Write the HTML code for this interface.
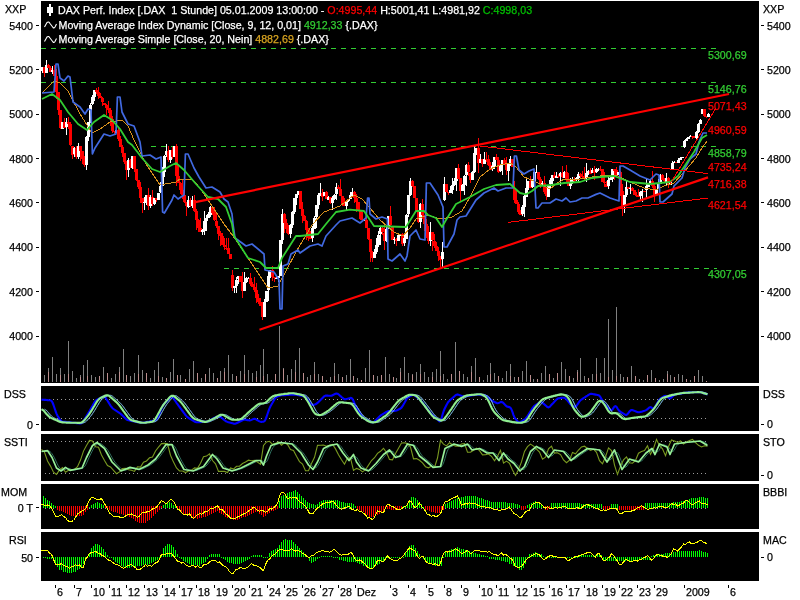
<!DOCTYPE html><html><head><meta charset="utf-8"><title>DAX Perf. Index</title>
<style>html,body{margin:0;padding:0;background:#fff;width:800px;height:600px;overflow:hidden}svg{display:block}text{font-family:"Liberation Sans",sans-serif;font-size:10.68px;fill:#000}text{stroke:#000;stroke-width:.25px}.w{fill:#fff;stroke:#fff}.r{fill:#ff0000;stroke:#ff0000}.g{fill:#32cd32;stroke:#32cd32}.o{fill:#daa520;stroke:#daa520}.c{fill:#00c000;stroke:#00c000}</style></head><body>
<svg width="800" height="600" viewBox="0 0 800 600">
<rect width="800" height="600" fill="#fff"/>
<rect x="41" y="1" width="718" height="382" fill="#000"/>
<rect x="41" y="386" width="718" height="45" fill="#000"/>
<rect x="41" y="434" width="718" height="47" fill="#000"/>
<rect x="41" y="484" width="718" height="45" fill="#000"/>
<rect x="41" y="532" width="718" height="49" fill="#000"/>
<line x1="41" y1="48.5" x2="717" y2="48.5" stroke="#32cd32" stroke-width="1" stroke-dasharray="5 5" shape-rendering="crispEdges"/>
<line x1="41" y1="82.5" x2="717" y2="82.5" stroke="#32cd32" stroke-width="1" stroke-dasharray="5 5" shape-rendering="crispEdges"/>
<line x1="151" y1="146.5" x2="717" y2="146.5" stroke="#32cd32" stroke-width="1" stroke-dasharray="5 5" shape-rendering="crispEdges"/>
<line x1="224" y1="268.5" x2="717" y2="268.5" stroke="#32cd32" stroke-width="1" stroke-dasharray="5 5" shape-rendering="crispEdges"/>
<g shape-rendering="crispEdges">
<rect x="44" y="375" width="1" height="7" fill="#808080"/>
<rect x="48" y="368" width="1" height="14" fill="#808080"/>
<rect x="48" y="372" width="1" height="10" fill="#bc8f8f"/>
<rect x="52" y="357" width="1" height="25" fill="#808080"/>
<rect x="56" y="374" width="1" height="8" fill="#808080"/>
<rect x="60" y="368" width="1" height="14" fill="#808080"/>
<rect x="60" y="375" width="1" height="7" fill="#bc8f8f"/>
<rect x="64" y="374" width="1" height="8" fill="#808080"/>
<rect x="68" y="341" width="1" height="41" fill="#808080"/>
<rect x="68" y="374" width="1" height="8" fill="#bc8f8f"/>
<rect x="72" y="371" width="1" height="11" fill="#808080"/>
<rect x="76" y="378" width="1" height="4" fill="#808080"/>
<rect x="80" y="375" width="1" height="7" fill="#808080"/>
<rect x="80" y="377" width="1" height="5" fill="#bc8f8f"/>
<rect x="83" y="365" width="1" height="17" fill="#808080"/>
<rect x="87" y="360" width="1" height="22" fill="#808080"/>
<rect x="87" y="376" width="1" height="6" fill="#bc8f8f"/>
<rect x="91" y="375" width="1" height="7" fill="#808080"/>
<rect x="95" y="377" width="1" height="5" fill="#808080"/>
<rect x="99" y="376" width="1" height="6" fill="#808080"/>
<rect x="99" y="376" width="1" height="6" fill="#bc8f8f"/>
<rect x="103" y="367" width="1" height="15" fill="#808080"/>
<rect x="107" y="373" width="1" height="9" fill="#808080"/>
<rect x="107" y="373" width="1" height="9" fill="#bc8f8f"/>
<rect x="111" y="378" width="1" height="4" fill="#808080"/>
<rect x="115" y="374" width="1" height="8" fill="#808080"/>
<rect x="119" y="367" width="1" height="15" fill="#808080"/>
<rect x="119" y="372" width="1" height="10" fill="#bc8f8f"/>
<rect x="123" y="349" width="1" height="33" fill="#808080"/>
<rect x="126" y="375" width="1" height="7" fill="#808080"/>
<rect x="126" y="375" width="1" height="7" fill="#bc8f8f"/>
<rect x="130" y="376" width="1" height="6" fill="#808080"/>
<rect x="134" y="373" width="1" height="9" fill="#808080"/>
<rect x="138" y="355" width="1" height="27" fill="#808080"/>
<rect x="138" y="374" width="1" height="8" fill="#bc8f8f"/>
<rect x="142" y="370" width="1" height="12" fill="#808080"/>
<rect x="146" y="373" width="1" height="9" fill="#808080"/>
<rect x="146" y="373" width="1" height="9" fill="#bc8f8f"/>
<rect x="150" y="378" width="1" height="4" fill="#808080"/>
<rect x="154" y="370" width="1" height="12" fill="#808080"/>
<rect x="158" y="362" width="1" height="20" fill="#808080"/>
<rect x="158" y="376" width="1" height="6" fill="#bc8f8f"/>
<rect x="162" y="377" width="1" height="5" fill="#808080"/>
<rect x="166" y="378" width="1" height="4" fill="#808080"/>
<rect x="166" y="378" width="1" height="4" fill="#bc8f8f"/>
<rect x="170" y="372" width="1" height="10" fill="#808080"/>
<rect x="173" y="359" width="1" height="23" fill="#808080"/>
<rect x="177" y="375" width="1" height="7" fill="#808080"/>
<rect x="177" y="375" width="1" height="7" fill="#bc8f8f"/>
<rect x="180" y="375" width="1" height="7" fill="#808080"/>
<rect x="185" y="379" width="1" height="3" fill="#808080"/>
<rect x="185" y="379" width="1" height="3" fill="#bc8f8f"/>
<rect x="189" y="369" width="1" height="13" fill="#808080"/>
<rect x="193" y="361" width="1" height="21" fill="#808080"/>
<rect x="197" y="373" width="1" height="9" fill="#808080"/>
<rect x="197" y="373" width="1" height="9" fill="#bc8f8f"/>
<rect x="201" y="378" width="1" height="4" fill="#808080"/>
<rect x="205" y="374" width="1" height="8" fill="#808080"/>
<rect x="205" y="374" width="1" height="8" fill="#bc8f8f"/>
<rect x="209" y="368" width="1" height="14" fill="#808080"/>
<rect x="213" y="373" width="1" height="9" fill="#808080"/>
<rect x="217" y="378" width="1" height="4" fill="#808080"/>
<rect x="217" y="378" width="1" height="4" fill="#bc8f8f"/>
<rect x="220" y="371" width="1" height="11" fill="#808080"/>
<rect x="224" y="368" width="1" height="14" fill="#808080"/>
<rect x="224" y="372" width="1" height="10" fill="#bc8f8f"/>
<rect x="228" y="355" width="1" height="27" fill="#808080"/>
<rect x="232" y="374" width="1" height="8" fill="#808080"/>
<rect x="236" y="376" width="1" height="6" fill="#808080"/>
<rect x="236" y="376" width="1" height="6" fill="#bc8f8f"/>
<rect x="240" y="371" width="1" height="11" fill="#808080"/>
<rect x="244" y="355" width="1" height="27" fill="#808080"/>
<rect x="244" y="374" width="1" height="8" fill="#bc8f8f"/>
<rect x="248" y="370" width="1" height="12" fill="#808080"/>
<rect x="252" y="373" width="1" height="9" fill="#808080"/>
<rect x="256" y="371" width="1" height="11" fill="#808080"/>
<rect x="256" y="377" width="1" height="5" fill="#bc8f8f"/>
<rect x="260" y="365" width="1" height="17" fill="#808080"/>
<rect x="263" y="349" width="1" height="33" fill="#808080"/>
<rect x="263" y="376" width="1" height="6" fill="#bc8f8f"/>
<rect x="267" y="374" width="1" height="8" fill="#808080"/>
<rect x="271" y="380" width="1" height="2" fill="#808080"/>
<rect x="275" y="374" width="1" height="8" fill="#808080"/>
<rect x="275" y="374" width="1" height="8" fill="#bc8f8f"/>
<rect x="279" y="326" width="1" height="56" fill="#808080"/>
<rect x="283" y="368" width="1" height="14" fill="#808080"/>
<rect x="283" y="369" width="1" height="13" fill="#bc8f8f"/>
<rect x="287" y="375" width="1" height="7" fill="#808080"/>
<rect x="291" y="369" width="1" height="13" fill="#808080"/>
<rect x="295" y="360" width="1" height="22" fill="#808080"/>
<rect x="295" y="372" width="1" height="10" fill="#bc8f8f"/>
<rect x="299" y="348" width="1" height="34" fill="#808080"/>
<rect x="303" y="373" width="1" height="9" fill="#808080"/>
<rect x="303" y="373" width="1" height="9" fill="#bc8f8f"/>
<rect x="307" y="377" width="1" height="5" fill="#808080"/>
<rect x="310" y="375" width="1" height="7" fill="#808080"/>
<rect x="314" y="362" width="1" height="20" fill="#808080"/>
<rect x="314" y="374" width="1" height="8" fill="#bc8f8f"/>
<rect x="318" y="374" width="1" height="8" fill="#808080"/>
<rect x="322" y="376" width="1" height="6" fill="#808080"/>
<rect x="322" y="376" width="1" height="6" fill="#bc8f8f"/>
<rect x="326" y="380" width="1" height="2" fill="#808080"/>
<rect x="330" y="377" width="1" height="5" fill="#808080"/>
<rect x="334" y="363" width="1" height="19" fill="#808080"/>
<rect x="334" y="376" width="1" height="6" fill="#bc8f8f"/>
<rect x="338" y="374" width="1" height="8" fill="#808080"/>
<rect x="342" y="377" width="1" height="5" fill="#808080"/>
<rect x="342" y="377" width="1" height="5" fill="#bc8f8f"/>
<rect x="346" y="375" width="1" height="7" fill="#808080"/>
<rect x="350" y="359" width="1" height="23" fill="#808080"/>
<rect x="353" y="376" width="1" height="6" fill="#808080"/>
<rect x="353" y="376" width="1" height="6" fill="#bc8f8f"/>
<rect x="357" y="378" width="1" height="4" fill="#808080"/>
<rect x="361" y="380" width="1" height="2" fill="#808080"/>
<rect x="361" y="380" width="1" height="2" fill="#bc8f8f"/>
<rect x="365" y="368" width="1" height="14" fill="#808080"/>
<rect x="369" y="350" width="1" height="32" fill="#808080"/>
<rect x="373" y="375" width="1" height="7" fill="#808080"/>
<rect x="373" y="375" width="1" height="7" fill="#bc8f8f"/>
<rect x="377" y="376" width="1" height="6" fill="#808080"/>
<rect x="381" y="375" width="1" height="7" fill="#808080"/>
<rect x="381" y="375" width="1" height="7" fill="#bc8f8f"/>
<rect x="385" y="357" width="1" height="25" fill="#808080"/>
<rect x="389" y="374" width="1" height="8" fill="#808080"/>
<rect x="393" y="377" width="1" height="5" fill="#808080"/>
<rect x="393" y="377" width="1" height="5" fill="#bc8f8f"/>
<rect x="396" y="378" width="1" height="4" fill="#808080"/>
<rect x="400" y="368" width="1" height="14" fill="#808080"/>
<rect x="400" y="372" width="1" height="10" fill="#bc8f8f"/>
<rect x="404" y="357" width="1" height="25" fill="#808080"/>
<rect x="408" y="373" width="1" height="9" fill="#808080"/>
<rect x="412" y="374" width="1" height="8" fill="#808080"/>
<rect x="412" y="375" width="1" height="7" fill="#bc8f8f"/>
<rect x="416" y="372" width="1" height="10" fill="#808080"/>
<rect x="420" y="364" width="1" height="18" fill="#808080"/>
<rect x="420" y="374" width="1" height="8" fill="#bc8f8f"/>
<rect x="424" y="372" width="1" height="10" fill="#808080"/>
<rect x="428" y="377" width="1" height="5" fill="#808080"/>
<rect x="432" y="372" width="1" height="10" fill="#808080"/>
<rect x="432" y="377" width="1" height="5" fill="#bc8f8f"/>
<rect x="436" y="369" width="1" height="13" fill="#808080"/>
<rect x="440" y="351" width="1" height="31" fill="#808080"/>
<rect x="440" y="376" width="1" height="6" fill="#bc8f8f"/>
<rect x="443" y="374" width="1" height="8" fill="#808080"/>
<rect x="447" y="379" width="1" height="3" fill="#808080"/>
<rect x="451" y="374" width="1" height="8" fill="#808080"/>
<rect x="451" y="374" width="1" height="8" fill="#bc8f8f"/>
<rect x="455" y="342" width="1" height="40" fill="#808080"/>
<rect x="459" y="371" width="1" height="11" fill="#808080"/>
<rect x="459" y="371" width="1" height="11" fill="#bc8f8f"/>
<rect x="463" y="374" width="1" height="8" fill="#808080"/>
<rect x="467" y="377" width="1" height="5" fill="#808080"/>
<rect x="471" y="366" width="1" height="16" fill="#808080"/>
<rect x="471" y="372" width="1" height="10" fill="#bc8f8f"/>
<rect x="475" y="358" width="1" height="24" fill="#808080"/>
<rect x="479" y="377" width="1" height="5" fill="#808080"/>
<rect x="479" y="377" width="1" height="5" fill="#bc8f8f"/>
<rect x="483" y="380" width="1" height="2" fill="#808080"/>
<rect x="487" y="375" width="1" height="7" fill="#808080"/>
<rect x="490" y="363" width="1" height="19" fill="#808080"/>
<rect x="490" y="374" width="1" height="8" fill="#bc8f8f"/>
<rect x="494" y="373" width="1" height="9" fill="#808080"/>
<rect x="498" y="376" width="1" height="6" fill="#808080"/>
<rect x="498" y="376" width="1" height="6" fill="#bc8f8f"/>
<rect x="502" y="378" width="1" height="4" fill="#808080"/>
<rect x="506" y="371" width="1" height="11" fill="#808080"/>
<rect x="510" y="364" width="1" height="18" fill="#808080"/>
<rect x="510" y="376" width="1" height="6" fill="#bc8f8f"/>
<rect x="514" y="377" width="1" height="5" fill="#808080"/>
<rect x="518" y="377" width="1" height="5" fill="#808080"/>
<rect x="518" y="377" width="1" height="5" fill="#bc8f8f"/>
<rect x="522" y="371" width="1" height="11" fill="#808080"/>
<rect x="526" y="361" width="1" height="21" fill="#808080"/>
<rect x="530" y="375" width="1" height="7" fill="#808080"/>
<rect x="530" y="375" width="1" height="7" fill="#bc8f8f"/>
<rect x="533" y="379" width="1" height="3" fill="#808080"/>
<rect x="537" y="379" width="1" height="3" fill="#808080"/>
<rect x="537" y="379" width="1" height="3" fill="#bc8f8f"/>
<rect x="541" y="373" width="1" height="9" fill="#808080"/>
<rect x="545" y="366" width="1" height="16" fill="#808080"/>
<rect x="549" y="374" width="1" height="8" fill="#808080"/>
<rect x="549" y="374" width="1" height="8" fill="#bc8f8f"/>
<rect x="553" y="378" width="1" height="4" fill="#808080"/>
<rect x="557" y="373" width="1" height="9" fill="#808080"/>
<rect x="557" y="373" width="1" height="9" fill="#bc8f8f"/>
<rect x="561" y="362" width="1" height="20" fill="#808080"/>
<rect x="565" y="369" width="1" height="13" fill="#808080"/>
<rect x="569" y="376" width="1" height="6" fill="#808080"/>
<rect x="569" y="376" width="1" height="6" fill="#bc8f8f"/>
<rect x="573" y="378" width="1" height="4" fill="#808080"/>
<rect x="577" y="370" width="1" height="12" fill="#808080"/>
<rect x="577" y="372" width="1" height="10" fill="#bc8f8f"/>
<rect x="580" y="358" width="1" height="24" fill="#808080"/>
<rect x="584" y="376" width="1" height="6" fill="#808080"/>
<rect x="588" y="378" width="1" height="4" fill="#808080"/>
<rect x="588" y="378" width="1" height="4" fill="#bc8f8f"/>
<rect x="592" y="374" width="1" height="8" fill="#808080"/>
<rect x="596" y="358" width="1" height="24" fill="#808080"/>
<rect x="596" y="374" width="1" height="8" fill="#bc8f8f"/>
<rect x="600" y="373" width="1" height="9" fill="#808080"/>
<rect x="604" y="358" width="1" height="24" fill="#808080"/>
<rect x="608" y="319" width="1" height="63" fill="#808080"/>
<rect x="608" y="377" width="1" height="5" fill="#bc8f8f"/>
<rect x="612" y="370" width="1" height="12" fill="#808080"/>
<rect x="616" y="307" width="1" height="75" fill="#808080"/>
<rect x="616" y="376" width="1" height="6" fill="#bc8f8f"/>
<rect x="620" y="374" width="1" height="8" fill="#808080"/>
<rect x="623" y="377" width="1" height="5" fill="#808080"/>
<rect x="627" y="377" width="1" height="5" fill="#808080"/>
<rect x="627" y="377" width="1" height="5" fill="#bc8f8f"/>
<rect x="631" y="366" width="1" height="16" fill="#808080"/>
<rect x="635" y="376" width="1" height="6" fill="#808080"/>
<rect x="635" y="376" width="1" height="6" fill="#bc8f8f"/>
<rect x="639" y="379" width="1" height="3" fill="#808080"/>
<rect x="643" y="380" width="1" height="2" fill="#808080"/>
<rect x="647" y="375" width="1" height="7" fill="#808080"/>
<rect x="647" y="375" width="1" height="7" fill="#bc8f8f"/>
<rect x="651" y="370" width="1" height="12" fill="#808080"/>
<rect x="655" y="378" width="1" height="4" fill="#808080"/>
<rect x="655" y="378" width="1" height="4" fill="#bc8f8f"/>
<rect x="659" y="380" width="1" height="2" fill="#808080"/>
<rect x="663" y="379" width="1" height="3" fill="#808080"/>
<rect x="667" y="371" width="1" height="11" fill="#808080"/>
<rect x="667" y="374" width="1" height="8" fill="#bc8f8f"/>
<rect x="670" y="375" width="1" height="7" fill="#808080"/>
<rect x="674" y="377" width="1" height="5" fill="#808080"/>
<rect x="674" y="377" width="1" height="5" fill="#bc8f8f"/>
<rect x="678" y="374" width="1" height="8" fill="#808080"/>
<rect x="682" y="375" width="1" height="7" fill="#808080"/>
<rect x="686" y="379" width="1" height="3" fill="#808080"/>
<rect x="686" y="379" width="1" height="3" fill="#bc8f8f"/>
<rect x="690" y="380" width="1" height="2" fill="#808080"/>
<rect x="694" y="376" width="1" height="6" fill="#808080"/>
<rect x="694" y="376" width="1" height="6" fill="#bc8f8f"/>
<rect x="698" y="370" width="1" height="12" fill="#808080"/>
<rect x="702" y="376" width="1" height="6" fill="#808080"/>
<rect x="706" y="381" width="1" height="1" fill="#808080"/>
<rect x="706" y="381" width="1" height="1" fill="#bc8f8f"/>
</g>
<g shape-rendering="crispEdges">
<rect x="42" y="67" width="1" height="6" fill="#ffffff"/>
<rect x="41" y="67" width="3" height="4" fill="#ffffff"/>
<rect x="44" y="67" width="1" height="10" fill="#ff0000"/>
<rect x="43" y="67" width="3" height="6" fill="#ff0000"/>
<rect x="46" y="60" width="1" height="13" fill="#ffffff"/>
<rect x="45" y="65" width="3" height="8" fill="#ffffff"/>
<rect x="48" y="64" width="1" height="4" fill="#ff0000"/>
<rect x="47" y="65" width="3" height="3" fill="#ff0000"/>
<rect x="50" y="66" width="1" height="6" fill="#ff0000"/>
<rect x="49" y="68" width="3" height="4" fill="#ff0000"/>
<rect x="52" y="66" width="1" height="8" fill="#ffffff"/>
<rect x="51" y="70" width="3" height="2" fill="#ffffff"/>
<rect x="54" y="65" width="1" height="11" fill="#ff0000"/>
<rect x="53" y="70" width="3" height="6" fill="#ff0000"/>
<rect x="56" y="69" width="1" height="30" fill="#ff0000"/>
<rect x="55" y="76" width="3" height="16" fill="#ff0000"/>
<rect x="58" y="92" width="1" height="23" fill="#ff0000"/>
<rect x="57" y="92" width="3" height="18" fill="#ff0000"/>
<rect x="60" y="110" width="1" height="19" fill="#ff0000"/>
<rect x="59" y="110" width="3" height="18" fill="#ff0000"/>
<rect x="62" y="122" width="1" height="7" fill="#ffffff"/>
<rect x="61" y="122" width="3" height="7" fill="#ffffff"/>
<rect x="64" y="118" width="1" height="10" fill="#ff0000"/>
<rect x="63" y="122" width="3" height="6" fill="#ff0000"/>
<rect x="66" y="118" width="1" height="17" fill="#ffffff"/>
<rect x="65" y="122" width="3" height="5" fill="#ffffff"/>
<rect x="68" y="117" width="1" height="12" fill="#ff0000"/>
<rect x="67" y="122" width="3" height="2" fill="#ff0000"/>
<rect x="70" y="122" width="1" height="24" fill="#ff0000"/>
<rect x="69" y="124" width="3" height="21" fill="#ff0000"/>
<rect x="72" y="146" width="1" height="13" fill="#ff0000"/>
<rect x="71" y="146" width="3" height="9" fill="#ff0000"/>
<rect x="74" y="147" width="1" height="10" fill="#ffffff"/>
<rect x="73" y="148" width="3" height="6" fill="#ffffff"/>
<rect x="76" y="146" width="1" height="13" fill="#ff0000"/>
<rect x="75" y="148" width="3" height="9" fill="#ff0000"/>
<rect x="78" y="143" width="1" height="16" fill="#ffffff"/>
<rect x="77" y="146" width="3" height="11" fill="#ffffff"/>
<rect x="80" y="146" width="1" height="15" fill="#ff0000"/>
<rect x="79" y="146" width="3" height="5" fill="#ff0000"/>
<rect x="82" y="151" width="1" height="13" fill="#ff0000"/>
<rect x="81" y="151" width="3" height="8" fill="#ff0000"/>
<rect x="84" y="156" width="1" height="11" fill="#ff0000"/>
<rect x="83" y="159" width="3" height="6" fill="#ff0000"/>
<rect x="86" y="136" width="1" height="34" fill="#ffffff"/>
<rect x="85" y="137" width="3" height="28" fill="#ffffff"/>
<rect x="88" y="122" width="1" height="19" fill="#ffffff"/>
<rect x="87" y="122" width="3" height="15" fill="#ffffff"/>
<rect x="90" y="103" width="1" height="19" fill="#ffffff"/>
<rect x="89" y="105" width="3" height="18" fill="#ffffff"/>
<rect x="92" y="95" width="1" height="10" fill="#ffffff"/>
<rect x="91" y="97" width="3" height="7" fill="#ffffff"/>
<rect x="94" y="90" width="1" height="11" fill="#ffffff"/>
<rect x="93" y="90" width="3" height="7" fill="#ffffff"/>
<rect x="96" y="88" width="1" height="6" fill="#ff0000"/>
<rect x="95" y="90" width="3" height="2" fill="#ff0000"/>
<rect x="98" y="87" width="1" height="12" fill="#ff0000"/>
<rect x="97" y="92" width="3" height="4" fill="#ff0000"/>
<rect x="100" y="93" width="1" height="5" fill="#ff0000"/>
<rect x="99" y="96" width="3" height="2" fill="#ff0000"/>
<rect x="102" y="97" width="1" height="9" fill="#ff0000"/>
<rect x="101" y="98" width="3" height="4" fill="#ff0000"/>
<rect x="104" y="103" width="1" height="2" fill="#ff0000"/>
<rect x="103" y="103" width="3" height="2" fill="#ff0000"/>
<rect x="106" y="104" width="1" height="11" fill="#ff0000"/>
<rect x="105" y="105" width="3" height="3" fill="#ff0000"/>
<rect x="108" y="101" width="1" height="12" fill="#ff0000"/>
<rect x="107" y="108" width="3" height="2" fill="#ff0000"/>
<rect x="110" y="108" width="1" height="18" fill="#ff0000"/>
<rect x="109" y="110" width="3" height="9" fill="#ff0000"/>
<rect x="112" y="116" width="1" height="17" fill="#ff0000"/>
<rect x="111" y="119" width="3" height="12" fill="#ff0000"/>
<rect x="114" y="131" width="1" height="4" fill="#ff0000"/>
<rect x="113" y="131" width="3" height="1" fill="#ff0000"/>
<rect x="116" y="129" width="1" height="3" fill="#ffffff"/>
<rect x="115" y="130" width="3" height="3" fill="#ffffff"/>
<rect x="118" y="128" width="1" height="13" fill="#ff0000"/>
<rect x="117" y="130" width="3" height="9" fill="#ff0000"/>
<rect x="120" y="136" width="1" height="11" fill="#ff0000"/>
<rect x="119" y="139" width="3" height="8" fill="#ff0000"/>
<rect x="122" y="145" width="1" height="12" fill="#ff0000"/>
<rect x="121" y="147" width="3" height="6" fill="#ff0000"/>
<rect x="124" y="153" width="1" height="11" fill="#ff0000"/>
<rect x="123" y="153" width="3" height="9" fill="#ff0000"/>
<rect x="126" y="161" width="1" height="19" fill="#ff0000"/>
<rect x="125" y="162" width="3" height="8" fill="#ff0000"/>
<rect x="128" y="158" width="1" height="19" fill="#ffffff"/>
<rect x="127" y="160" width="3" height="10" fill="#ffffff"/>
<rect x="130" y="159" width="1" height="9" fill="#ff0000"/>
<rect x="129" y="160" width="3" height="8" fill="#ff0000"/>
<rect x="132" y="156" width="1" height="13" fill="#ffffff"/>
<rect x="131" y="156" width="3" height="12" fill="#ffffff"/>
<rect x="134" y="156" width="1" height="16" fill="#ff0000"/>
<rect x="133" y="156" width="3" height="13" fill="#ff0000"/>
<rect x="136" y="169" width="1" height="12" fill="#ff0000"/>
<rect x="135" y="169" width="3" height="11" fill="#ff0000"/>
<rect x="138" y="180" width="1" height="9" fill="#ff0000"/>
<rect x="137" y="180" width="3" height="7" fill="#ff0000"/>
<rect x="140" y="182" width="1" height="21" fill="#ff0000"/>
<rect x="139" y="187" width="3" height="11" fill="#ff0000"/>
<rect x="142" y="198" width="1" height="15" fill="#ff0000"/>
<rect x="141" y="198" width="3" height="5" fill="#ff0000"/>
<rect x="144" y="197" width="1" height="13" fill="#ffffff"/>
<rect x="143" y="202" width="3" height="1" fill="#ffffff"/>
<rect x="146" y="195" width="1" height="10" fill="#ffffff"/>
<rect x="145" y="195" width="3" height="7" fill="#ffffff"/>
<rect x="148" y="188" width="1" height="22" fill="#ff0000"/>
<rect x="147" y="195" width="3" height="11" fill="#ff0000"/>
<rect x="150" y="195" width="1" height="13" fill="#ffffff"/>
<rect x="149" y="197" width="3" height="9" fill="#ffffff"/>
<rect x="152" y="190" width="1" height="16" fill="#ff0000"/>
<rect x="151" y="197" width="3" height="7" fill="#ff0000"/>
<rect x="154" y="198" width="1" height="7" fill="#ffffff"/>
<rect x="153" y="198" width="3" height="6" fill="#ffffff"/>
<rect x="156" y="198" width="1" height="4" fill="#ff0000"/>
<rect x="155" y="198" width="3" height="2" fill="#ff0000"/>
<rect x="158" y="193" width="1" height="7" fill="#ffffff"/>
<rect x="157" y="193" width="3" height="7" fill="#ffffff"/>
<rect x="160" y="182" width="1" height="11" fill="#ffffff"/>
<rect x="159" y="186" width="3" height="6" fill="#ffffff"/>
<rect x="162" y="167" width="1" height="19" fill="#ffffff"/>
<rect x="161" y="172" width="3" height="14" fill="#ffffff"/>
<rect x="164" y="155" width="1" height="22" fill="#ffffff"/>
<rect x="163" y="156" width="3" height="16" fill="#ffffff"/>
<rect x="166" y="144" width="1" height="13" fill="#ffffff"/>
<rect x="165" y="151" width="3" height="4" fill="#ffffff"/>
<rect x="168" y="146" width="1" height="16" fill="#ff0000"/>
<rect x="167" y="151" width="3" height="9" fill="#ff0000"/>
<rect x="170" y="150" width="1" height="13" fill="#ffffff"/>
<rect x="169" y="150" width="3" height="10" fill="#ffffff"/>
<rect x="172" y="147" width="1" height="12" fill="#ff0000"/>
<rect x="171" y="150" width="3" height="7" fill="#ff0000"/>
<rect x="174" y="146" width="1" height="10" fill="#ffffff"/>
<rect x="173" y="146" width="3" height="11" fill="#ffffff"/>
<rect x="176" y="144" width="1" height="42" fill="#ff0000"/>
<rect x="175" y="146" width="3" height="30" fill="#ff0000"/>
<rect x="178" y="166" width="1" height="17" fill="#ff0000"/>
<rect x="177" y="176" width="3" height="7" fill="#ff0000"/>
<rect x="180" y="182" width="1" height="12" fill="#ff0000"/>
<rect x="179" y="183" width="3" height="7" fill="#ff0000"/>
<rect x="182" y="180" width="1" height="19" fill="#ff0000"/>
<rect x="181" y="190" width="3" height="5" fill="#ff0000"/>
<rect x="184" y="191" width="1" height="12" fill="#ff0000"/>
<rect x="183" y="195" width="3" height="7" fill="#ff0000"/>
<rect x="186" y="202" width="1" height="14" fill="#ff0000"/>
<rect x="185" y="202" width="3" height="4" fill="#ff0000"/>
<rect x="188" y="196" width="1" height="12" fill="#ffffff"/>
<rect x="187" y="200" width="3" height="7" fill="#ffffff"/>
<rect x="190" y="198" width="1" height="9" fill="#ff0000"/>
<rect x="189" y="200" width="3" height="6" fill="#ff0000"/>
<rect x="192" y="196" width="1" height="12" fill="#ffffff"/>
<rect x="191" y="200" width="3" height="6" fill="#ffffff"/>
<rect x="194" y="195" width="1" height="17" fill="#ff0000"/>
<rect x="193" y="200" width="3" height="11" fill="#ff0000"/>
<rect x="196" y="209" width="1" height="21" fill="#ff0000"/>
<rect x="195" y="211" width="3" height="9" fill="#ff0000"/>
<rect x="198" y="219" width="1" height="13" fill="#ff0000"/>
<rect x="197" y="220" width="3" height="8" fill="#ff0000"/>
<rect x="200" y="218" width="1" height="14" fill="#ff0000"/>
<rect x="199" y="228" width="3" height="4" fill="#ff0000"/>
<rect x="202" y="229" width="1" height="6" fill="#ffffff"/>
<rect x="201" y="230" width="3" height="2" fill="#ffffff"/>
<rect x="204" y="211" width="1" height="24" fill="#ffffff"/>
<rect x="203" y="221" width="3" height="10" fill="#ffffff"/>
<rect x="206" y="215" width="1" height="16" fill="#ffffff"/>
<rect x="205" y="218" width="3" height="3" fill="#ffffff"/>
<rect x="208" y="212" width="1" height="6" fill="#ffffff"/>
<rect x="207" y="214" width="3" height="4" fill="#ffffff"/>
<rect x="210" y="206" width="1" height="11" fill="#ffffff"/>
<rect x="209" y="207" width="3" height="8" fill="#ffffff"/>
<rect x="212" y="206" width="1" height="9" fill="#ff0000"/>
<rect x="211" y="207" width="3" height="6" fill="#ff0000"/>
<rect x="214" y="207" width="1" height="14" fill="#ff0000"/>
<rect x="213" y="212" width="3" height="8" fill="#ff0000"/>
<rect x="216" y="214" width="1" height="14" fill="#ff0000"/>
<rect x="215" y="221" width="3" height="5" fill="#ff0000"/>
<rect x="218" y="226" width="1" height="14" fill="#ff0000"/>
<rect x="217" y="226" width="3" height="8" fill="#ff0000"/>
<rect x="220" y="231" width="1" height="15" fill="#ff0000"/>
<rect x="219" y="233" width="3" height="3" fill="#ff0000"/>
<rect x="222" y="233" width="1" height="12" fill="#ff0000"/>
<rect x="221" y="236" width="3" height="9" fill="#ff0000"/>
<rect x="224" y="238" width="1" height="12" fill="#ff0000"/>
<rect x="223" y="245" width="3" height="2" fill="#ff0000"/>
<rect x="226" y="238" width="1" height="12" fill="#ff0000"/>
<rect x="225" y="248" width="3" height="1" fill="#ff0000"/>
<rect x="228" y="238" width="1" height="16" fill="#ff0000"/>
<rect x="227" y="248" width="3" height="6" fill="#ff0000"/>
<rect x="230" y="254" width="1" height="5" fill="#ff0000"/>
<rect x="229" y="254" width="3" height="5" fill="#ff0000"/>
<rect x="232" y="270" width="1" height="21" fill="#ff0000"/>
<rect x="231" y="275" width="3" height="13" fill="#ff0000"/>
<rect x="234" y="286" width="1" height="7" fill="#ffffff"/>
<rect x="233" y="286" width="3" height="2" fill="#ffffff"/>
<rect x="236" y="277" width="1" height="16" fill="#ffffff"/>
<rect x="235" y="280" width="3" height="6" fill="#ffffff"/>
<rect x="238" y="276" width="1" height="8" fill="#ffffff"/>
<rect x="237" y="276" width="3" height="3" fill="#ffffff"/>
<rect x="240" y="276" width="1" height="6" fill="#ff0000"/>
<rect x="239" y="276" width="3" height="6" fill="#ff0000"/>
<rect x="242" y="272" width="1" height="26" fill="#ff0000"/>
<rect x="241" y="282" width="3" height="9" fill="#ff0000"/>
<rect x="244" y="272" width="1" height="19" fill="#ffffff"/>
<rect x="243" y="282" width="3" height="9" fill="#ffffff"/>
<rect x="246" y="277" width="1" height="6" fill="#ffffff"/>
<rect x="245" y="278" width="3" height="4" fill="#ffffff"/>
<rect x="248" y="277" width="1" height="2" fill="#ffffff"/>
<rect x="247" y="278" width="3" height="1" fill="#ffffff"/>
<rect x="250" y="273" width="1" height="13" fill="#ff0000"/>
<rect x="249" y="278" width="3" height="6" fill="#ff0000"/>
<rect x="252" y="282" width="1" height="5" fill="#ff0000"/>
<rect x="251" y="284" width="3" height="3" fill="#ff0000"/>
<rect x="254" y="277" width="1" height="15" fill="#ff0000"/>
<rect x="253" y="287" width="3" height="3" fill="#ff0000"/>
<rect x="256" y="283" width="1" height="20" fill="#ff0000"/>
<rect x="255" y="290" width="3" height="8" fill="#ff0000"/>
<rect x="258" y="294" width="1" height="10" fill="#ff0000"/>
<rect x="257" y="298" width="3" height="4" fill="#ff0000"/>
<rect x="260" y="298" width="1" height="8" fill="#ff0000"/>
<rect x="259" y="302" width="3" height="4" fill="#ff0000"/>
<rect x="262" y="302" width="1" height="18" fill="#ff0000"/>
<rect x="261" y="306" width="3" height="11" fill="#ff0000"/>
<rect x="264" y="299" width="1" height="17" fill="#ffffff"/>
<rect x="263" y="302" width="3" height="15" fill="#ffffff"/>
<rect x="266" y="291" width="1" height="11" fill="#ffffff"/>
<rect x="265" y="291" width="3" height="11" fill="#ffffff"/>
<rect x="268" y="271" width="1" height="30" fill="#ffffff"/>
<rect x="267" y="276" width="3" height="14" fill="#ffffff"/>
<rect x="270" y="270" width="1" height="8" fill="#ffffff"/>
<rect x="269" y="270" width="3" height="6" fill="#ffffff"/>
<rect x="272" y="266" width="1" height="15" fill="#ff0000"/>
<rect x="271" y="270" width="3" height="7" fill="#ff0000"/>
<rect x="274" y="277" width="1" height="5" fill="#ff0000"/>
<rect x="273" y="277" width="3" height="1" fill="#ff0000"/>
<rect x="276" y="277" width="1" height="2" fill="#ffffff"/>
<rect x="275" y="278" width="3" height="1" fill="#ffffff"/>
<rect x="278" y="276" width="1" height="6" fill="#ffffff"/>
<rect x="277" y="276" width="3" height="2" fill="#ffffff"/>
<rect x="280" y="240" width="1" height="36" fill="#ffffff"/>
<rect x="279" y="240" width="3" height="36" fill="#ffffff"/>
<rect x="282" y="209" width="1" height="35" fill="#ffffff"/>
<rect x="281" y="214" width="3" height="26" fill="#ffffff"/>
<rect x="284" y="213" width="1" height="20" fill="#ff0000"/>
<rect x="283" y="214" width="3" height="9" fill="#ff0000"/>
<rect x="286" y="219" width="1" height="14" fill="#ff0000"/>
<rect x="285" y="223" width="3" height="6" fill="#ff0000"/>
<rect x="288" y="225" width="1" height="10" fill="#ff0000"/>
<rect x="287" y="229" width="3" height="5" fill="#ff0000"/>
<rect x="290" y="224" width="1" height="14" fill="#ffffff"/>
<rect x="289" y="225" width="3" height="9" fill="#ffffff"/>
<rect x="292" y="211" width="1" height="17" fill="#ffffff"/>
<rect x="291" y="212" width="3" height="13" fill="#ffffff"/>
<rect x="294" y="198" width="1" height="16" fill="#ffffff"/>
<rect x="293" y="198" width="3" height="14" fill="#ffffff"/>
<rect x="296" y="194" width="1" height="11" fill="#ffffff"/>
<rect x="295" y="194" width="3" height="4" fill="#ffffff"/>
<rect x="298" y="191" width="1" height="4" fill="#ffffff"/>
<rect x="297" y="191" width="3" height="3" fill="#ffffff"/>
<rect x="300" y="191" width="1" height="18" fill="#ff0000"/>
<rect x="299" y="191" width="3" height="18" fill="#ff0000"/>
<rect x="302" y="202" width="1" height="21" fill="#ff0000"/>
<rect x="301" y="209" width="3" height="7" fill="#ff0000"/>
<rect x="304" y="215" width="1" height="6" fill="#ff0000"/>
<rect x="303" y="216" width="3" height="5" fill="#ff0000"/>
<rect x="306" y="220" width="1" height="20" fill="#ff0000"/>
<rect x="305" y="221" width="3" height="9" fill="#ff0000"/>
<rect x="308" y="228" width="1" height="13" fill="#ff0000"/>
<rect x="307" y="230" width="3" height="8" fill="#ff0000"/>
<rect x="310" y="231" width="1" height="8" fill="#ff0000"/>
<rect x="309" y="238" width="3" height="1" fill="#ff0000"/>
<rect x="312" y="226" width="1" height="16" fill="#ffffff"/>
<rect x="311" y="228" width="3" height="10" fill="#ffffff"/>
<rect x="314" y="216" width="1" height="13" fill="#ffffff"/>
<rect x="313" y="218" width="3" height="11" fill="#ffffff"/>
<rect x="316" y="205" width="1" height="23" fill="#ffffff"/>
<rect x="315" y="205" width="3" height="12" fill="#ffffff"/>
<rect x="318" y="193" width="1" height="16" fill="#ffffff"/>
<rect x="317" y="195" width="3" height="10" fill="#ffffff"/>
<rect x="320" y="183" width="1" height="12" fill="#ffffff"/>
<rect x="319" y="193" width="3" height="3" fill="#ffffff"/>
<rect x="322" y="189" width="1" height="12" fill="#ff0000"/>
<rect x="321" y="193" width="3" height="4" fill="#ff0000"/>
<rect x="324" y="192" width="1" height="4" fill="#ffffff"/>
<rect x="323" y="192" width="3" height="4" fill="#ffffff"/>
<rect x="326" y="191" width="1" height="8" fill="#ff0000"/>
<rect x="325" y="192" width="3" height="7" fill="#ff0000"/>
<rect x="328" y="196" width="1" height="3" fill="#ffffff"/>
<rect x="327" y="197" width="3" height="3" fill="#ffffff"/>
<rect x="330" y="197" width="1" height="7" fill="#ff0000"/>
<rect x="329" y="197" width="3" height="6" fill="#ff0000"/>
<rect x="332" y="196" width="1" height="14" fill="#ffffff"/>
<rect x="331" y="198" width="3" height="5" fill="#ffffff"/>
<rect x="334" y="194" width="1" height="6" fill="#ffffff"/>
<rect x="333" y="195" width="3" height="4" fill="#ffffff"/>
<rect x="336" y="183" width="1" height="17" fill="#ffffff"/>
<rect x="335" y="187" width="3" height="7" fill="#ffffff"/>
<rect x="338" y="185" width="1" height="4" fill="#ff0000"/>
<rect x="337" y="187" width="3" height="2" fill="#ff0000"/>
<rect x="340" y="179" width="1" height="17" fill="#ff0000"/>
<rect x="339" y="189" width="3" height="7" fill="#ff0000"/>
<rect x="342" y="196" width="1" height="10" fill="#ff0000"/>
<rect x="341" y="196" width="3" height="9" fill="#ff0000"/>
<rect x="344" y="198" width="1" height="7" fill="#ff0000"/>
<rect x="343" y="205" width="3" height="1" fill="#ff0000"/>
<rect x="346" y="201" width="1" height="9" fill="#ffffff"/>
<rect x="345" y="201" width="3" height="5" fill="#ffffff"/>
<rect x="348" y="199" width="1" height="3" fill="#ffffff"/>
<rect x="347" y="199" width="3" height="2" fill="#ffffff"/>
<rect x="350" y="192" width="1" height="7" fill="#ffffff"/>
<rect x="349" y="195" width="3" height="4" fill="#ffffff"/>
<rect x="352" y="188" width="1" height="9" fill="#ffffff"/>
<rect x="351" y="192" width="3" height="3" fill="#ffffff"/>
<rect x="354" y="191" width="1" height="12" fill="#ff0000"/>
<rect x="353" y="192" width="3" height="6" fill="#ff0000"/>
<rect x="356" y="194" width="1" height="18" fill="#ff0000"/>
<rect x="355" y="198" width="3" height="4" fill="#ff0000"/>
<rect x="358" y="202" width="1" height="9" fill="#ff0000"/>
<rect x="357" y="202" width="3" height="9" fill="#ff0000"/>
<rect x="360" y="211" width="1" height="9" fill="#ff0000"/>
<rect x="359" y="211" width="3" height="8" fill="#ff0000"/>
<rect x="362" y="212" width="1" height="9" fill="#ff0000"/>
<rect x="361" y="219" width="3" height="1" fill="#ff0000"/>
<rect x="364" y="219" width="1" height="2" fill="#ffffff"/>
<rect x="363" y="220" width="3" height="1" fill="#ffffff"/>
<rect x="366" y="213" width="1" height="15" fill="#ff0000"/>
<rect x="365" y="220" width="3" height="8" fill="#ff0000"/>
<rect x="368" y="228" width="1" height="12" fill="#ff0000"/>
<rect x="367" y="228" width="3" height="11" fill="#ff0000"/>
<rect x="370" y="239" width="1" height="23" fill="#ff0000"/>
<rect x="369" y="239" width="3" height="13" fill="#ff0000"/>
<rect x="372" y="251" width="1" height="11" fill="#ff0000"/>
<rect x="371" y="252" width="3" height="6" fill="#ff0000"/>
<rect x="374" y="249" width="1" height="9" fill="#ffffff"/>
<rect x="373" y="252" width="3" height="6" fill="#ffffff"/>
<rect x="376" y="238" width="1" height="16" fill="#ffffff"/>
<rect x="375" y="245" width="3" height="7" fill="#ffffff"/>
<rect x="378" y="231" width="1" height="16" fill="#ffffff"/>
<rect x="377" y="235" width="3" height="10" fill="#ffffff"/>
<rect x="380" y="227" width="1" height="18" fill="#ffffff"/>
<rect x="379" y="228" width="3" height="6" fill="#ffffff"/>
<rect x="382" y="227" width="1" height="8" fill="#ff0000"/>
<rect x="381" y="228" width="3" height="4" fill="#ff0000"/>
<rect x="384" y="223" width="1" height="27" fill="#ff0000"/>
<rect x="383" y="233" width="3" height="8" fill="#ff0000"/>
<rect x="386" y="227" width="1" height="15" fill="#ffffff"/>
<rect x="385" y="229" width="3" height="12" fill="#ffffff"/>
<rect x="388" y="216" width="1" height="13" fill="#ffffff"/>
<rect x="387" y="216" width="3" height="12" fill="#ffffff"/>
<rect x="390" y="206" width="1" height="21" fill="#ff0000"/>
<rect x="389" y="216" width="3" height="9" fill="#ff0000"/>
<rect x="392" y="226" width="1" height="14" fill="#ff0000"/>
<rect x="391" y="226" width="3" height="14" fill="#ff0000"/>
<rect x="394" y="237" width="1" height="7" fill="#ffffff"/>
<rect x="393" y="239" width="3" height="1" fill="#ffffff"/>
<rect x="396" y="238" width="1" height="8" fill="#ff0000"/>
<rect x="395" y="239" width="3" height="2" fill="#ff0000"/>
<rect x="398" y="234" width="1" height="7" fill="#ffffff"/>
<rect x="397" y="235" width="3" height="6" fill="#ffffff"/>
<rect x="400" y="234" width="1" height="2" fill="#ffffff"/>
<rect x="399" y="234" width="3" height="1" fill="#ffffff"/>
<rect x="402" y="233" width="1" height="13" fill="#ff0000"/>
<rect x="401" y="234" width="3" height="10" fill="#ff0000"/>
<rect x="404" y="234" width="1" height="12" fill="#ffffff"/>
<rect x="403" y="238" width="3" height="5" fill="#ffffff"/>
<rect x="406" y="214" width="1" height="25" fill="#ffffff"/>
<rect x="405" y="215" width="3" height="24" fill="#ffffff"/>
<rect x="408" y="195" width="1" height="22" fill="#ffffff"/>
<rect x="407" y="195" width="3" height="19" fill="#ffffff"/>
<rect x="410" y="178" width="1" height="18" fill="#ffffff"/>
<rect x="409" y="181" width="3" height="14" fill="#ffffff"/>
<rect x="412" y="180" width="1" height="7" fill="#ff0000"/>
<rect x="411" y="181" width="3" height="5" fill="#ff0000"/>
<rect x="414" y="186" width="1" height="12" fill="#ff0000"/>
<rect x="413" y="186" width="3" height="12" fill="#ff0000"/>
<rect x="416" y="198" width="1" height="13" fill="#ff0000"/>
<rect x="415" y="198" width="3" height="13" fill="#ff0000"/>
<rect x="418" y="211" width="1" height="12" fill="#ff0000"/>
<rect x="417" y="211" width="3" height="11" fill="#ff0000"/>
<rect x="420" y="203" width="1" height="25" fill="#ffffff"/>
<rect x="419" y="204" width="3" height="18" fill="#ffffff"/>
<rect x="422" y="199" width="1" height="20" fill="#ff0000"/>
<rect x="421" y="204" width="3" height="11" fill="#ff0000"/>
<rect x="424" y="215" width="1" height="16" fill="#ff0000"/>
<rect x="423" y="215" width="3" height="9" fill="#ff0000"/>
<rect x="426" y="219" width="1" height="19" fill="#ff0000"/>
<rect x="425" y="224" width="3" height="12" fill="#ff0000"/>
<rect x="428" y="226" width="1" height="18" fill="#ff0000"/>
<rect x="427" y="236" width="3" height="5" fill="#ff0000"/>
<rect x="430" y="222" width="1" height="24" fill="#ffffff"/>
<rect x="429" y="232" width="3" height="9" fill="#ffffff"/>
<rect x="432" y="232" width="1" height="19" fill="#ff0000"/>
<rect x="431" y="232" width="3" height="8" fill="#ff0000"/>
<rect x="434" y="234" width="1" height="14" fill="#ff0000"/>
<rect x="433" y="241" width="3" height="5" fill="#ff0000"/>
<rect x="436" y="242" width="1" height="9" fill="#ff0000"/>
<rect x="435" y="246" width="3" height="5" fill="#ff0000"/>
<rect x="438" y="247" width="1" height="14" fill="#ff0000"/>
<rect x="437" y="251" width="3" height="5" fill="#ff0000"/>
<rect x="440" y="256" width="1" height="11" fill="#ff0000"/>
<rect x="439" y="256" width="3" height="4" fill="#ff0000"/>
<rect x="442" y="242" width="1" height="25" fill="#ffffff"/>
<rect x="441" y="252" width="3" height="7" fill="#ffffff"/>
<rect x="444" y="177" width="1" height="24" fill="#ffffff"/>
<rect x="443" y="184" width="3" height="16" fill="#ffffff"/>
<rect x="446" y="184" width="1" height="8" fill="#ff0000"/>
<rect x="445" y="184" width="3" height="8" fill="#ff0000"/>
<rect x="448" y="192" width="1" height="3" fill="#ff0000"/>
<rect x="447" y="192" width="3" height="1" fill="#ff0000"/>
<rect x="450" y="186" width="1" height="7" fill="#ffffff"/>
<rect x="449" y="190" width="3" height="3" fill="#ffffff"/>
<rect x="452" y="178" width="1" height="16" fill="#ffffff"/>
<rect x="451" y="185" width="3" height="5" fill="#ffffff"/>
<rect x="454" y="178" width="1" height="8" fill="#ffffff"/>
<rect x="453" y="181" width="3" height="4" fill="#ffffff"/>
<rect x="456" y="168" width="1" height="23" fill="#ffffff"/>
<rect x="455" y="168" width="3" height="13" fill="#ffffff"/>
<rect x="458" y="164" width="1" height="14" fill="#ff0000"/>
<rect x="457" y="168" width="3" height="11" fill="#ff0000"/>
<rect x="460" y="178" width="1" height="23" fill="#ff0000"/>
<rect x="459" y="178" width="3" height="13" fill="#ff0000"/>
<rect x="462" y="184" width="1" height="7" fill="#ffffff"/>
<rect x="461" y="185" width="3" height="6" fill="#ffffff"/>
<rect x="464" y="175" width="1" height="20" fill="#ffffff"/>
<rect x="463" y="176" width="3" height="9" fill="#ffffff"/>
<rect x="466" y="164" width="1" height="22" fill="#ffffff"/>
<rect x="465" y="165" width="3" height="10" fill="#ffffff"/>
<rect x="468" y="162" width="1" height="14" fill="#ff0000"/>
<rect x="467" y="165" width="3" height="7" fill="#ff0000"/>
<rect x="470" y="173" width="1" height="10" fill="#ff0000"/>
<rect x="469" y="173" width="3" height="7" fill="#ff0000"/>
<rect x="472" y="171" width="1" height="9" fill="#ffffff"/>
<rect x="471" y="172" width="3" height="8" fill="#ffffff"/>
<rect x="474" y="146" width="1" height="27" fill="#ffffff"/>
<rect x="473" y="153" width="3" height="19" fill="#ffffff"/>
<rect x="476" y="148" width="1" height="7" fill="#ffffff"/>
<rect x="475" y="148" width="3" height="5" fill="#ffffff"/>
<rect x="478" y="138" width="1" height="35" fill="#ff0000"/>
<rect x="477" y="148" width="3" height="15" fill="#ff0000"/>
<rect x="480" y="154" width="1" height="9" fill="#ffffff"/>
<rect x="479" y="159" width="3" height="4" fill="#ffffff"/>
<rect x="482" y="159" width="1" height="8" fill="#ff0000"/>
<rect x="481" y="159" width="3" height="5" fill="#ff0000"/>
<rect x="484" y="152" width="1" height="12" fill="#ffffff"/>
<rect x="483" y="159" width="3" height="5" fill="#ffffff"/>
<rect x="486" y="152" width="1" height="10" fill="#ff0000"/>
<rect x="485" y="159" width="3" height="1" fill="#ff0000"/>
<rect x="488" y="155" width="1" height="11" fill="#ff0000"/>
<rect x="487" y="159" width="3" height="6" fill="#ff0000"/>
<rect x="490" y="162" width="1" height="8" fill="#ff0000"/>
<rect x="489" y="165" width="3" height="5" fill="#ff0000"/>
<rect x="492" y="162" width="1" height="9" fill="#ffffff"/>
<rect x="491" y="166" width="3" height="3" fill="#ffffff"/>
<rect x="494" y="157" width="1" height="12" fill="#ffffff"/>
<rect x="493" y="157" width="3" height="9" fill="#ffffff"/>
<rect x="496" y="154" width="1" height="6" fill="#ff0000"/>
<rect x="495" y="157" width="3" height="3" fill="#ff0000"/>
<rect x="498" y="157" width="1" height="16" fill="#ff0000"/>
<rect x="497" y="160" width="3" height="12" fill="#ff0000"/>
<rect x="500" y="164" width="1" height="8" fill="#ffffff"/>
<rect x="499" y="165" width="3" height="6" fill="#ffffff"/>
<rect x="502" y="160" width="1" height="15" fill="#ffffff"/>
<rect x="501" y="160" width="3" height="5" fill="#ffffff"/>
<rect x="504" y="158" width="1" height="6" fill="#ff0000"/>
<rect x="503" y="160" width="3" height="4" fill="#ff0000"/>
<rect x="506" y="157" width="1" height="18" fill="#ff0000"/>
<rect x="505" y="164" width="3" height="6" fill="#ff0000"/>
<rect x="508" y="163" width="1" height="18" fill="#ffffff"/>
<rect x="507" y="163" width="3" height="8" fill="#ffffff"/>
<rect x="510" y="156" width="1" height="10" fill="#ffffff"/>
<rect x="509" y="159" width="3" height="4" fill="#ffffff"/>
<rect x="512" y="159" width="1" height="8" fill="#ff0000"/>
<rect x="511" y="159" width="3" height="8" fill="#ff0000"/>
<rect x="514" y="181" width="1" height="22" fill="#ff0000"/>
<rect x="513" y="188" width="3" height="12" fill="#ff0000"/>
<rect x="516" y="190" width="1" height="14" fill="#ff0000"/>
<rect x="515" y="200" width="3" height="4" fill="#ff0000"/>
<rect x="518" y="202" width="1" height="12" fill="#ff0000"/>
<rect x="517" y="204" width="3" height="8" fill="#ff0000"/>
<rect x="520" y="210" width="1" height="4" fill="#ff0000"/>
<rect x="519" y="212" width="3" height="3" fill="#ff0000"/>
<rect x="522" y="205" width="1" height="11" fill="#ffffff"/>
<rect x="521" y="207" width="3" height="7" fill="#ffffff"/>
<rect x="524" y="195" width="1" height="22" fill="#ffffff"/>
<rect x="523" y="196" width="3" height="11" fill="#ffffff"/>
<rect x="526" y="178" width="1" height="19" fill="#ffffff"/>
<rect x="525" y="188" width="3" height="9" fill="#ffffff"/>
<rect x="528" y="181" width="1" height="9" fill="#ffffff"/>
<rect x="527" y="181" width="3" height="7" fill="#ffffff"/>
<rect x="530" y="176" width="1" height="11" fill="#ff0000"/>
<rect x="529" y="181" width="3" height="7" fill="#ff0000"/>
<rect x="532" y="179" width="1" height="9" fill="#ffffff"/>
<rect x="531" y="181" width="3" height="6" fill="#ffffff"/>
<rect x="534" y="171" width="1" height="10" fill="#ffffff"/>
<rect x="533" y="172" width="3" height="10" fill="#ffffff"/>
<rect x="536" y="165" width="1" height="8" fill="#ffffff"/>
<rect x="535" y="172" width="3" height="1" fill="#ffffff"/>
<rect x="538" y="172" width="1" height="8" fill="#ff0000"/>
<rect x="537" y="172" width="3" height="7" fill="#ff0000"/>
<rect x="540" y="177" width="1" height="11" fill="#ff0000"/>
<rect x="539" y="179" width="3" height="6" fill="#ff0000"/>
<rect x="542" y="181" width="1" height="5" fill="#ffffff"/>
<rect x="541" y="183" width="3" height="1" fill="#ffffff"/>
<rect x="544" y="176" width="1" height="18" fill="#ff0000"/>
<rect x="543" y="183" width="3" height="9" fill="#ff0000"/>
<rect x="546" y="188" width="1" height="12" fill="#ff0000"/>
<rect x="545" y="192" width="3" height="4" fill="#ff0000"/>
<rect x="548" y="185" width="1" height="11" fill="#ffffff"/>
<rect x="547" y="185" width="3" height="12" fill="#ffffff"/>
<rect x="550" y="178" width="1" height="10" fill="#ffffff"/>
<rect x="549" y="180" width="3" height="4" fill="#ffffff"/>
<rect x="552" y="175" width="1" height="12" fill="#ffffff"/>
<rect x="551" y="175" width="3" height="6" fill="#ffffff"/>
<rect x="554" y="172" width="1" height="6" fill="#ff0000"/>
<rect x="553" y="175" width="3" height="3" fill="#ff0000"/>
<rect x="556" y="172" width="1" height="6" fill="#ffffff"/>
<rect x="555" y="176" width="3" height="2" fill="#ffffff"/>
<rect x="558" y="174" width="1" height="4" fill="#ff0000"/>
<rect x="557" y="176" width="3" height="1" fill="#ff0000"/>
<rect x="560" y="172" width="1" height="14" fill="#ffffff"/>
<rect x="559" y="173" width="3" height="3" fill="#ffffff"/>
<rect x="562" y="166" width="1" height="12" fill="#ff0000"/>
<rect x="561" y="173" width="3" height="4" fill="#ff0000"/>
<rect x="564" y="171" width="1" height="7" fill="#ffffff"/>
<rect x="563" y="172" width="3" height="6" fill="#ffffff"/>
<rect x="566" y="165" width="1" height="17" fill="#ff0000"/>
<rect x="565" y="172" width="3" height="8" fill="#ff0000"/>
<rect x="568" y="173" width="1" height="13" fill="#ff0000"/>
<rect x="567" y="180" width="3" height="6" fill="#ff0000"/>
<rect x="570" y="178" width="1" height="11" fill="#ffffff"/>
<rect x="569" y="182" width="3" height="4" fill="#ffffff"/>
<rect x="572" y="177" width="1" height="7" fill="#ffffff"/>
<rect x="571" y="180" width="3" height="2" fill="#ffffff"/>
<rect x="574" y="177" width="1" height="5" fill="#ff0000"/>
<rect x="573" y="180" width="3" height="1" fill="#ff0000"/>
<rect x="576" y="177" width="1" height="4" fill="#ffffff"/>
<rect x="575" y="178" width="3" height="2" fill="#ffffff"/>
<rect x="578" y="172" width="1" height="10" fill="#ffffff"/>
<rect x="577" y="174" width="3" height="4" fill="#ffffff"/>
<rect x="580" y="173" width="1" height="5" fill="#ff0000"/>
<rect x="579" y="174" width="3" height="2" fill="#ff0000"/>
<rect x="582" y="171" width="1" height="7" fill="#ff0000"/>
<rect x="581" y="176" width="3" height="1" fill="#ff0000"/>
<rect x="584" y="167" width="1" height="13" fill="#ff0000"/>
<rect x="583" y="177" width="3" height="1" fill="#ff0000"/>
<rect x="586" y="163" width="1" height="19" fill="#ffffff"/>
<rect x="585" y="173" width="3" height="5" fill="#ffffff"/>
<rect x="588" y="170" width="1" height="5" fill="#ffffff"/>
<rect x="587" y="171" width="3" height="3" fill="#ffffff"/>
<rect x="590" y="168" width="1" height="6" fill="#ff0000"/>
<rect x="589" y="171" width="3" height="3" fill="#ff0000"/>
<rect x="592" y="168" width="1" height="5" fill="#ffffff"/>
<rect x="591" y="170" width="3" height="3" fill="#ffffff"/>
<rect x="594" y="166" width="1" height="14" fill="#ff0000"/>
<rect x="593" y="170" width="3" height="3" fill="#ff0000"/>
<rect x="596" y="168" width="1" height="5" fill="#ffffff"/>
<rect x="595" y="169" width="3" height="3" fill="#ffffff"/>
<rect x="598" y="168" width="1" height="3" fill="#ffffff"/>
<rect x="597" y="169" width="3" height="1" fill="#ffffff"/>
<rect x="600" y="166" width="1" height="5" fill="#ff0000"/>
<rect x="599" y="169" width="3" height="1" fill="#ff0000"/>
<rect x="602" y="169" width="1" height="13" fill="#ff0000"/>
<rect x="601" y="169" width="3" height="13" fill="#ff0000"/>
<rect x="604" y="172" width="1" height="15" fill="#ff0000"/>
<rect x="603" y="182" width="3" height="1" fill="#ff0000"/>
<rect x="606" y="181" width="1" height="5" fill="#ff0000"/>
<rect x="605" y="184" width="3" height="3" fill="#ff0000"/>
<rect x="608" y="176" width="1" height="13" fill="#ffffff"/>
<rect x="607" y="180" width="3" height="6" fill="#ffffff"/>
<rect x="610" y="177" width="1" height="3" fill="#ffffff"/>
<rect x="609" y="178" width="3" height="2" fill="#ffffff"/>
<rect x="612" y="169" width="1" height="13" fill="#ffffff"/>
<rect x="611" y="169" width="3" height="10" fill="#ffffff"/>
<rect x="614" y="169" width="1" height="11" fill="#ff0000"/>
<rect x="613" y="169" width="3" height="2" fill="#ff0000"/>
<rect x="616" y="167" width="1" height="8" fill="#ff0000"/>
<rect x="615" y="170" width="3" height="5" fill="#ff0000"/>
<rect x="618" y="172" width="1" height="3" fill="#ffffff"/>
<rect x="617" y="172" width="3" height="3" fill="#ffffff"/>
<rect x="620" y="171" width="1" height="25" fill="#ff0000"/>
<rect x="619" y="172" width="3" height="19" fill="#ff0000"/>
<rect x="622" y="184" width="1" height="32" fill="#ff0000"/>
<rect x="621" y="191" width="3" height="15" fill="#ff0000"/>
<rect x="624" y="195" width="1" height="18" fill="#ffffff"/>
<rect x="623" y="195" width="3" height="11" fill="#ffffff"/>
<rect x="626" y="180" width="1" height="17" fill="#ffffff"/>
<rect x="625" y="187" width="3" height="8" fill="#ffffff"/>
<rect x="628" y="187" width="1" height="2" fill="#ff0000"/>
<rect x="627" y="187" width="3" height="2" fill="#ff0000"/>
<rect x="630" y="184" width="1" height="10" fill="#ffffff"/>
<rect x="629" y="188" width="3" height="1" fill="#ffffff"/>
<rect x="632" y="187" width="1" height="4" fill="#ff0000"/>
<rect x="631" y="188" width="3" height="3" fill="#ff0000"/>
<rect x="634" y="190" width="1" height="5" fill="#ff0000"/>
<rect x="633" y="190" width="3" height="5" fill="#ff0000"/>
<rect x="636" y="192" width="1" height="5" fill="#ff0000"/>
<rect x="635" y="195" width="3" height="1" fill="#ff0000"/>
<rect x="638" y="189" width="1" height="8" fill="#ff0000"/>
<rect x="637" y="196" width="3" height="1" fill="#ff0000"/>
<rect x="640" y="191" width="1" height="9" fill="#ffffff"/>
<rect x="639" y="192" width="3" height="4" fill="#ffffff"/>
<rect x="642" y="189" width="1" height="13" fill="#ffffff"/>
<rect x="641" y="191" width="3" height="1" fill="#ffffff"/>
<rect x="644" y="191" width="1" height="1" fill="#ff0000"/>
<rect x="643" y="191" width="3" height="1" fill="#ff0000"/>
<rect x="646" y="179" width="1" height="19" fill="#ffffff"/>
<rect x="645" y="186" width="3" height="4" fill="#ffffff"/>
<rect x="648" y="183" width="1" height="4" fill="#ffffff"/>
<rect x="647" y="184" width="3" height="3" fill="#ffffff"/>
<rect x="650" y="179" width="1" height="6" fill="#ffffff"/>
<rect x="649" y="181" width="3" height="3" fill="#ffffff"/>
<rect x="652" y="171" width="1" height="17" fill="#ff0000"/>
<rect x="651" y="181" width="3" height="5" fill="#ff0000"/>
<rect x="654" y="184" width="1" height="18" fill="#ff0000"/>
<rect x="653" y="186" width="3" height="9" fill="#ff0000"/>
<rect x="656" y="189" width="1" height="7" fill="#ffffff"/>
<rect x="655" y="189" width="3" height="6" fill="#ffffff"/>
<rect x="658" y="179" width="1" height="10" fill="#ffffff"/>
<rect x="657" y="183" width="3" height="6" fill="#ffffff"/>
<rect x="660" y="174" width="1" height="10" fill="#ffffff"/>
<rect x="659" y="175" width="3" height="9" fill="#ffffff"/>
<rect x="662" y="174" width="1" height="6" fill="#ff0000"/>
<rect x="661" y="175" width="3" height="5" fill="#ff0000"/>
<rect x="664" y="178" width="1" height="5" fill="#ff0000"/>
<rect x="663" y="179" width="3" height="2" fill="#ff0000"/>
<rect x="666" y="173" width="1" height="12" fill="#ffffff"/>
<rect x="665" y="178" width="3" height="4" fill="#ffffff"/>
<rect x="668" y="177" width="1" height="11" fill="#ff0000"/>
<rect x="667" y="178" width="3" height="7" fill="#ff0000"/>
<rect x="670" y="181" width="1" height="4" fill="#ffffff"/>
<rect x="669" y="182" width="3" height="3" fill="#ffffff"/>
<rect x="672" y="161" width="1" height="8" fill="#ffffff"/>
<rect x="671" y="163" width="3" height="6" fill="#ffffff"/>
<rect x="674" y="161" width="1" height="2" fill="#ffffff"/>
<rect x="673" y="162" width="3" height="1" fill="#ffffff"/>
<rect x="676" y="162" width="1" height="1" fill="#ff0000"/>
<rect x="675" y="162" width="3" height="1" fill="#ff0000"/>
<rect x="678" y="158" width="1" height="5" fill="#ffffff"/>
<rect x="677" y="160" width="3" height="3" fill="#ffffff"/>
<rect x="680" y="157" width="1" height="3" fill="#ffffff"/>
<rect x="679" y="158" width="3" height="2" fill="#ffffff"/>
<rect x="682" y="157" width="1" height="1" fill="#ffffff"/>
<rect x="681" y="157" width="3" height="1" fill="#ffffff"/>
<rect x="684" y="140" width="1" height="8" fill="#ffffff"/>
<rect x="683" y="141" width="3" height="6" fill="#ffffff"/>
<rect x="686" y="138" width="1" height="3" fill="#ffffff"/>
<rect x="685" y="139" width="3" height="2" fill="#ffffff"/>
<rect x="688" y="137" width="1" height="2" fill="#ffffff"/>
<rect x="687" y="137" width="3" height="2" fill="#ffffff"/>
<rect x="690" y="135" width="1" height="2" fill="#ffffff"/>
<rect x="689" y="136" width="3" height="1" fill="#ffffff"/>
<rect x="692" y="136" width="1" height="3" fill="#ff0000"/>
<rect x="691" y="136" width="3" height="1" fill="#ff0000"/>
<rect x="694" y="136" width="1" height="2" fill="#ff0000"/>
<rect x="693" y="137" width="3" height="1" fill="#ff0000"/>
<rect x="696" y="131" width="1" height="8" fill="#ffffff"/>
<rect x="695" y="132" width="3" height="6" fill="#ffffff"/>
<rect x="698" y="123" width="1" height="10" fill="#ffffff"/>
<rect x="697" y="124" width="3" height="8" fill="#ffffff"/>
<rect x="700" y="119" width="1" height="5" fill="#ffffff"/>
<rect x="699" y="120" width="3" height="4" fill="#ffffff"/>
<rect x="702" y="109" width="1" height="5" fill="#ffffff"/>
<rect x="701" y="109" width="3" height="5" fill="#ffffff"/>
<rect x="704" y="109" width="1" height="8" fill="#ff0000"/>
<rect x="703" y="109" width="3" height="7" fill="#ff0000"/>
<rect x="706" y="116" width="1" height="2" fill="#ff0000"/>
<rect x="705" y="116" width="3" height="1" fill="#ff0000"/>
<rect x="708" y="113" width="1" height="4" fill="#ffffff"/>
<rect x="707" y="114" width="3" height="3" fill="#ffffff"/>
</g>
<polyline points="42.0,93.0 54.0,81.0 60.0,83.0 68.0,91.0 80.0,114.0 92.0,133.0 100.0,129.0 110.0,122.0 122.0,120.0 128.0,126.0 134.0,140.0 146.0,164.0 160.0,185.0 176.0,182.0 180.0,179.0 192.0,179.0 200.0,188.0 212.0,206.0 224.0,224.0 236.0,240.0 268.0,288.0 278.0,286.0 296.0,252.0 312.0,225.0 324.0,212.0 340.0,206.0 354.0,195.0 362.0,199.0 370.0,208.0 380.0,220.0 394.0,232.0 403.0,236.0 410.0,228.0 416.0,219.0 428.0,215.0 440.0,219.0 452.0,217.0 462.0,211.0 470.0,197.0 480.0,177.0 490.0,169.0 500.0,165.0 510.0,163.0 516.0,167.0 524.0,177.0 534.0,181.0 544.0,186.0 550.0,189.0 556.0,184.0 564.0,179.0 580.0,179.0 592.0,177.0 600.0,176.0 616.0,175.0 630.0,182.0 644.0,188.0 656.0,190.0 664.0,186.0 674.0,183.0 684.0,172.0 696.0,158.0 702.0,148.0 707.0,141.0" fill="none" stroke="#d8901c" stroke-width="1" shape-rendering="crispEdges"/>
<polyline points="42.0,93.0 54.0,92.0 56.0,64.0 58.0,64.0 60.0,78.0 64.0,81.0 68.0,76.0 70.0,77.0 73.0,102.0 80.0,107.0 85.0,114.0 88.0,109.0 91.0,110.0 92.4,154.0 95.0,148.0 104.0,134.0 110.0,136.0 116.0,134.0 117.4,97.0 120.0,97.0 122.0,112.0 128.0,124.0 134.0,126.0 140.0,142.0 142.0,156.0 150.0,155.0 156.0,159.0 161.0,157.0 162.6,212.0 164.4,213.0 172.0,200.0 174.0,195.0 178.0,199.0 184.0,195.0 185.4,154.0 188.0,154.0 194.0,168.0 199.0,177.0 206.0,188.0 212.0,187.0 220.0,192.0 224.0,199.0 228.0,202.0 232.0,214.0 233.0,224.0 235.0,238.0 242.0,243.0 246.0,246.0 252.0,244.0 264.0,254.0 265.0,270.0 274.0,272.0 279.0,280.0 280.0,309.0 282.0,309.0 283.0,266.0 288.0,264.0 291.0,254.0 298.0,250.0 300.0,253.0 310.0,246.0 318.0,244.0 322.0,246.0 326.0,236.0 336.0,225.0 340.0,221.0 352.0,218.0 360.0,223.0 366.0,218.0 367.6,198.0 369.0,198.0 370.0,214.0 376.0,219.0 382.0,217.0 387.4,219.0 388.0,259.0 392.0,261.0 400.0,254.0 405.0,261.0 407.0,256.0 410.0,236.0 416.0,230.0 420.0,239.0 425.0,240.0 426.4,183.0 430.0,183.0 438.0,195.0 443.0,207.0 444.0,247.0 447.0,247.0 454.0,234.0 457.0,220.0 460.0,217.0 466.0,216.0 476.0,200.0 484.0,193.0 494.0,188.0 498.0,191.0 506.0,188.0 513.0,188.0 514.4,156.0 516.4,156.0 519.0,170.0 524.0,174.0 529.0,171.0 534.0,169.0 536.0,208.0 538.0,208.0 542.0,203.0 550.0,203.0 556.0,199.0 562.0,201.0 566.0,198.0 570.0,202.0 576.0,201.0 582.0,198.0 588.0,198.0 596.0,194.4 600.0,193.0 610.0,198.0 619.0,201.0 620.0,166.0 623.0,166.0 630.0,170.0 640.0,176.0 650.0,180.0 656.0,174.0 659.0,175.0 660.0,202.0 663.0,202.0 672.0,194.0 674.0,186.0 682.0,178.0 685.0,168.0 690.0,159.0 696.0,154.0 699.0,142.0 703.0,133.0 707.0,133.0" fill="none" stroke="#4169e1" stroke-width="1.7" stroke-linejoin="round"/>
<polyline points="42.0,99.0 52.0,94.0 60.0,100.0 68.0,112.0 78.0,124.0 87.0,130.0 94.0,122.0 104.0,115.0 112.0,120.0 120.0,129.0 128.0,142.0 132.0,145.0 142.0,158.0 152.0,169.0 160.0,172.0 170.0,166.0 176.0,163.0 184.0,170.0 196.0,184.0 208.0,197.0 218.0,199.0 226.0,207.0 232.0,224.0 234.0,236.0 248.0,258.0 260.0,262.0 266.0,268.0 278.0,268.0 282.0,258.0 296.0,236.0 300.0,236.0 318.0,234.0 326.0,224.0 336.0,212.0 350.0,209.6 364.0,211.0 374.0,226.0 406.0,227.0 416.0,211.0 424.0,211.0 428.0,215.0 436.0,218.0 442.0,227.0 446.0,220.0 456.0,204.0 470.0,197.0 484.0,189.0 496.0,185.0 510.0,184.0 520.0,193.0 526.0,194.4 532.0,191.0 538.0,186.0 552.0,185.0 564.0,183.0 580.0,182.0 592.0,178.0 600.0,177.0 614.0,176.0 630.0,182.0 650.0,184.0 670.0,182.0 678.0,176.0 686.0,164.0 694.0,152.0 702.0,138.0 707.0,135.0" fill="none" stroke="#32cd32" stroke-width="1.8" stroke-linejoin="round"/>
<line x1="194" y1="202.4" x2="729" y2="94" stroke="#ff0000" stroke-width="2.2"/>
<line x1="259.5" y1="329.7" x2="708" y2="177.4" stroke="#ff0000" stroke-width="2.2"/>
<line x1="480" y1="146" x2="708" y2="173.6" stroke="#ff0000" stroke-width="1" shape-rendering="crispEdges"/>
<line x1="508" y1="222.4" x2="708" y2="198" stroke="#ff0000" stroke-width="1" shape-rendering="crispEdges"/>
<line x1="670" y1="184" x2="716" y2="108" stroke="#ff0000" stroke-width="1" shape-rendering="crispEdges"/>
<text x="708" y="58.5" class="g">5300,69</text>
<text x="708" y="92.5" class="g">5146,76</text>
<text x="708" y="109.5" class="r">5071,43</text>
<text x="708" y="134" class="r">4960,59</text>
<text x="708" y="156.5" class="g">4858,79</text>
<text x="708" y="171" class="r">4735,24</text>
<text x="708" y="187.5" class="r">4716,38</text>
<text x="708" y="209" class="r">4621,54</text>
<text x="708" y="278" class="g">4307,05</text>
<line x1="45" y1="399.5" x2="708" y2="399.5" stroke="#9a9a9a" stroke-width="1" stroke-dasharray="1 3" shape-rendering="crispEdges"/>
<line x1="45" y1="418.5" x2="708" y2="418.5" stroke="#9a9a9a" stroke-width="1" stroke-dasharray="1 3" shape-rendering="crispEdges"/>
<line x1="45" y1="441.5" x2="708" y2="441.5" stroke="#9a9a9a" stroke-width="1" stroke-dasharray="1 3" shape-rendering="crispEdges"/>
<line x1="45" y1="473.5" x2="708" y2="473.5" stroke="#9a9a9a" stroke-width="1" stroke-dasharray="1 3" shape-rendering="crispEdges"/>
<line x1="45" y1="508.5" x2="708" y2="508.5" stroke="#9a9a9a" stroke-width="1" stroke-dasharray="1 3" shape-rendering="crispEdges"/>
<polyline points="41.5,399.6 42.5,399.7 43.5,399.8 44.5,399.9 45.5,399.9 46.5,400.0 47.5,400.1 48.5,400.2 49.5,400.3 50.5,400.4 51.5,400.9 52.5,402.5 53.5,405.0 54.5,408.0 55.5,411.0 56.5,413.6 57.5,415.7 58.5,417.3 59.5,419.0 60.5,420.4 61.5,421.3 62.5,421.7 63.5,421.8 64.5,421.8 65.5,421.9 66.5,422.1 67.5,422.2 68.5,422.2 69.5,422.3 70.5,422.4 71.5,422.6 72.5,422.7 73.5,422.8 74.5,422.8 75.5,422.9 76.5,423.1 77.5,423.2 78.5,423.2 79.5,423.4 80.5,423.5 81.5,423.3 82.5,422.5 83.5,421.1 84.5,419.4 85.5,417.7 86.5,416.0 87.5,414.4 88.5,412.7 89.5,411.0 90.5,409.2 91.5,407.5 92.5,405.8 93.5,404.0 94.5,402.2 95.5,400.9 96.5,400.0 97.5,399.5 98.5,399.0 99.5,398.5 100.5,398.0 101.5,397.5 102.5,397.0 103.5,396.5 104.5,396.7 105.5,397.6 106.5,399.2 107.5,400.8 108.5,402.4 109.5,404.0 110.5,405.6 111.5,407.0 112.5,408.2 113.5,409.0 114.5,409.7 115.5,410.3 116.5,411.0 117.5,411.7 118.5,412.3 119.5,413.0 120.5,413.7 121.5,414.6 122.5,415.5 123.5,416.5 124.5,417.5 125.5,418.5 126.5,419.4 127.5,420.0 128.5,420.3 129.5,420.5 130.5,420.7 131.5,420.9 132.5,421.1 133.5,421.3 134.5,421.5 135.5,421.7 136.5,421.9 137.5,422.1 138.5,422.3 139.5,422.5 140.5,422.7 141.5,422.8 142.5,422.8 143.5,422.7 144.5,422.5 145.5,422.3 146.5,422.1 147.5,421.9 148.5,421.7 149.5,421.5 150.5,421.3 151.5,421.1 152.5,420.9 153.5,420.7 154.5,420.5 155.5,420.3 156.5,419.7 157.5,418.4 158.5,416.2 159.5,413.8 160.5,411.2 161.5,408.8 162.5,406.5 163.5,404.8 164.5,403.5 165.5,402.5 166.5,401.5 167.5,400.5 168.5,399.5 169.5,398.5 170.5,397.5 171.5,396.9 172.5,397.2 173.5,398.2 174.5,399.8 175.5,401.2 176.5,402.8 177.5,404.2 178.5,405.6 179.5,407.0 180.5,408.3 181.5,409.7 182.5,411.0 183.5,412.3 184.5,413.7 185.5,415.0 186.5,416.2 187.5,417.2 188.5,417.9 189.5,418.5 190.5,419.1 191.5,419.7 192.5,420.3 193.5,420.9 194.5,421.5 195.5,422.0 196.5,422.2 197.5,422.3 198.5,422.2 199.5,422.1 200.5,422.1 201.5,422.0 202.5,421.9 203.5,421.8 204.5,421.8 205.5,421.7 206.5,421.6 207.5,421.4 208.5,421.1 209.5,420.6 210.5,420.0 211.5,419.4 212.5,418.8 213.5,418.2 214.5,417.6 215.5,417.2 216.5,416.9 217.5,416.7 218.5,416.6 219.5,416.6 220.5,417.0 221.5,417.7 222.5,418.5 223.5,419.4 224.5,420.2 225.5,421.0 226.5,421.5 227.5,421.9 228.5,422.2 229.5,422.5 230.5,422.8 231.5,423.0 232.5,423.3 233.5,423.6 234.5,423.7 235.5,423.6 236.5,423.2 237.5,422.7 238.5,422.2 239.5,421.7 240.5,421.2 241.5,420.7 242.5,420.2 243.5,419.8 244.5,419.6 245.5,419.7 246.5,419.9 247.5,420.1 248.5,420.3 249.5,420.4 250.5,420.3 251.5,419.9 252.5,419.4 253.5,419.0 254.5,418.8 255.5,419.1 256.5,419.7 257.5,420.2 258.5,420.8 259.5,421.4 260.5,421.8 261.5,421.9 262.5,421.8 263.5,421.7 264.5,421.1 265.5,419.5 266.5,417.0 267.5,414.0 268.5,411.0 269.5,408.4 270.5,406.2 271.5,404.5 272.5,402.8 273.5,401.0 274.5,399.2 275.5,397.9 276.5,397.0 277.5,396.6 278.5,396.1 279.5,395.7 280.5,395.4 281.5,395.3 282.5,395.2 283.5,395.2 284.5,395.1 285.5,395.1 286.5,395.0 287.5,394.9 288.5,394.9 289.5,394.8 290.5,394.8 291.5,394.7 292.5,394.6 293.5,394.6 294.5,394.6 295.5,394.6 296.5,394.8 297.5,395.0 298.5,395.2 299.5,395.4 300.5,395.6 301.5,395.8 302.5,396.0 303.5,396.2 304.5,396.4 305.5,397.0 306.5,398.0 307.5,399.4 308.5,400.8 309.5,402.2 310.5,403.6 311.5,404.5 312.5,404.9 313.5,404.7 314.5,404.6 315.5,404.3 316.5,403.8 317.5,402.9 318.5,401.9 319.5,400.9 320.5,399.9 321.5,398.9 322.5,397.9 323.5,396.9 324.5,396.1 325.5,395.6 326.5,395.5 327.5,395.6 328.5,395.8 329.5,395.8 330.5,395.8 331.5,395.7 332.5,395.2 333.5,394.8 334.5,394.2 335.5,393.8 336.5,393.5 337.5,393.7 338.5,394.3 339.5,395.2 340.5,396.1 341.5,397.0 342.5,397.8 343.5,398.7 344.5,399.2 345.5,399.3 346.5,399.0 347.5,398.8 348.5,398.5 349.5,398.2 350.5,397.9 351.5,398.1 352.5,399.1 353.5,401.0 354.5,403.3 355.5,405.7 356.5,407.7 357.5,409.4 358.5,410.8 359.5,412.2 360.5,413.6 361.5,415.0 362.5,416.4 363.5,417.7 364.5,418.6 365.5,419.2 366.5,419.8 367.5,420.2 368.5,420.8 369.5,421.2 370.5,421.8 371.5,422.2 372.5,422.5 373.5,422.2 374.5,421.5 375.5,420.5 376.5,419.5 377.5,418.5 378.5,417.5 379.5,416.5 380.5,415.6 381.5,414.9 382.5,414.3 383.5,413.7 384.5,413.1 385.5,412.5 386.5,411.9 387.5,411.4 388.5,411.1 389.5,411.0 390.5,411.0 391.5,411.0 392.5,411.0 393.5,411.0 394.5,411.0 395.5,410.8 396.5,410.5 397.5,410.0 398.5,409.5 399.5,409.0 400.5,408.5 401.5,407.6 402.5,406.2 403.5,404.5 404.5,402.8 405.5,401.0 406.5,399.2 407.5,397.9 408.5,397.0 409.5,396.5 410.5,396.0 411.5,395.5 412.5,395.0 413.5,394.9 414.5,395.3 415.5,396.1 416.5,396.9 417.5,397.7 418.5,398.5 419.5,399.3 420.5,400.2 421.5,401.3 422.5,402.5 423.5,403.8 424.5,405.2 425.5,406.5 426.5,407.8 427.5,409.2 428.5,410.5 429.5,411.8 430.5,412.9 431.5,413.9 432.5,414.9 433.5,415.8 434.5,416.7 435.5,417.7 436.5,418.6 437.5,419.6 438.5,420.5 439.5,421.5 440.5,420.8 441.5,418.6 442.5,414.8 443.5,411.6 444.5,409.0 445.5,407.0 446.5,405.0 447.5,403.2 448.5,401.7 449.5,400.7 450.5,399.8 451.5,398.9 452.5,398.0 453.5,397.1 454.5,396.2 455.5,395.3 456.5,394.7 457.5,394.4 458.5,394.7 459.5,395.1 460.5,395.5 461.5,395.9 462.5,396.3 463.5,396.4 464.5,396.4 465.5,396.2 466.5,396.1 467.5,396.0 468.5,395.8 469.5,395.7 470.5,395.6 471.5,395.4 472.5,395.3 473.5,395.1 474.5,395.0 475.5,394.8 476.5,394.7 477.5,394.6 478.5,394.6 479.5,394.8 480.5,394.9 481.5,395.1 482.5,395.2 483.5,395.4 484.5,395.6 485.5,395.8 486.5,396.1 487.5,396.6 488.5,397.5 489.5,398.5 490.5,399.5 491.5,400.3 492.5,401.0 493.5,401.5 494.5,402.0 495.5,402.5 496.5,403.0 497.5,403.2 498.5,403.0 499.5,402.6 500.5,402.1 501.5,401.9 502.5,402.2 503.5,403.1 504.5,404.2 505.5,405.4 506.5,406.2 507.5,406.7 508.5,406.9 509.5,407.1 510.5,407.8 511.5,409.5 512.5,412.2 513.5,415.1 514.5,417.3 515.5,418.8 516.5,420.0 517.5,421.2 518.5,422.0 519.5,422.3 520.5,422.0 521.5,421.4 522.5,420.8 523.5,420.1 524.5,419.5 525.5,418.7 526.5,417.5 527.5,416.1 528.5,414.5 529.5,412.9 530.5,411.3 531.5,409.7 532.5,408.1 533.5,406.8 534.5,405.8 535.5,405.1 536.5,404.5 537.5,403.8 538.5,403.1 539.5,402.4 540.5,402.0 541.5,402.1 542.5,402.7 543.5,403.6 544.5,404.5 545.5,405.4 546.5,406.2 547.5,407.1 548.5,407.4 549.5,406.9 550.5,405.9 551.5,404.8 552.5,403.7 553.5,402.7 554.5,401.6 555.5,400.5 556.5,399.5 557.5,398.7 558.5,398.3 559.5,398.2 560.5,398.0 561.5,397.9 562.5,397.8 563.5,397.7 564.5,397.8 565.5,398.4 566.5,399.4 567.5,400.6 568.5,401.9 569.5,403.1 570.5,404.3 571.5,405.1 572.5,405.8 573.5,406.3 574.5,406.9 575.5,406.7 576.5,405.9 577.5,404.3 578.5,402.8 579.5,401.4 580.5,400.3 581.5,399.5 582.5,398.9 583.5,398.2 584.5,397.5 585.5,396.9 586.5,396.2 587.5,395.6 588.5,394.9 589.5,394.3 590.5,393.9 591.5,393.8 592.5,394.0 593.5,394.2 594.5,394.4 595.5,394.6 596.5,394.8 597.5,395.0 598.5,395.2 599.5,395.9 600.5,397.2 601.5,399.0 602.5,400.8 603.5,402.5 604.5,403.9 605.5,405.0 606.5,406.0 607.5,407.0 608.5,408.0 609.5,409.0 610.5,410.0 611.5,410.2 612.5,409.5 613.5,407.9 614.5,406.5 615.5,406.1 616.5,406.8 617.5,408.5 618.5,410.0 619.5,411.1 620.5,411.9 621.5,412.5 622.5,413.1 623.5,413.7 624.5,414.3 625.5,414.9 626.5,414.9 627.5,414.2 628.5,412.8 629.5,411.5 630.5,410.5 631.5,410.0 632.5,410.1 633.5,410.5 634.5,410.9 635.5,411.3 636.5,411.7 637.5,412.1 638.5,412.3 639.5,412.2 640.5,411.9 641.5,411.7 642.5,411.4 643.5,411.1 644.5,410.8 645.5,410.4 646.5,409.9 647.5,409.1 648.5,408.2 649.5,407.4 650.5,407.1 651.5,407.5 652.5,408.5 653.5,408.6 654.5,407.8 655.5,406.0 656.5,404.2 657.5,402.5 658.5,400.8 659.5,399.4 660.5,398.4 661.5,397.8 662.5,397.2 663.5,396.6 664.5,396.0 665.5,395.9 666.5,396.2 667.5,397.0 668.5,397.8 669.5,398.3 670.5,398.2 671.5,397.5 672.5,396.5 673.5,395.5 674.5,394.8 675.5,394.3 676.5,394.2 677.5,394.0 678.5,393.9 679.5,393.7 680.5,393.6 681.5,393.4 682.5,393.3 683.5,393.1 684.5,392.9 685.5,392.8 686.5,392.6 687.5,392.5 688.5,392.4 689.5,392.3 690.5,392.3 691.5,392.3 692.5,392.2 693.5,392.2 694.5,392.2 695.5,392.2 696.5,392.1 697.5,392.1 698.5,392.1 699.5,392.1 700.5,392.2 701.5,392.5 702.5,392.8 703.5,393.2 704.5,393.5 705.5,393.8 706.5,394.2 707.5,394.3" fill="none" stroke="#0000ff" stroke-width="2.1" stroke-linejoin="round"/>
<polyline points="44.5,409.2 45.5,409.8 46.5,410.4 47.5,411.6 48.5,412.8 49.5,414.0 50.5,415.1 51.5,416.1 52.5,416.9 53.5,417.6 54.5,418.1 55.5,418.6 56.5,419.0 57.5,419.5 58.5,419.9 59.5,420.4 60.5,420.8 61.5,421.3 62.5,421.7 63.5,422.0 64.5,422.2 65.5,422.4 66.5,422.5 67.5,422.5 68.5,422.5 69.5,422.6 70.5,422.6 71.5,422.6 72.5,422.6 73.5,422.7 74.5,422.7 75.5,422.7 76.5,422.8 77.5,422.8 78.5,422.8 79.5,422.8 80.5,422.9 81.5,422.9 82.5,422.9 83.5,422.8 84.5,422.5 85.5,421.9 86.5,421.1 87.5,420.0 88.5,418.8 89.5,417.6 90.5,416.4 91.5,415.1 92.5,413.7 93.5,412.2 94.5,410.7 95.5,409.0 96.5,407.3 97.5,405.7 98.5,404.0 99.5,402.3 100.5,400.9 101.5,399.7 102.5,398.7 103.5,398.0 104.5,397.5 105.5,397.0 106.5,396.5 107.5,396.0 108.5,395.5 109.5,395.3 110.5,395.3 111.5,395.6 112.5,396.2 113.5,397.1 114.5,397.9 115.5,398.8 116.5,399.6 117.5,400.5 118.5,401.4 119.5,402.3 120.5,403.3 121.5,404.4 122.5,405.6 123.5,406.9 124.5,408.3 125.5,409.7 126.5,411.1 127.5,412.4 128.5,413.8 129.5,415.2 130.5,416.6 131.5,417.8 132.5,418.9 133.5,419.7 134.5,420.3 135.5,420.6 136.5,420.9 137.5,421.1 138.5,421.4 139.5,421.6 140.5,421.9 141.5,422.1 142.5,422.4 143.5,422.6 144.5,422.7 145.5,422.8 146.5,422.8 147.5,422.7 148.5,422.6 149.5,422.4 150.5,422.3 151.5,422.2 152.5,422.1 153.5,421.9 154.5,421.8 155.5,421.5 156.5,420.9 157.5,419.9 158.5,418.6 159.5,416.9 160.5,415.1 161.5,413.2 162.5,411.4 163.5,409.6 164.5,407.8 165.5,406.2 166.5,404.7 167.5,403.3 168.5,402.1 169.5,400.9 170.5,399.8 171.5,398.6 172.5,397.4 173.5,396.4 174.5,395.9 175.5,395.7 176.5,395.9 177.5,396.6 178.5,397.4 179.5,398.2 180.5,399.1 181.5,399.9 182.5,400.8 183.5,401.8 184.5,402.9 185.5,404.1 186.5,405.4 187.5,406.8 188.5,408.2 189.5,409.6 190.5,410.9 191.5,412.3 192.5,413.7 193.5,415.1 194.5,416.3 195.5,417.4 196.5,418.2 197.5,418.9 198.5,419.3 199.5,419.6 200.5,420.0 201.5,420.3 202.5,420.6 203.5,420.9 204.5,421.3 205.5,421.6 206.5,421.8 207.5,421.9 208.5,421.9 209.5,421.7 210.5,421.3 211.5,420.9 212.5,420.4 213.5,420.0 214.5,419.6 215.5,419.1 216.5,418.6 217.5,418.1 218.5,417.6 219.5,417.0 220.5,416.4 221.5,415.8 222.5,415.2 223.5,414.8 224.5,414.7 225.5,414.8 226.5,415.1 227.5,415.7 228.5,416.3 229.5,416.9 230.5,417.4 231.5,418.0 232.5,418.6 233.5,419.1 234.5,419.5 235.5,419.7 236.5,419.8 237.5,419.8 238.5,419.8 239.5,419.7 240.5,419.6 241.5,419.6 242.5,419.4 243.5,419.1 244.5,418.6 245.5,417.9 246.5,417.1 247.5,416.1 248.5,415.2 249.5,414.3 250.5,413.3 251.5,412.4 252.5,411.5 253.5,410.6 254.5,409.8 255.5,408.9 256.5,408.1 257.5,407.2 258.5,406.4 259.5,405.6 260.5,404.8 261.5,404.2 262.5,403.8 263.5,403.6 264.5,403.5 265.5,403.5 266.5,403.4 267.5,403.1 268.5,402.6 269.5,401.9 270.5,401.0 271.5,400.0 272.5,399.0 273.5,398.0 274.5,397.2 275.5,396.5 276.5,396.0 277.5,395.6 278.5,395.4 279.5,395.2 280.5,395.0 281.5,394.8 282.5,394.6 283.5,394.5 284.5,394.3 285.5,394.2 286.5,394.1 287.5,393.9 288.5,393.8 289.5,393.7 290.5,393.6 291.5,393.4 292.5,393.3 293.5,393.2 294.5,393.2 295.5,393.2 296.5,393.3 297.5,393.5 298.5,393.7 299.5,393.9 300.5,394.1 301.5,394.3 302.5,394.5 303.5,394.7 304.5,394.9 305.5,395.2 306.5,395.9 307.5,396.8 308.5,397.9 309.5,399.4 310.5,401.0 311.5,402.6 312.5,404.4 313.5,406.2 314.5,408.0 315.5,410.0 316.5,411.6 317.5,412.9 318.5,413.9 319.5,414.5 320.5,414.8 321.5,415.0 322.5,415.1 323.5,415.0 324.5,414.7 325.5,414.3 326.5,413.7 327.5,413.1 328.5,412.5 329.5,411.9 330.5,411.2 331.5,410.5 332.5,409.7 333.5,408.9 334.5,408.0 335.5,407.1 336.5,406.3 337.5,405.4 338.5,404.6 339.5,403.7 340.5,403.1 341.5,402.6 342.5,402.3 343.5,402.2 344.5,402.3 345.5,402.4 346.5,402.6 347.5,402.7 348.5,402.8 349.5,402.9 350.5,403.0 351.5,403.1 352.5,403.2 353.5,403.5 354.5,404.0 355.5,404.9 356.5,406.0 357.5,407.5 358.5,409.1 359.5,410.7 360.5,412.3 361.5,413.7 362.5,414.9 363.5,416.0 364.5,416.8 365.5,417.5 366.5,418.1 367.5,418.8 368.5,419.4 369.5,420.1 370.5,420.8 371.5,421.3 372.5,421.8 373.5,422.1 374.5,422.3 375.5,422.4 376.5,422.4 377.5,422.3 378.5,422.1 379.5,421.8 380.5,421.3 381.5,420.6 382.5,419.9 383.5,419.2 384.5,418.6 385.5,417.9 386.5,417.1 387.5,416.4 388.5,415.8 389.5,415.0 390.5,414.1 391.5,413.1 392.5,412.0 393.5,410.8 394.5,409.5 395.5,408.2 396.5,406.9 397.5,405.6 398.5,404.4 399.5,403.1 400.5,401.9 401.5,400.9 402.5,400.1 403.5,399.4 404.5,398.8 405.5,398.2 406.5,397.6 407.5,397.1 408.5,396.5 409.5,395.9 410.5,395.4 411.5,395.1 412.5,394.8 413.5,394.7 414.5,394.8 415.5,394.9 416.5,395.0 417.5,395.2 418.5,395.5 419.5,396.1 420.5,396.9 421.5,398.0 422.5,399.2 423.5,400.5 424.5,401.8 425.5,403.1 426.5,404.4 427.5,405.7 428.5,407.0 429.5,408.3 430.5,409.7 431.5,411.0 432.5,412.3 433.5,413.7 434.5,414.9 435.5,416.0 436.5,416.9 437.5,417.7 438.5,418.2 439.5,418.8 440.5,419.2 441.5,419.8 442.5,420.2 443.5,420.6 444.5,420.6 445.5,420.2 446.5,419.4 447.5,418.4 448.5,417.1 449.5,415.9 450.5,414.5 451.5,413.1 452.5,411.7 453.5,410.2 454.5,408.8 455.5,407.2 456.5,405.8 457.5,404.2 458.5,402.8 459.5,401.6 460.5,400.6 461.5,399.7 462.5,399.1 463.5,398.5 464.5,397.9 465.5,397.4 466.5,396.8 467.5,396.3 468.5,395.9 469.5,395.5 470.5,395.3 471.5,395.2 472.5,395.1 473.5,395.0 474.5,394.9 475.5,394.8 476.5,394.7 477.5,394.6 478.5,394.5 479.5,394.4 480.5,394.3 481.5,394.2 482.5,394.2 483.5,394.3 484.5,394.6 485.5,394.9 486.5,395.5 487.5,396.0 488.5,396.8 489.5,397.9 490.5,399.3 491.5,401.0 492.5,403.1 493.5,405.4 494.5,407.5 495.5,409.4 496.5,411.0 497.5,412.4 498.5,413.5 499.5,414.5 500.5,415.5 501.5,416.5 502.5,417.5 503.5,418.4 504.5,419.2 505.5,419.8 506.5,420.2 507.5,420.5 508.5,420.7 509.5,420.9 510.5,421.1 511.5,421.3 512.5,421.5 513.5,421.7 514.5,421.9 515.5,422.1 516.5,422.3 517.5,422.4 518.5,422.5 519.5,422.6 520.5,422.8 521.5,422.8 522.5,422.8 523.5,422.7 524.5,422.6 525.5,422.4 526.5,422.1 527.5,421.7 528.5,421.1 529.5,420.2 530.5,419.0 531.5,417.5 532.5,415.9 533.5,414.3 534.5,412.7 535.5,411.2 536.5,409.8 537.5,408.4 538.5,407.2 539.5,406.0 540.5,404.8 541.5,403.7 542.5,402.5 543.5,401.3 544.5,400.3 545.5,399.5 546.5,398.9 547.5,398.4 548.5,398.1 549.5,397.9 550.5,397.6 551.5,397.3 552.5,397.0 553.5,396.7 554.5,396.4 555.5,396.2 556.5,395.9 557.5,395.7 558.5,395.4 559.5,395.2 560.5,395.0 561.5,394.8 562.5,394.6 563.5,394.4 564.5,394.4 565.5,394.5 566.5,394.7 567.5,395.1 568.5,395.5 569.5,396.1 570.5,397.1 571.5,398.4 572.5,400.0 573.5,402.0 574.5,404.1 575.5,406.2 576.5,408.0 577.5,409.6 578.5,411.0 579.5,412.2 580.5,413.3 581.5,414.4 582.5,415.4 583.5,416.2 584.5,416.7 585.5,416.8 586.5,416.6 587.5,416.2 588.5,415.7 589.5,415.2 590.5,414.6 591.5,413.9 592.5,413.0 593.5,411.9 594.5,410.6 595.5,409.2 596.5,407.8 597.5,406.5 598.5,405.1 599.5,403.7 600.5,402.3 601.5,401.4 602.5,400.9 603.5,400.9 604.5,401.3 605.5,402.3 606.5,403.4 607.5,404.7 608.5,406.2 609.5,407.9 610.5,409.6 611.5,411.2 612.5,412.3 613.5,413.1 614.5,413.4 615.5,413.4 616.5,413.1 617.5,413.0 618.5,413.1 619.5,413.4 620.5,414.0 621.5,414.8 622.5,415.7 623.5,416.6 624.5,417.6 625.5,418.3 626.5,418.7 627.5,419.0 628.5,419.1 629.5,418.9 630.5,418.7 631.5,418.5 632.5,418.4 633.5,418.2 634.5,418.0 635.5,417.9 636.5,417.7 637.5,417.6 638.5,417.5 639.5,417.4 640.5,417.2 641.5,417.1 642.5,417.1 643.5,416.9 644.5,416.9 645.5,416.8 646.5,416.6 647.5,416.5 648.5,416.1 649.5,415.6 650.5,414.9 651.5,414.1 652.5,413.2 653.5,412.3 654.5,411.3 655.5,410.3 656.5,409.2 657.5,407.9 658.5,406.5 659.5,405.1 660.5,403.6 661.5,402.1 662.5,400.7 663.5,399.6 664.5,398.7 665.5,398.0 666.5,397.6 667.5,397.2 668.5,396.9 669.5,396.6 670.5,396.2 671.5,395.9 672.5,395.6 673.5,395.4 674.5,395.1 675.5,394.9 676.5,394.7 677.5,394.5 678.5,394.3 679.5,394.1 680.5,393.9 681.5,393.7 682.5,393.5 683.5,393.3 684.5,393.2 685.5,393.0 686.5,392.9 687.5,392.9 688.5,392.8 689.5,392.8 690.5,392.7 691.5,392.6 692.5,392.6 693.5,392.5 694.5,392.5 695.5,392.4 696.5,392.4 697.5,392.3 698.5,392.2 699.5,392.2 700.5,392.1 701.5,392.1 702.5,392.2 703.5,392.3 704.5,392.5 705.5,392.8 706.5,393.2 707.5,393.5" fill="none" stroke="#87cefa" stroke-width="1" />
<polyline points="41.5,409.2 42.5,409.8 43.5,410.4 44.5,411.6 45.5,412.8 46.5,414.0 47.5,415.1 48.5,416.1 49.5,416.9 50.5,417.6 51.5,418.1 52.5,418.6 53.5,419.0 54.5,419.5 55.5,419.9 56.5,420.4 57.5,420.8 58.5,421.3 59.5,421.7 60.5,422.0 61.5,422.2 62.5,422.4 63.5,422.5 64.5,422.5 65.5,422.5 66.5,422.6 67.5,422.6 68.5,422.6 69.5,422.6 70.5,422.7 71.5,422.7 72.5,422.7 73.5,422.8 74.5,422.8 75.5,422.8 76.5,422.8 77.5,422.9 78.5,422.9 79.5,422.9 80.5,422.8 81.5,422.5 82.5,421.9 83.5,421.1 84.5,420.0 85.5,418.8 86.5,417.6 87.5,416.4 88.5,415.1 89.5,413.7 90.5,412.2 91.5,410.7 92.5,409.0 93.5,407.3 94.5,405.7 95.5,404.0 96.5,402.3 97.5,400.9 98.5,399.7 99.5,398.7 100.5,398.0 101.5,397.5 102.5,397.0 103.5,396.5 104.5,396.0 105.5,395.5 106.5,395.3 107.5,395.3 108.5,395.6 109.5,396.2 110.5,397.1 111.5,397.9 112.5,398.8 113.5,399.6 114.5,400.5 115.5,401.4 116.5,402.3 117.5,403.3 118.5,404.4 119.5,405.6 120.5,406.9 121.5,408.3 122.5,409.7 123.5,411.1 124.5,412.4 125.5,413.8 126.5,415.2 127.5,416.6 128.5,417.8 129.5,418.9 130.5,419.7 131.5,420.3 132.5,420.6 133.5,420.9 134.5,421.1 135.5,421.4 136.5,421.6 137.5,421.9 138.5,422.1 139.5,422.4 140.5,422.6 141.5,422.7 142.5,422.8 143.5,422.8 144.5,422.7 145.5,422.6 146.5,422.4 147.5,422.3 148.5,422.2 149.5,422.1 150.5,421.9 151.5,421.8 152.5,421.5 153.5,420.9 154.5,419.9 155.5,418.6 156.5,416.9 157.5,415.1 158.5,413.2 159.5,411.4 160.5,409.6 161.5,407.8 162.5,406.2 163.5,404.7 164.5,403.3 165.5,402.1 166.5,400.9 167.5,399.8 168.5,398.6 169.5,397.4 170.5,396.4 171.5,395.9 172.5,395.7 173.5,395.9 174.5,396.6 175.5,397.4 176.5,398.2 177.5,399.1 178.5,399.9 179.5,400.8 180.5,401.8 181.5,402.9 182.5,404.1 183.5,405.4 184.5,406.8 185.5,408.2 186.5,409.6 187.5,410.9 188.5,412.3 189.5,413.7 190.5,415.1 191.5,416.3 192.5,417.4 193.5,418.2 194.5,418.9 195.5,419.3 196.5,419.6 197.5,420.0 198.5,420.3 199.5,420.6 200.5,420.9 201.5,421.3 202.5,421.6 203.5,421.8 204.5,421.9 205.5,421.9 206.5,421.7 207.5,421.3 208.5,420.9 209.5,420.4 210.5,420.0 211.5,419.6 212.5,419.1 213.5,418.6 214.5,418.1 215.5,417.6 216.5,417.0 217.5,416.4 218.5,415.8 219.5,415.2 220.5,414.8 221.5,414.7 222.5,414.8 223.5,415.1 224.5,415.7 225.5,416.3 226.5,416.9 227.5,417.4 228.5,418.0 229.5,418.6 230.5,419.1 231.5,419.5 232.5,419.7 233.5,419.8 234.5,419.8 235.5,419.8 236.5,419.7 237.5,419.6 238.5,419.6 239.5,419.4 240.5,419.1 241.5,418.6 242.5,417.9 243.5,417.1 244.5,416.1 245.5,415.2 246.5,414.3 247.5,413.3 248.5,412.4 249.5,411.5 250.5,410.6 251.5,409.8 252.5,408.9 253.5,408.1 254.5,407.2 255.5,406.4 256.5,405.6 257.5,404.8 258.5,404.2 259.5,403.8 260.5,403.6 261.5,403.5 262.5,403.5 263.5,403.4 264.5,403.1 265.5,402.6 266.5,401.9 267.5,401.0 268.5,400.0 269.5,399.0 270.5,398.0 271.5,397.2 272.5,396.5 273.5,396.0 274.5,395.6 275.5,395.4 276.5,395.2 277.5,395.0 278.5,394.8 279.5,394.6 280.5,394.5 281.5,394.3 282.5,394.2 283.5,394.1 284.5,393.9 285.5,393.8 286.5,393.7 287.5,393.6 288.5,393.4 289.5,393.3 290.5,393.2 291.5,393.2 292.5,393.2 293.5,393.3 294.5,393.5 295.5,393.7 296.5,393.9 297.5,394.1 298.5,394.3 299.5,394.5 300.5,394.7 301.5,394.9 302.5,395.2 303.5,395.9 304.5,396.8 305.5,397.9 306.5,399.4 307.5,401.0 308.5,402.6 309.5,404.4 310.5,406.2 311.5,408.0 312.5,410.0 313.5,411.6 314.5,412.9 315.5,413.9 316.5,414.5 317.5,414.8 318.5,415.0 319.5,415.1 320.5,415.0 321.5,414.7 322.5,414.3 323.5,413.7 324.5,413.1 325.5,412.5 326.5,411.9 327.5,411.2 328.5,410.5 329.5,409.7 330.5,408.9 331.5,408.0 332.5,407.1 333.5,406.3 334.5,405.4 335.5,404.6 336.5,403.7 337.5,403.1 338.5,402.6 339.5,402.3 340.5,402.2 341.5,402.3 342.5,402.4 343.5,402.6 344.5,402.7 345.5,402.8 346.5,402.9 347.5,403.0 348.5,403.1 349.5,403.2 350.5,403.5 351.5,404.0 352.5,404.9 353.5,406.0 354.5,407.5 355.5,409.1 356.5,410.7 357.5,412.3 358.5,413.7 359.5,414.9 360.5,416.0 361.5,416.8 362.5,417.5 363.5,418.1 364.5,418.8 365.5,419.4 366.5,420.1 367.5,420.8 368.5,421.3 369.5,421.8 370.5,422.1 371.5,422.3 372.5,422.4 373.5,422.4 374.5,422.3 375.5,422.1 376.5,421.8 377.5,421.3 378.5,420.6 379.5,419.9 380.5,419.2 381.5,418.6 382.5,417.9 383.5,417.1 384.5,416.4 385.5,415.8 386.5,415.0 387.5,414.1 388.5,413.1 389.5,412.0 390.5,410.8 391.5,409.5 392.5,408.2 393.5,406.9 394.5,405.6 395.5,404.4 396.5,403.1 397.5,401.9 398.5,400.9 399.5,400.1 400.5,399.4 401.5,398.8 402.5,398.2 403.5,397.6 404.5,397.1 405.5,396.5 406.5,395.9 407.5,395.4 408.5,395.1 409.5,394.8 410.5,394.7 411.5,394.8 412.5,394.9 413.5,395.0 414.5,395.2 415.5,395.5 416.5,396.1 417.5,396.9 418.5,398.0 419.5,399.2 420.5,400.5 421.5,401.8 422.5,403.1 423.5,404.4 424.5,405.7 425.5,407.0 426.5,408.3 427.5,409.7 428.5,411.0 429.5,412.3 430.5,413.7 431.5,414.9 432.5,416.0 433.5,416.9 434.5,417.7 435.5,418.2 436.5,418.8 437.5,419.2 438.5,419.8 439.5,420.2 440.5,420.6 441.5,420.6 442.5,420.2 443.5,419.4 444.5,418.4 445.5,417.1 446.5,415.9 447.5,414.5 448.5,413.1 449.5,411.7 450.5,410.2 451.5,408.8 452.5,407.2 453.5,405.8 454.5,404.2 455.5,402.8 456.5,401.6 457.5,400.6 458.5,399.7 459.5,399.1 460.5,398.5 461.5,397.9 462.5,397.4 463.5,396.8 464.5,396.3 465.5,395.9 466.5,395.5 467.5,395.3 468.5,395.2 469.5,395.1 470.5,395.0 471.5,394.9 472.5,394.8 473.5,394.7 474.5,394.6 475.5,394.5 476.5,394.4 477.5,394.3 478.5,394.2 479.5,394.2 480.5,394.3 481.5,394.6 482.5,394.9 483.5,395.5 484.5,396.0 485.5,396.8 486.5,397.9 487.5,399.3 488.5,401.0 489.5,403.1 490.5,405.4 491.5,407.5 492.5,409.4 493.5,411.0 494.5,412.4 495.5,413.5 496.5,414.5 497.5,415.5 498.5,416.5 499.5,417.5 500.5,418.4 501.5,419.2 502.5,419.8 503.5,420.2 504.5,420.5 505.5,420.7 506.5,420.9 507.5,421.1 508.5,421.3 509.5,421.5 510.5,421.7 511.5,421.9 512.5,422.1 513.5,422.3 514.5,422.4 515.5,422.5 516.5,422.6 517.5,422.8 518.5,422.8 519.5,422.8 520.5,422.7 521.5,422.6 522.5,422.4 523.5,422.1 524.5,421.7 525.5,421.1 526.5,420.2 527.5,419.0 528.5,417.5 529.5,415.9 530.5,414.3 531.5,412.7 532.5,411.2 533.5,409.8 534.5,408.4 535.5,407.2 536.5,406.0 537.5,404.8 538.5,403.7 539.5,402.5 540.5,401.3 541.5,400.3 542.5,399.5 543.5,398.9 544.5,398.4 545.5,398.1 546.5,397.9 547.5,397.6 548.5,397.3 549.5,397.0 550.5,396.7 551.5,396.4 552.5,396.2 553.5,395.9 554.5,395.7 555.5,395.4 556.5,395.2 557.5,395.0 558.5,394.8 559.5,394.6 560.5,394.4 561.5,394.4 562.5,394.5 563.5,394.7 564.5,395.1 565.5,395.5 566.5,396.1 567.5,397.1 568.5,398.4 569.5,400.0 570.5,402.0 571.5,404.1 572.5,406.2 573.5,408.0 574.5,409.6 575.5,411.0 576.5,412.2 577.5,413.3 578.5,414.4 579.5,415.4 580.5,416.2 581.5,416.7 582.5,416.8 583.5,416.6 584.5,416.2 585.5,415.7 586.5,415.2 587.5,414.6 588.5,413.9 589.5,413.0 590.5,411.9 591.5,410.6 592.5,409.2 593.5,407.8 594.5,406.5 595.5,405.1 596.5,403.7 597.5,402.3 598.5,401.4 599.5,400.9 600.5,400.9 601.5,401.3 602.5,402.3 603.5,403.4 604.5,404.7 605.5,406.2 606.5,407.9 607.5,409.6 608.5,411.2 609.5,412.3 610.5,413.1 611.5,413.4 612.5,413.4 613.5,413.1 614.5,413.0 615.5,413.1 616.5,413.4 617.5,414.0 618.5,414.8 619.5,415.7 620.5,416.6 621.5,417.6 622.5,418.3 623.5,418.7 624.5,419.0 625.5,419.1 626.5,418.9 627.5,418.7 628.5,418.5 629.5,418.4 630.5,418.2 631.5,418.0 632.5,417.9 633.5,417.7 634.5,417.6 635.5,417.5 636.5,417.4 637.5,417.2 638.5,417.1 639.5,417.1 640.5,416.9 641.5,416.9 642.5,416.8 643.5,416.6 644.5,416.5 645.5,416.1 646.5,415.6 647.5,414.9 648.5,414.1 649.5,413.2 650.5,412.3 651.5,411.3 652.5,410.3 653.5,409.2 654.5,407.9 655.5,406.5 656.5,405.1 657.5,403.6 658.5,402.1 659.5,400.7 660.5,399.6 661.5,398.7 662.5,398.0 663.5,397.6 664.5,397.2 665.5,396.9 666.5,396.6 667.5,396.2 668.5,395.9 669.5,395.6 670.5,395.4 671.5,395.1 672.5,394.9 673.5,394.7 674.5,394.5 675.5,394.3 676.5,394.1 677.5,393.9 678.5,393.7 679.5,393.5 680.5,393.3 681.5,393.2 682.5,393.0 683.5,392.9 684.5,392.9 685.5,392.8 686.5,392.8 687.5,392.7 688.5,392.6 689.5,392.6 690.5,392.5 691.5,392.5 692.5,392.4 693.5,392.4 694.5,392.3 695.5,392.2 696.5,392.2 697.5,392.1 698.5,392.1 699.5,392.2 700.5,392.3 701.5,392.5 702.5,392.8 703.5,393.2 704.5,393.5 705.5,393.8 706.5,394.0 707.5,394.2" fill="none" stroke="#90ee90" stroke-width="2.1" stroke-linejoin="round"/>
<polyline points="44.0,451.3 45.0,451.3 46.0,451.2 47.0,451.1 48.0,450.9 49.0,451.1 50.0,451.6 51.0,452.5 52.0,453.7 53.0,455.3 54.0,457.1 55.0,459.0 56.0,461.1 57.0,463.3 58.0,465.3 59.0,467.0 60.0,468.3 61.0,469.3 62.0,469.9 63.0,470.1 64.0,470.0 65.0,469.7 66.0,469.0 67.0,468.5 68.0,468.3 69.0,468.4 70.0,468.7 71.0,469.3 72.0,469.7 73.0,470.0 74.0,470.0 75.0,469.9 76.0,469.7 77.0,469.5 78.0,469.3 79.0,469.1 80.0,468.9 81.0,468.7 82.0,468.5 83.0,468.1 84.0,467.2 85.0,466.0 86.0,464.3 87.0,462.2 88.0,459.9 89.0,457.7 90.0,455.6 91.0,453.5 92.0,451.5 93.0,449.5 94.0,447.8 95.0,446.3 96.0,445.1 97.0,444.2 98.0,443.6 99.0,443.4 100.0,443.5 101.0,443.8 102.0,444.5 103.0,445.3 104.0,446.1 105.0,446.9 106.0,447.9 107.0,449.1 108.0,450.5 109.0,452.1 110.0,453.9 111.0,455.7 112.0,457.5 113.0,459.2 114.0,460.8 115.0,462.2 116.0,463.4 117.0,464.5 118.0,465.5 119.0,466.5 120.0,467.5 121.0,468.5 122.0,469.4 123.0,469.9 124.0,470.2 125.0,470.3 126.0,470.0 127.0,469.6 128.0,469.2 129.0,468.8 130.0,468.4 131.0,468.1 132.0,467.9 133.0,467.8 134.0,467.8 135.0,468.0 136.0,468.2 137.0,468.4 138.0,468.7 139.0,468.9 140.0,469.1 141.0,469.1 142.0,469.0 143.0,468.7 144.0,468.2 145.0,467.8 146.0,467.2 147.0,466.8 148.0,466.2 149.0,465.7 150.0,465.1 151.0,464.5 152.0,463.8 153.0,463.0 154.0,462.2 155.0,461.4 156.0,460.6 157.0,459.7 158.0,458.7 159.0,457.6 160.0,456.3 161.0,455.0 162.0,453.6 163.0,452.3 164.0,450.9 165.0,449.5 166.0,448.1 167.0,446.8 168.0,445.9 169.0,445.2 170.0,444.7 171.0,444.6 172.0,444.6 173.0,444.9 174.0,445.6 175.0,446.9 176.0,448.7 177.0,450.9 178.0,453.3 179.0,455.6 180.0,457.7 181.0,459.6 182.0,461.4 183.0,463.2 184.0,465.0 185.0,466.6 186.0,467.9 187.0,468.9 188.0,469.6 189.0,469.9 190.0,470.1 191.0,470.2 192.0,470.4 193.0,470.6 194.0,470.7 195.0,470.7 196.0,470.5 197.0,470.3 198.0,469.9 199.0,469.5 200.0,469.1 201.0,468.6 202.0,468.2 203.0,467.8 204.0,467.4 205.0,466.7 206.0,466.0 207.0,465.0 208.0,463.8 209.0,462.5 210.0,461.2 211.0,459.8 212.0,458.5 213.0,457.2 214.0,456.3 215.0,455.9 216.0,456.0 217.0,456.5 218.0,457.6 219.0,458.7 220.0,459.9 221.0,461.3 222.0,462.8 223.0,464.2 224.0,465.6 225.0,466.8 226.0,467.7 227.0,468.4 228.0,468.8 229.0,469.2 230.0,469.5 231.0,469.8 232.0,470.2 233.0,470.4 234.0,470.6 235.0,470.6 236.0,470.4 237.0,470.2 238.0,469.8 239.0,469.5 240.0,469.2 241.0,468.8 242.0,468.5 243.0,468.1 244.0,467.7 245.0,467.2 246.0,466.8 247.0,466.2 248.0,465.8 249.0,465.2 250.0,464.8 251.0,464.2 252.0,463.8 253.0,463.2 254.0,462.8 255.0,462.2 256.0,461.8 257.0,461.3 258.0,460.9 259.0,460.7 260.0,460.6 261.0,460.5 262.0,460.8 263.0,461.4 264.0,462.3 265.0,462.6 266.0,462.3 267.0,461.1 268.0,459.1 269.0,456.4 270.0,453.8 271.0,451.3 272.0,449.2 273.0,447.5 274.0,446.1 275.0,445.2 276.0,444.7 277.0,444.3 278.0,444.0 279.0,443.7 280.0,443.3 281.0,443.0 282.0,442.9 283.0,442.7 284.0,442.7 285.0,442.8 286.0,442.9 287.0,443.1 288.0,443.2 289.0,443.3 290.0,443.4 291.0,443.6 292.0,443.7 293.0,443.9 294.0,444.3 295.0,444.9 296.0,445.6 297.0,446.5 298.0,447.5 299.0,448.5 300.0,449.5 301.0,450.5 302.0,451.6 303.0,452.7 304.0,454.0 305.0,455.5 306.0,457.0 307.0,458.6 308.0,460.2 309.0,461.8 310.0,463.3 311.0,464.6 312.0,465.9 313.0,467.0 314.0,467.7 315.0,467.9 316.0,467.6 317.0,466.7 318.0,465.3 319.0,463.6 320.0,461.6 321.0,459.6 322.0,457.5 323.0,455.2 324.0,453.0 325.0,451.1 326.0,449.6 327.0,448.4 328.0,447.5 329.0,447.0 330.0,446.5 331.0,446.1 332.0,445.7 333.0,445.4 334.0,445.1 335.0,444.9 336.0,444.7 337.0,444.5 338.0,444.5 339.0,444.8 340.0,445.4 341.0,446.4 342.0,447.8 343.0,449.2 344.0,450.7 345.0,452.1 346.0,453.5 347.0,454.9 348.0,456.1 349.0,457.4 350.0,458.4 351.0,458.8 352.0,458.8 353.0,458.2 354.0,457.2 355.0,456.6 356.0,456.8 357.0,457.8 358.0,459.3 359.0,461.3 360.0,463.1 361.0,464.7 362.0,465.9 363.0,467.0 364.0,467.8 365.0,468.5 366.0,469.0 367.0,469.4 368.0,469.8 369.0,470.2 370.0,470.3 371.0,470.2 372.0,469.7 373.0,469.0 374.0,468.0 375.0,467.0 376.0,466.0 377.0,465.0 378.0,463.9 379.0,462.8 380.0,461.7 381.0,460.5 382.0,459.3 383.0,458.1 384.0,456.9 385.0,455.8 386.0,454.8 387.0,453.8 388.0,453.0 389.0,452.2 390.0,451.5 391.0,451.1 392.0,451.2 393.0,451.6 394.0,452.5 395.0,453.8 396.0,455.0 397.0,455.9 398.0,456.6 399.0,456.9 400.0,456.8 401.0,456.4 402.0,455.7 403.0,454.7 404.0,453.5 405.0,452.0 406.0,450.4 407.0,448.8 408.0,447.2 409.0,446.0 410.0,445.1 411.0,444.6 412.0,444.5 413.0,444.8 414.0,445.0 415.0,445.6 416.0,446.4 417.0,447.6 418.0,449.0 419.0,450.8 420.0,452.5 421.0,454.1 422.0,455.4 423.0,456.6 424.0,457.6 425.0,458.4 426.0,459.2 427.0,460.0 428.0,460.8 429.0,461.6 430.0,462.5 431.0,463.4 432.0,464.2 433.0,465.1 434.0,465.9 435.0,466.5 436.0,466.9 437.0,467.1 438.0,467.1 439.0,467.0 440.0,466.9 441.0,466.7 442.0,465.8 443.0,464.2 444.0,461.7 445.0,458.5 446.0,454.9 447.0,451.9 448.0,449.6 449.0,448.1 450.0,447.2 451.0,446.8 452.0,446.2 453.0,445.8 454.0,445.2 455.0,444.8 456.0,444.6 457.0,444.5 458.0,444.6 459.0,444.8 460.0,445.1 461.0,445.4 462.0,445.8 463.0,445.9 464.0,446.0 465.0,445.9 466.0,445.6 467.0,445.2 468.0,444.8 469.0,444.7 470.0,445.0 471.0,445.7 472.0,446.7 473.0,447.8 474.0,448.7 475.0,449.3 476.0,449.5 477.0,449.5 478.0,449.3 479.0,449.1 480.0,448.9 481.0,448.9 482.0,449.0 483.0,449.3 484.0,449.7 485.0,450.3 486.0,450.9 487.0,451.5 488.0,452.0 489.0,452.5 490.0,452.8 491.0,452.9 492.0,453.0 493.0,453.0 494.0,453.1 495.0,453.5 496.0,454.1 497.0,455.0 498.0,456.1 499.0,457.4 500.0,458.3 501.0,458.7 502.0,458.5 503.0,457.7 504.0,456.3 505.0,455.3 506.0,454.8 507.0,454.9 508.0,455.7 509.0,456.9 510.0,458.1 511.0,459.1 512.0,460.1 513.0,460.9 514.0,461.6 515.0,462.4 516.0,463.3 517.0,464.3 518.0,465.4 519.0,466.6 520.0,467.9 521.0,468.9 522.0,469.5 523.0,469.6 524.0,469.3 525.0,468.5 526.0,467.2 527.0,465.6 528.0,463.7 529.0,461.5 530.0,459.0 531.0,456.5 532.0,454.3 533.0,452.5 534.0,451.0 535.0,449.8 536.0,448.9 537.0,448.1 538.0,447.5 539.0,447.3 540.0,447.3 541.0,447.6 542.0,448.2 543.0,448.8 544.0,449.5 545.0,450.4 546.0,451.4 547.0,452.5 548.0,453.8 549.0,455.0 550.0,455.8 551.0,456.0 552.0,455.8 553.0,455.0 554.0,453.8 555.0,452.5 556.0,451.5 557.0,450.9 558.0,450.4 559.0,450.3 560.0,450.5 561.0,450.7 562.0,450.8 563.0,451.0 564.0,451.2 565.0,451.5 566.0,452.1 567.0,452.9 568.0,453.9 569.0,455.1 570.0,456.3 571.0,457.5 572.0,458.5 573.0,459.1 574.0,459.3 575.0,459.1 576.0,458.5 577.0,457.7 578.0,456.9 579.0,456.1 580.0,455.3 581.0,454.6 582.0,453.9 583.0,453.2 584.0,452.5 585.0,451.8 586.0,451.2 587.0,450.5 588.0,449.8 589.0,449.3 590.0,449.0 591.0,448.8 592.0,448.8 593.0,448.9 594.0,449.0 595.0,449.1 596.0,449.2 597.0,449.4 598.0,449.5 599.0,449.6 600.0,449.8 601.0,450.2 602.0,450.9 603.0,451.9 604.0,453.2 605.0,454.8 606.0,456.4 607.0,458.0 608.0,459.3 609.0,459.9 610.0,459.9 611.0,459.3 612.0,458.0 613.0,456.4 614.0,454.8 615.0,453.2 616.0,452.4 617.0,452.5 618.0,453.4 619.0,455.2 620.0,457.8 621.0,460.4 622.0,463.0 623.0,465.2 624.0,466.6 625.0,467.2 626.0,467.0 627.0,466.0 628.0,464.6 629.0,463.2 630.0,461.8 631.0,460.7 632.0,460.0 633.0,459.7 634.0,459.7 635.0,460.0 636.0,460.3 637.0,460.7 638.0,461.0 639.0,461.3 640.0,461.4 641.0,461.1 642.0,460.5 643.0,459.6 644.0,458.4 645.0,457.2 646.0,456.0 647.0,454.8 648.0,453.8 649.0,452.8 650.0,451.9 651.0,451.1 652.0,450.4 653.0,449.9 654.0,450.0 655.0,450.6 656.0,451.3 657.0,451.8 658.0,451.6 659.0,450.6 660.0,448.7 661.0,446.9 662.0,445.6 663.0,444.9 664.0,444.8 665.0,445.2 666.0,445.6 667.0,446.0 668.0,446.6 669.0,447.6 670.0,449.1 671.0,450.5 672.0,451.3 673.0,451.4 674.0,450.5 675.0,448.7 676.0,446.8 677.0,445.3 678.0,444.3 679.0,443.7 680.0,443.6 681.0,443.4 682.0,443.3 683.0,443.1 684.0,443.0 685.0,442.9 686.0,442.7 687.0,442.6 688.0,442.5 689.0,442.4 690.0,442.2 691.0,442.1 692.0,442.1 693.0,441.9 694.0,441.9 695.0,441.8 696.0,441.6 697.0,441.6 698.0,441.4 699.0,441.4 700.0,441.2 701.0,441.2 702.0,441.3 703.0,441.6 704.0,442.0 705.0,442.5 706.0,443.1 707.0,443.7" fill="none" stroke="#2f6f5f" stroke-width="1" />
<polyline points="41.5,449.4 44.5,452.2 47.5,461.0 50.5,466.1 53.5,472.2 56.5,474.4 59.5,469.9 62.5,467.6 65.5,472.3 68.5,470.3 71.5,469.6 74.5,469.4 77.5,466.7 80.5,460.1 83.5,451.1 86.5,445.6 89.5,440.4 92.5,441.0 95.5,446.8 98.5,447.2 101.5,454.9 104.5,460.6 107.5,465.5 110.5,467.0 113.5,470.3 116.5,473.7 119.5,471.9 122.5,468.6 125.5,468.2 128.5,469.8 131.5,470.2 134.5,471.4 137.5,466.8 140.5,467.1 143.5,462.2 146.5,461.0 149.5,457.8 152.5,457.1 155.5,451.0 158.5,447.2 161.5,443.6 164.5,443.4 167.5,443.8 170.5,455.2 173.5,462.1 176.5,468.0 179.5,470.9 182.5,471.0 185.5,472.6 188.5,471.1 191.5,470.1 194.5,467.9 197.5,468.3 200.5,463.3 203.5,456.8 206.5,456.1 209.5,453.9 212.5,460.5 215.5,463.8 218.5,471.4 221.5,471.2 224.5,471.4 227.5,472.5 230.5,467.9 233.5,469.1 236.5,466.3 239.5,466.1 242.5,463.5 245.5,462.0 248.5,460.2 251.5,460.7 254.5,460.4 257.5,462.1 260.5,464.2 263.5,445.5 266.5,441.9 269.5,441.3 272.5,444.3 275.5,443.4 278.5,442.0 281.5,445.2 284.5,442.7 287.5,444.4 290.5,449.5 293.5,450.5 296.5,456.3 299.5,461.6 302.5,464.0 305.5,470.8 308.5,470.7 311.5,463.4 314.5,457.3 317.5,445.4 320.5,445.3 323.5,445.0 326.5,446.2 329.5,445.3 332.5,444.3 335.5,448.9 338.5,454.7 341.5,459.7 344.5,464.2 347.5,458.1 350.5,458.0 353.5,470.4 356.5,468.4 359.5,469.4 362.5,471.9 365.5,469.7 368.5,465.1 371.5,460.5 374.5,457.7 377.5,453.4 380.5,451.3 383.5,448.3 386.5,452.5 389.5,459.4 392.5,459.8 395.5,453.4 398.5,448.3 401.5,443.0 404.5,442.7 407.5,443.6 410.5,447.1 413.5,458.8 416.5,458.6 419.5,460.3 422.5,462.9 425.5,466.7 428.5,467.8 431.5,466.1 434.5,467.4 437.5,458.0 440.5,440.3 443.5,444.1 446.5,445.9 449.5,442.7 452.5,444.8 455.5,446.2 458.5,446.2 461.5,444.0 464.5,443.5 467.5,452.2 470.5,452.3 473.5,450.2 476.5,448.1 479.5,450.7 482.5,454.9 485.5,454.8 488.5,454.0 491.5,456.3 494.5,460.7 497.5,456.2 500.5,450.3 503.5,463.2 506.5,461.1 509.5,463.3 512.5,469.9 515.5,475.4 518.5,469.4 521.5,461.9 524.5,451.4 527.5,446.7 530.5,444.1 533.5,446.1 536.5,449.1 539.5,452.0 542.5,459.1 545.5,457.2 548.5,448.8 551.5,446.2 554.5,453.1 557.5,452.7 560.5,454.6 563.5,459.9 566.5,462.7 569.5,460.1 572.5,452.4 575.5,453.8 578.5,450.0 581.5,446.9 584.5,446.2 587.5,448.5 590.5,450.5 593.5,449.2 596.5,452.4 599.5,460.6 602.5,463.8 605.5,456.9 608.5,447.9 611.5,450.5 614.5,465.1 617.5,474.4 620.5,466.1 623.5,459.9 626.5,456.9 629.5,462.7 632.5,463.2 635.5,460.5 638.5,453.2 641.5,451.5 644.5,450.5 647.5,445.7 650.5,454.4 653.5,448.5 656.5,439.4 659.5,445.7 662.5,448.8 665.5,455.6 668.5,446.5 671.5,439.9 674.5,440.9 677.5,442.4 680.5,441.0 683.5,444.0 686.5,441.9 689.5,440.4 692.5,439.4 695.5,442.6 698.5,445.3 701.5,446.9 704.5,445.7 707.5,446.2" fill="none" stroke="#7a9a20" stroke-width="1.1" />
<polyline points="41.5,451.5 47.5,450.6 52.0,457.5 56.5,468.0 61.0,471.0 65.5,467.4 70.0,470.4 82.0,468.0 86.5,457.5 92.5,445.5 97.0,442.5 104.5,448.5 112.0,462.0 121.0,471.0 130.0,467.4 139.0,469.5 148.0,465.0 155.5,459.0 160.0,453.0 166.0,444.6 172.0,444.6 176.5,456.0 184.0,469.5 193.0,471.0 203.5,466.5 208.0,460.5 212.5,454.5 217.0,459.0 223.0,468.0 232.0,471.0 241.0,468.0 250.0,463.5 256.0,460.5 260.5,460.5 263.5,465.0 266.5,456.0 271.0,445.5 280.0,442.5 292.0,444.0 301.0,453.0 308.5,465.0 313.0,469.5 317.5,462.0 323.5,448.5 329.5,445.5 337.0,444.0 343.0,453.0 349.0,460.5 353.5,454.5 356.5,462.0 361.0,468.0 368.5,471.0 376.0,463.5 383.5,454.5 389.5,450.0 395.5,457.5 400.0,456.0 407.5,444.0 413.5,445.5 419.5,456.0 427.0,462.0 433.0,467.4 440.5,466.5 445.0,448.5 454.0,444.0 461.5,446.4 467.5,444.0 472.0,450.0 479.5,448.5 487.0,453.0 493.0,453.0 499.0,460.5 503.5,453.0 508.0,459.0 514.0,463.5 520.0,471.0 524.5,466.5 530.5,451.5 536.5,446.4 542.5,450.0 548.5,457.5 554.5,450.0 563.5,451.5 571.0,460.5 578.5,454.5 587.5,448.5 599.5,450.0 607.0,462.0 614.5,450.0 622.0,469.5 629.5,459.0 638.5,462.0 646.0,453.0 652.0,448.5 655.0,454.5 659.5,444.0 667.0,447.0 670.0,454.5 674.5,444.0 685.0,442.5 700.0,441.0 707.5,445.5" fill="none" stroke="#98f098" stroke-width="1.7" stroke-linejoin="round"/>
<g shape-rendering="crispEdges"><rect x="43" y="496" width="1" height="12" fill="#00ff00"/><rect x="45" y="498" width="1" height="10" fill="#00ff00"/><rect x="47" y="500" width="1" height="8" fill="#00ff00"/><rect x="49" y="501" width="1" height="7" fill="#00ff00"/><rect x="51" y="503" width="1" height="5" fill="#00ff00"/><rect x="53" y="505" width="1" height="3" fill="#00ff00"/><rect x="55" y="506" width="1" height="2" fill="#00ff00"/><rect x="57" y="506" width="1" height="4" fill="#ff0000"/><rect x="59" y="506" width="1" height="5" fill="#ff0000"/><rect x="61" y="506" width="1" height="5" fill="#ff0000"/><rect x="63" y="506" width="1" height="6" fill="#ff0000"/><rect x="65" y="506" width="1" height="7" fill="#ff0000"/><rect x="67" y="506" width="1" height="8" fill="#ff0000"/><rect x="69" y="506" width="1" height="9" fill="#ff0000"/><rect x="71" y="506" width="1" height="10" fill="#ff0000"/><rect x="73" y="506" width="1" height="10" fill="#ff0000"/><rect x="75" y="506" width="1" height="10" fill="#ff0000"/><rect x="77" y="506" width="1" height="10" fill="#ff0000"/><rect x="79" y="506" width="1" height="10" fill="#ff0000"/><rect x="81" y="506" width="1" height="10" fill="#ff0000"/><rect x="83" y="506" width="1" height="9" fill="#ff0000"/><rect x="85" y="506" width="1" height="6" fill="#ff0000"/><rect x="87" y="506" width="1" height="4" fill="#ff0000"/><rect x="89" y="507" width="1" height="1" fill="#00ff00"/><rect x="91" y="505" width="1" height="3" fill="#00ff00"/><rect x="93" y="504" width="1" height="4" fill="#00ff00"/><rect x="95" y="503" width="1" height="5" fill="#00ff00"/><rect x="97" y="502" width="1" height="6" fill="#00ff00"/><rect x="99" y="503" width="1" height="5" fill="#00ff00"/><rect x="101" y="504" width="1" height="4" fill="#00ff00"/><rect x="103" y="505" width="1" height="3" fill="#00ff00"/><rect x="105" y="506" width="1" height="2" fill="#ff0000"/><rect x="107" y="506" width="1" height="4" fill="#ff0000"/><rect x="109" y="506" width="1" height="4" fill="#ff0000"/><rect x="111" y="506" width="1" height="5" fill="#ff0000"/><rect x="113" y="506" width="1" height="6" fill="#ff0000"/><rect x="115" y="506" width="1" height="6" fill="#ff0000"/><rect x="117" y="506" width="1" height="7" fill="#ff0000"/><rect x="119" y="506" width="1" height="8" fill="#ff0000"/><rect x="121" y="506" width="1" height="8" fill="#ff0000"/><rect x="123" y="506" width="1" height="9" fill="#ff0000"/><rect x="125" y="506" width="1" height="10" fill="#ff0000"/><rect x="127" y="506" width="1" height="10" fill="#ff0000"/><rect x="129" y="506" width="1" height="11" fill="#ff0000"/><rect x="131" y="506" width="1" height="12" fill="#ff0000"/><rect x="133" y="506" width="1" height="13" fill="#ff0000"/><rect x="135" y="506" width="1" height="15" fill="#ff0000"/><rect x="137" y="506" width="1" height="16" fill="#ff0000"/><rect x="139" y="506" width="1" height="17" fill="#ff0000"/><rect x="141" y="506" width="1" height="17" fill="#ff0000"/><rect x="143" y="506" width="1" height="17" fill="#ff0000"/><rect x="145" y="506" width="1" height="17" fill="#ff0000"/><rect x="147" y="506" width="1" height="15" fill="#ff0000"/><rect x="149" y="506" width="1" height="14" fill="#ff0000"/><rect x="151" y="506" width="1" height="12" fill="#ff0000"/><rect x="153" y="506" width="1" height="10" fill="#ff0000"/><rect x="155" y="506" width="1" height="8" fill="#ff0000"/><rect x="157" y="506" width="1" height="6" fill="#ff0000"/><rect x="159" y="506" width="1" height="4" fill="#ff0000"/><rect x="161" y="506" width="1" height="2" fill="#ff0000"/><rect x="163" y="505" width="1" height="3" fill="#00ff00"/><rect x="165" y="503" width="1" height="5" fill="#00ff00"/><rect x="167" y="502" width="1" height="6" fill="#00ff00"/><rect x="169" y="502" width="1" height="6" fill="#00ff00"/><rect x="171" y="503" width="1" height="5" fill="#00ff00"/><rect x="173" y="505" width="1" height="3" fill="#00ff00"/><rect x="175" y="506" width="1" height="2" fill="#00ff00"/><rect x="177" y="506" width="1" height="4" fill="#ff0000"/><rect x="179" y="506" width="1" height="5" fill="#ff0000"/><rect x="181" y="506" width="1" height="6" fill="#ff0000"/><rect x="183" y="506" width="1" height="8" fill="#ff0000"/><rect x="185" y="506" width="1" height="9" fill="#ff0000"/><rect x="187" y="506" width="1" height="9" fill="#ff0000"/><rect x="189" y="506" width="1" height="10" fill="#ff0000"/><rect x="191" y="506" width="1" height="11" fill="#ff0000"/><rect x="193" y="506" width="1" height="12" fill="#ff0000"/><rect x="195" y="506" width="1" height="12" fill="#ff0000"/><rect x="197" y="506" width="1" height="13" fill="#ff0000"/><rect x="199" y="506" width="1" height="12" fill="#ff0000"/><rect x="201" y="506" width="1" height="12" fill="#ff0000"/><rect x="203" y="506" width="1" height="11" fill="#ff0000"/><rect x="205" y="506" width="1" height="11" fill="#ff0000"/><rect x="207" y="506" width="1" height="10" fill="#ff0000"/><rect x="209" y="506" width="1" height="9" fill="#ff0000"/><rect x="211" y="506" width="1" height="8" fill="#ff0000"/><rect x="213" y="506" width="1" height="7" fill="#ff0000"/><rect x="215" y="506" width="1" height="6" fill="#ff0000"/><rect x="217" y="506" width="1" height="5" fill="#ff0000"/><rect x="219" y="506" width="1" height="7" fill="#ff0000"/><rect x="221" y="506" width="1" height="8" fill="#ff0000"/><rect x="223" y="506" width="1" height="9" fill="#ff0000"/><rect x="225" y="506" width="1" height="11" fill="#ff0000"/><rect x="227" y="506" width="1" height="12" fill="#ff0000"/><rect x="229" y="506" width="1" height="12" fill="#ff0000"/><rect x="231" y="506" width="1" height="13" fill="#ff0000"/><rect x="233" y="506" width="1" height="14" fill="#ff0000"/><rect x="235" y="506" width="1" height="14" fill="#ff0000"/><rect x="237" y="506" width="1" height="14" fill="#ff0000"/><rect x="239" y="506" width="1" height="13" fill="#ff0000"/><rect x="241" y="506" width="1" height="12" fill="#ff0000"/><rect x="243" y="506" width="1" height="11" fill="#ff0000"/><rect x="245" y="506" width="1" height="11" fill="#ff0000"/><rect x="247" y="506" width="1" height="10" fill="#ff0000"/><rect x="249" y="506" width="1" height="9" fill="#ff0000"/><rect x="251" y="506" width="1" height="8" fill="#ff0000"/><rect x="253" y="506" width="1" height="7" fill="#ff0000"/><rect x="255" y="506" width="1" height="6" fill="#ff0000"/><rect x="257" y="506" width="1" height="6" fill="#ff0000"/><rect x="259" y="506" width="1" height="8" fill="#ff0000"/><rect x="261" y="506" width="1" height="9" fill="#ff0000"/><rect x="263" y="506" width="1" height="11" fill="#ff0000"/><rect x="265" y="506" width="1" height="10" fill="#ff0000"/><rect x="267" y="506" width="1" height="8" fill="#ff0000"/><rect x="269" y="506" width="1" height="7" fill="#ff0000"/><rect x="271" y="506" width="1" height="5" fill="#ff0000"/><rect x="273" y="506" width="1" height="5" fill="#ff0000"/><rect x="275" y="506" width="1" height="4" fill="#ff0000"/><rect x="277" y="506" width="1" height="3" fill="#ff0000"/><rect x="279" y="501" width="1" height="7" fill="#00ff00"/><rect x="281" y="496" width="1" height="12" fill="#00ff00"/><rect x="283" y="495" width="1" height="13" fill="#00ff00"/><rect x="285" y="494" width="1" height="14" fill="#00ff00"/><rect x="287" y="493" width="1" height="15" fill="#00ff00"/><rect x="289" y="492" width="1" height="16" fill="#00ff00"/><rect x="291" y="492" width="1" height="16" fill="#00ff00"/><rect x="293" y="491" width="1" height="17" fill="#00ff00"/><rect x="295" y="490" width="1" height="18" fill="#00ff00"/><rect x="297" y="492" width="1" height="16" fill="#00ff00"/><rect x="299" y="494" width="1" height="14" fill="#00ff00"/><rect x="301" y="496" width="1" height="12" fill="#00ff00"/><rect x="303" y="498" width="1" height="10" fill="#00ff00"/><rect x="305" y="500" width="1" height="8" fill="#00ff00"/><rect x="307" y="502" width="1" height="6" fill="#00ff00"/><rect x="309" y="503" width="1" height="5" fill="#00ff00"/><rect x="311" y="504" width="1" height="4" fill="#00ff00"/><rect x="313" y="504" width="1" height="4" fill="#00ff00"/><rect x="315" y="505" width="1" height="3" fill="#00ff00"/><rect x="317" y="504" width="1" height="4" fill="#00ff00"/><rect x="319" y="502" width="1" height="6" fill="#00ff00"/><rect x="321" y="501" width="1" height="7" fill="#00ff00"/><rect x="323" y="500" width="1" height="8" fill="#00ff00"/><rect x="325" y="500" width="1" height="8" fill="#00ff00"/><rect x="327" y="500" width="1" height="8" fill="#00ff00"/><rect x="329" y="500" width="1" height="8" fill="#00ff00"/><rect x="331" y="500" width="1" height="8" fill="#00ff00"/><rect x="333" y="500" width="1" height="8" fill="#00ff00"/><rect x="335" y="500" width="1" height="8" fill="#00ff00"/><rect x="337" y="500" width="1" height="8" fill="#00ff00"/><rect x="339" y="501" width="1" height="7" fill="#00ff00"/><rect x="341" y="502" width="1" height="6" fill="#00ff00"/><rect x="343" y="502" width="1" height="6" fill="#00ff00"/><rect x="345" y="503" width="1" height="5" fill="#00ff00"/><rect x="347" y="503" width="1" height="5" fill="#00ff00"/><rect x="349" y="503" width="1" height="5" fill="#00ff00"/><rect x="351" y="503" width="1" height="5" fill="#00ff00"/><rect x="353" y="504" width="1" height="4" fill="#00ff00"/><rect x="355" y="506" width="1" height="2" fill="#00ff00"/><rect x="357" y="506" width="1" height="4" fill="#ff0000"/><rect x="359" y="506" width="1" height="4" fill="#ff0000"/><rect x="361" y="506" width="1" height="5" fill="#ff0000"/><rect x="363" y="506" width="1" height="6" fill="#ff0000"/><rect x="365" y="506" width="1" height="8" fill="#ff0000"/><rect x="367" y="506" width="1" height="9" fill="#ff0000"/><rect x="369" y="506" width="1" height="11" fill="#ff0000"/><rect x="371" y="506" width="1" height="11" fill="#ff0000"/><rect x="373" y="506" width="1" height="11" fill="#ff0000"/><rect x="375" y="506" width="1" height="10" fill="#ff0000"/><rect x="377" y="506" width="1" height="9" fill="#ff0000"/><rect x="379" y="506" width="1" height="8" fill="#ff0000"/><rect x="381" y="506" width="1" height="6" fill="#ff0000"/><rect x="383" y="506" width="1" height="5" fill="#ff0000"/><rect x="385" y="506" width="1" height="3" fill="#ff0000"/><rect x="387" y="506" width="1" height="3" fill="#ff0000"/><rect x="389" y="506" width="1" height="3" fill="#ff0000"/><rect x="391" y="506" width="1" height="4" fill="#ff0000"/><rect x="393" y="506" width="1" height="4" fill="#ff0000"/><rect x="395" y="506" width="1" height="4" fill="#ff0000"/><rect x="397" y="506" width="1" height="4" fill="#ff0000"/><rect x="399" y="506" width="1" height="4" fill="#ff0000"/><rect x="401" y="506" width="1" height="2" fill="#ff0000"/><rect x="403" y="506" width="1" height="2" fill="#00ff00"/><rect x="405" y="506" width="1" height="2" fill="#00ff00"/><rect x="407" y="503" width="1" height="5" fill="#00ff00"/><rect x="409" y="500" width="1" height="8" fill="#00ff00"/><rect x="411" y="497" width="1" height="11" fill="#00ff00"/><rect x="413" y="497" width="1" height="11" fill="#00ff00"/><rect x="415" y="498" width="1" height="10" fill="#00ff00"/><rect x="417" y="500" width="1" height="8" fill="#00ff00"/><rect x="419" y="502" width="1" height="6" fill="#00ff00"/><rect x="421" y="504" width="1" height="4" fill="#00ff00"/><rect x="423" y="507" width="1" height="1" fill="#00ff00"/><rect x="425" y="506" width="1" height="4" fill="#ff0000"/><rect x="427" y="506" width="1" height="4" fill="#ff0000"/><rect x="429" y="506" width="1" height="5" fill="#ff0000"/><rect x="431" y="506" width="1" height="6" fill="#ff0000"/><rect x="433" y="506" width="1" height="6" fill="#ff0000"/><rect x="435" y="506" width="1" height="7" fill="#ff0000"/><rect x="437" y="506" width="1" height="7" fill="#ff0000"/><rect x="439" y="506" width="1" height="7" fill="#ff0000"/><rect x="441" y="506" width="1" height="7" fill="#ff0000"/><rect x="443" y="506" width="1" height="4" fill="#ff0000"/><rect x="445" y="504" width="1" height="4" fill="#00ff00"/><rect x="447" y="503" width="1" height="5" fill="#00ff00"/><rect x="449" y="502" width="1" height="6" fill="#00ff00"/><rect x="451" y="501" width="1" height="7" fill="#00ff00"/><rect x="453" y="500" width="1" height="8" fill="#00ff00"/><rect x="455" y="499" width="1" height="9" fill="#00ff00"/><rect x="457" y="498" width="1" height="10" fill="#00ff00"/><rect x="459" y="498" width="1" height="10" fill="#00ff00"/><rect x="461" y="497" width="1" height="11" fill="#00ff00"/><rect x="463" y="497" width="1" height="11" fill="#00ff00"/><rect x="465" y="496" width="1" height="12" fill="#00ff00"/><rect x="467" y="496" width="1" height="12" fill="#00ff00"/><rect x="469" y="496" width="1" height="12" fill="#00ff00"/><rect x="471" y="496" width="1" height="12" fill="#00ff00"/><rect x="473" y="496" width="1" height="12" fill="#00ff00"/><rect x="475" y="496" width="1" height="12" fill="#00ff00"/><rect x="477" y="497" width="1" height="11" fill="#00ff00"/><rect x="479" y="498" width="1" height="10" fill="#00ff00"/><rect x="481" y="498" width="1" height="10" fill="#00ff00"/><rect x="483" y="499" width="1" height="9" fill="#00ff00"/><rect x="485" y="500" width="1" height="8" fill="#00ff00"/><rect x="487" y="500" width="1" height="8" fill="#00ff00"/><rect x="489" y="501" width="1" height="7" fill="#00ff00"/><rect x="491" y="502" width="1" height="6" fill="#00ff00"/><rect x="493" y="502" width="1" height="6" fill="#00ff00"/><rect x="495" y="502" width="1" height="6" fill="#00ff00"/><rect x="497" y="502" width="1" height="6" fill="#00ff00"/><rect x="499" y="502" width="1" height="6" fill="#00ff00"/><rect x="501" y="502" width="1" height="6" fill="#00ff00"/><rect x="503" y="502" width="1" height="6" fill="#00ff00"/><rect x="505" y="502" width="1" height="6" fill="#00ff00"/><rect x="507" y="503" width="1" height="5" fill="#00ff00"/><rect x="509" y="503" width="1" height="5" fill="#00ff00"/><rect x="511" y="503" width="1" height="5" fill="#00ff00"/><rect x="513" y="503" width="1" height="5" fill="#00ff00"/><rect x="515" y="504" width="1" height="4" fill="#00ff00"/><rect x="517" y="504" width="1" height="4" fill="#00ff00"/><rect x="519" y="505" width="1" height="3" fill="#00ff00"/><rect x="521" y="506" width="1" height="4" fill="#ff0000"/><rect x="523" y="506" width="1" height="4" fill="#ff0000"/><rect x="525" y="506" width="1" height="3" fill="#ff0000"/><rect x="527" y="505" width="1" height="3" fill="#00ff00"/><rect x="529" y="504" width="1" height="4" fill="#00ff00"/><rect x="531" y="503" width="1" height="5" fill="#00ff00"/><rect x="533" y="502" width="1" height="6" fill="#00ff00"/><rect x="535" y="501" width="1" height="7" fill="#00ff00"/><rect x="537" y="502" width="1" height="6" fill="#00ff00"/><rect x="539" y="503" width="1" height="5" fill="#00ff00"/><rect x="541" y="504" width="1" height="4" fill="#00ff00"/><rect x="543" y="507" width="1" height="1" fill="#00ff00"/><rect x="545" y="506" width="1" height="4" fill="#ff0000"/><rect x="547" y="506" width="1" height="4" fill="#ff0000"/><rect x="549" y="506" width="1" height="2" fill="#ff0000"/><rect x="551" y="503" width="1" height="5" fill="#00ff00"/><rect x="553" y="503" width="1" height="5" fill="#00ff00"/><rect x="555" y="503" width="1" height="5" fill="#00ff00"/><rect x="557" y="503" width="1" height="5" fill="#00ff00"/><rect x="559" y="503" width="1" height="5" fill="#00ff00"/><rect x="561" y="503" width="1" height="5" fill="#00ff00"/><rect x="563" y="503" width="1" height="5" fill="#00ff00"/><rect x="565" y="503" width="1" height="5" fill="#00ff00"/><rect x="567" y="503" width="1" height="5" fill="#00ff00"/><rect x="569" y="503" width="1" height="5" fill="#00ff00"/><rect x="571" y="503" width="1" height="5" fill="#00ff00"/><rect x="573" y="503" width="1" height="5" fill="#00ff00"/><rect x="575" y="503" width="1" height="5" fill="#00ff00"/><rect x="577" y="503" width="1" height="5" fill="#00ff00"/><rect x="579" y="503" width="1" height="5" fill="#00ff00"/><rect x="581" y="504" width="1" height="4" fill="#00ff00"/><rect x="583" y="504" width="1" height="4" fill="#00ff00"/><rect x="585" y="504" width="1" height="4" fill="#00ff00"/><rect x="587" y="504" width="1" height="4" fill="#00ff00"/><rect x="589" y="504" width="1" height="4" fill="#00ff00"/><rect x="591" y="504" width="1" height="4" fill="#00ff00"/><rect x="593" y="504" width="1" height="4" fill="#00ff00"/><rect x="595" y="504" width="1" height="4" fill="#00ff00"/><rect x="597" y="504" width="1" height="4" fill="#00ff00"/><rect x="599" y="504" width="1" height="4" fill="#00ff00"/><rect x="601" y="504" width="1" height="4" fill="#00ff00"/><rect x="603" y="506" width="1" height="4" fill="#ff0000"/><rect x="605" y="506" width="1" height="4" fill="#ff0000"/><rect x="607" y="506" width="1" height="4" fill="#ff0000"/><rect x="609" y="506" width="1" height="4" fill="#ff0000"/><rect x="611" y="504" width="1" height="4" fill="#00ff00"/><rect x="613" y="504" width="1" height="4" fill="#00ff00"/><rect x="615" y="504" width="1" height="4" fill="#00ff00"/><rect x="617" y="504" width="1" height="4" fill="#00ff00"/><rect x="619" y="506" width="1" height="4" fill="#ff0000"/><rect x="621" y="506" width="1" height="4" fill="#ff0000"/><rect x="623" y="506" width="1" height="4" fill="#ff0000"/><rect x="625" y="506" width="1" height="4" fill="#ff0000"/><rect x="627" y="506" width="1" height="4" fill="#ff0000"/><rect x="629" y="506" width="1" height="4" fill="#ff0000"/><rect x="631" y="506" width="1" height="4" fill="#ff0000"/><rect x="633" y="506" width="1" height="4" fill="#ff0000"/><rect x="635" y="506" width="1" height="4" fill="#ff0000"/><rect x="637" y="506" width="1" height="4" fill="#ff0000"/><rect x="639" y="506" width="1" height="4" fill="#ff0000"/><rect x="641" y="506" width="1" height="4" fill="#ff0000"/><rect x="643" y="506" width="1" height="4" fill="#ff0000"/><rect x="645" y="503" width="1" height="5" fill="#00ff00"/><rect x="647" y="503" width="1" height="5" fill="#00ff00"/><rect x="649" y="503" width="1" height="5" fill="#00ff00"/><rect x="651" y="503" width="1" height="5" fill="#00ff00"/><rect x="653" y="503" width="1" height="5" fill="#00ff00"/><rect x="655" y="503" width="1" height="5" fill="#00ff00"/><rect x="657" y="503" width="1" height="5" fill="#00ff00"/><rect x="659" y="503" width="1" height="5" fill="#00ff00"/><rect x="661" y="503" width="1" height="5" fill="#00ff00"/><rect x="663" y="503" width="1" height="5" fill="#00ff00"/><rect x="665" y="503" width="1" height="5" fill="#00ff00"/><rect x="667" y="503" width="1" height="5" fill="#00ff00"/><rect x="669" y="503" width="1" height="5" fill="#00ff00"/><rect x="671" y="503" width="1" height="5" fill="#00ff00"/><rect x="673" y="502" width="1" height="6" fill="#00ff00"/><rect x="675" y="502" width="1" height="6" fill="#00ff00"/><rect x="677" y="502" width="1" height="6" fill="#00ff00"/><rect x="679" y="502" width="1" height="6" fill="#00ff00"/><rect x="681" y="501" width="1" height="7" fill="#00ff00"/><rect x="683" y="501" width="1" height="7" fill="#00ff00"/><rect x="685" y="500" width="1" height="8" fill="#00ff00"/><rect x="687" y="500" width="1" height="8" fill="#00ff00"/><rect x="689" y="499" width="1" height="9" fill="#00ff00"/><rect x="691" y="498" width="1" height="10" fill="#00ff00"/><rect x="693" y="498" width="1" height="10" fill="#00ff00"/><rect x="695" y="498" width="1" height="10" fill="#00ff00"/><rect x="697" y="498" width="1" height="10" fill="#00ff00"/><rect x="699" y="497" width="1" height="11" fill="#00ff00"/><rect x="701" y="497" width="1" height="11" fill="#00ff00"/><rect x="703" y="497" width="1" height="11" fill="#00ff00"/><rect x="705" y="498" width="1" height="10" fill="#00ff00"/><rect x="707" y="498" width="1" height="10" fill="#00ff00"/></g>
<polyline points="41.5,504.4 43.5,504.8 45.5,505.7 47.5,505.0 49.5,505.3 51.5,508.0 53.5,512.2 55.5,516.4 57.5,516.1 59.5,516.0 61.5,514.6 63.5,516.5 65.5,517.6 67.5,520.5 69.5,521.6 71.5,521.6 73.5,520.5 75.5,517.4 77.5,513.8 79.5,512.9 81.5,511.2 83.5,510.1 85.5,509.5 87.5,504.2 89.5,500.2 91.5,497.2 93.5,497.4 95.5,498.9 97.5,499.2 99.5,499.6 101.5,498.5 103.5,502.1 105.5,505.2 107.5,509.3 109.5,512.9 111.5,514.6 113.5,516.2 115.5,516.4 117.5,516.2 119.5,517.0 121.5,517.6 123.5,517.4 125.5,516.1 127.5,514.3 129.5,514.4 131.5,513.9 133.5,515.6 135.5,515.5 137.5,517.4 139.5,516.0 141.5,513.1 143.5,512.3 145.5,512.7 147.5,511.1 149.5,511.5 151.5,509.6 153.5,508.3 155.5,507.8 157.5,506.1 159.5,503.0 161.5,500.7 163.5,501.8 165.5,503.8 167.5,502.6 169.5,500.1 171.5,499.2 173.5,501.3 175.5,504.8 177.5,509.1 179.5,509.9 181.5,512.6 183.5,514.4 185.5,514.2 187.5,515.1 189.5,513.7 191.5,517.2 193.5,518.2 195.5,516.8 197.5,514.4 199.5,513.7 201.5,514.2 203.5,513.0 205.5,511.2 207.5,511.5 209.5,509.2 211.5,508.5 213.5,508.5 215.5,507.0 217.5,505.6 219.5,509.0 221.5,509.0 223.5,510.7 225.5,513.7 227.5,515.0 229.5,517.2 231.5,519.0 233.5,518.8 235.5,518.7 237.5,517.0 239.5,516.7 241.5,515.0 243.5,514.0 245.5,513.8 247.5,511.6 249.5,510.3 251.5,509.4 253.5,507.1 255.5,508.1 257.5,510.6 259.5,511.3 261.5,510.6 263.5,511.0 265.5,512.2 267.5,511.4 269.5,508.7 271.5,509.0 273.5,507.8 275.5,506.3 277.5,503.6 279.5,496.4 281.5,492.3 283.5,492.8 285.5,494.6 287.5,498.9 289.5,497.6 291.5,498.3 293.5,497.5 295.5,497.1 297.5,498.9 299.5,501.9 301.5,502.5 303.5,504.3 305.5,506.5 307.5,509.4 309.5,513.5 311.5,513.0 313.5,513.0 315.5,510.2 317.5,508.0 319.5,506.5 321.5,504.9 323.5,503.2 325.5,503.0 327.5,502.9 329.5,502.8 331.5,501.4 333.5,501.3 335.5,504.2 337.5,506.8 339.5,508.7 341.5,509.1 343.5,508.6 345.5,507.4 347.5,506.8 349.5,506.7 351.5,509.2 353.5,509.5 355.5,510.7 357.5,509.4 359.5,511.3 361.5,511.6 363.5,513.5 365.5,514.6 367.5,518.0 369.5,517.5 371.5,519.1 373.5,519.0 375.5,515.3 377.5,511.0 379.5,511.4 381.5,512.1 383.5,512.8 385.5,507.7 387.5,504.4 389.5,504.9 391.5,506.4 393.5,507.0 395.5,508.6 397.5,509.5 399.5,509.6 401.5,508.9 403.5,507.3 405.5,506.5 407.5,504.2 409.5,500.5 411.5,501.9 413.5,506.0 415.5,507.8 417.5,505.5 419.5,502.8 421.5,506.1 423.5,508.5 425.5,511.1 427.5,514.8 429.5,514.9 431.5,516.5 433.5,515.3 435.5,516.6 437.5,516.0 439.5,514.8 441.5,511.9 443.5,504.6 445.5,501.5 447.5,501.6 449.5,499.9 451.5,498.6 453.5,497.7 455.5,497.0 457.5,495.9 459.5,499.8 461.5,505.3 463.5,504.4 465.5,503.6 467.5,504.1 469.5,502.7 471.5,503.7 473.5,503.1 475.5,503.9 477.5,505.0 479.5,505.8 481.5,506.4 483.5,506.1 485.5,507.2 487.5,507.2 489.5,507.2 491.5,508.2 493.5,509.3 495.5,509.6 497.5,509.7 499.5,510.6 501.5,509.7 503.5,509.8 505.5,509.4 507.5,508.1 509.5,506.9 511.5,510.0 513.5,513.1 515.5,514.5 517.5,515.4 519.5,517.8 521.5,517.1 523.5,514.3 525.5,512.0 527.5,510.6 529.5,510.4 531.5,505.4 533.5,503.4 535.5,502.9 537.5,502.2 539.5,503.0 541.5,504.1 543.5,507.0 545.5,508.0 547.5,506.7 549.5,508.5 551.5,508.0 553.5,508.2 555.5,507.5 557.5,508.1 559.5,507.3 561.5,507.1 563.5,506.7 565.5,506.9 567.5,508.2 569.5,508.6 571.5,508.4 573.5,508.8 575.5,508.1 577.5,507.6 579.5,508.4 581.5,508.0 583.5,505.9 585.5,505.1 587.5,504.2 589.5,505.7 591.5,506.1 593.5,507.1 595.5,508.2 597.5,508.3 599.5,509.9 601.5,510.9 603.5,509.5 605.5,510.8 607.5,509.9 609.5,508.4 611.5,508.5 613.5,508.4 615.5,508.4 617.5,509.8 619.5,513.7 621.5,514.0 623.5,512.3 625.5,511.5 627.5,511.1 629.5,511.9 631.5,511.0 633.5,510.6 635.5,509.3 637.5,507.7 639.5,507.3 641.5,505.8 643.5,507.0 645.5,508.2 647.5,509.2 649.5,508.9 651.5,508.9 653.5,507.4 655.5,508.1 657.5,507.4 659.5,506.4 661.5,506.1 663.5,507.0 665.5,507.5 667.5,507.7 669.5,505.8 671.5,503.6 673.5,504.4 675.5,503.7 677.5,506.0 679.5,505.0 681.5,503.9 683.5,503.3 685.5,500.6 687.5,500.5 689.5,502.6 691.5,504.3 693.5,504.4 695.5,502.6 697.5,501.6 699.5,501.0 701.5,503.9 703.5,503.7 705.5,503.9 707.5,504.6" fill="none" stroke="#ffff00" stroke-width="1" shape-rendering="crispEdges"/>
<g shape-rendering="crispEdges"><rect x="43" y="557" width="1" height="1" fill="#00ff00"/><rect x="45" y="557" width="1" height="1" fill="#00ff00"/><rect x="47" y="557" width="1" height="2" fill="#00ff00"/><rect x="49" y="557" width="1" height="2" fill="#00ff00"/><rect x="51" y="557" width="1" height="2" fill="#00ff00"/><rect x="53" y="557" width="1" height="3" fill="#00ff00"/><rect x="55" y="557" width="1" height="6" fill="#00ff00"/><rect x="57" y="557" width="1" height="10" fill="#00ff00"/><rect x="59" y="557" width="1" height="13" fill="#00ff00"/><rect x="61" y="557" width="1" height="13" fill="#00ff00"/><rect x="63" y="557" width="1" height="15" fill="#00ff00"/><rect x="65" y="557" width="1" height="15" fill="#00ff00"/><rect x="67" y="557" width="1" height="16" fill="#00ff00"/><rect x="69" y="557" width="1" height="16" fill="#00ff00"/><rect x="71" y="557" width="1" height="16" fill="#00ff00"/><rect x="73" y="557" width="1" height="15" fill="#00ff00"/><rect x="75" y="557" width="1" height="15" fill="#00ff00"/><rect x="77" y="557" width="1" height="13" fill="#00ff00"/><rect x="79" y="557" width="1" height="12" fill="#00ff00"/><rect x="81" y="557" width="1" height="10" fill="#00ff00"/><rect x="83" y="557" width="1" height="7" fill="#00ff00"/><rect x="85" y="557" width="1" height="3" fill="#00ff00"/><rect x="87" y="557" width="1" height="1" fill="#00ff00"/><rect x="89" y="554" width="1" height="3" fill="#00ff00"/><rect x="91" y="548" width="1" height="9" fill="#00ff00"/><rect x="93" y="546" width="1" height="11" fill="#00ff00"/><rect x="95" y="544" width="1" height="13" fill="#00ff00"/><rect x="97" y="544" width="1" height="13" fill="#00ff00"/><rect x="99" y="545" width="1" height="12" fill="#00ff00"/><rect x="101" y="547" width="1" height="10" fill="#00ff00"/><rect x="103" y="549" width="1" height="8" fill="#00ff00"/><rect x="105" y="552" width="1" height="5" fill="#00ff00"/><rect x="107" y="555" width="1" height="2" fill="#00ff00"/><rect x="109" y="557" width="1" height="1" fill="#00ff00"/><rect x="111" y="557" width="1" height="1" fill="#00ff00"/><rect x="113" y="557" width="1" height="3" fill="#00ff00"/><rect x="115" y="557" width="1" height="5" fill="#00ff00"/><rect x="117" y="557" width="1" height="6" fill="#00ff00"/><rect x="119" y="557" width="1" height="7" fill="#00ff00"/><rect x="121" y="557" width="1" height="9" fill="#00ff00"/><rect x="123" y="557" width="1" height="10" fill="#00ff00"/><rect x="125" y="557" width="1" height="11" fill="#00ff00"/><rect x="127" y="557" width="1" height="11" fill="#00ff00"/><rect x="129" y="557" width="1" height="11" fill="#00ff00"/><rect x="131" y="557" width="1" height="10" fill="#00ff00"/><rect x="133" y="557" width="1" height="10" fill="#00ff00"/><rect x="135" y="557" width="1" height="10" fill="#00ff00"/><rect x="137" y="557" width="1" height="9" fill="#00ff00"/><rect x="139" y="557" width="1" height="9" fill="#00ff00"/><rect x="141" y="557" width="1" height="9" fill="#00ff00"/><rect x="143" y="557" width="1" height="8" fill="#00ff00"/><rect x="145" y="557" width="1" height="8" fill="#00ff00"/><rect x="147" y="557" width="1" height="8" fill="#00ff00"/><rect x="149" y="557" width="1" height="7" fill="#00ff00"/><rect x="151" y="557" width="1" height="6" fill="#00ff00"/><rect x="153" y="557" width="1" height="5" fill="#00ff00"/><rect x="155" y="557" width="1" height="4" fill="#00ff00"/><rect x="157" y="557" width="1" height="3" fill="#00ff00"/><rect x="159" y="557" width="1" height="1" fill="#00ff00"/><rect x="161" y="554" width="1" height="3" fill="#00ff00"/><rect x="163" y="548" width="1" height="9" fill="#00ff00"/><rect x="165" y="546" width="1" height="11" fill="#00ff00"/><rect x="167" y="544" width="1" height="13" fill="#00ff00"/><rect x="169" y="544" width="1" height="13" fill="#00ff00"/><rect x="171" y="545" width="1" height="12" fill="#00ff00"/><rect x="173" y="547" width="1" height="10" fill="#00ff00"/><rect x="175" y="550" width="1" height="7" fill="#00ff00"/><rect x="177" y="554" width="1" height="3" fill="#00ff00"/><rect x="179" y="557" width="1" height="1" fill="#00ff00"/><rect x="181" y="557" width="1" height="2" fill="#00ff00"/><rect x="183" y="557" width="1" height="4" fill="#00ff00"/><rect x="185" y="557" width="1" height="5" fill="#00ff00"/><rect x="187" y="557" width="1" height="6" fill="#00ff00"/><rect x="189" y="557" width="1" height="7" fill="#00ff00"/><rect x="191" y="557" width="1" height="8" fill="#00ff00"/><rect x="193" y="557" width="1" height="8" fill="#00ff00"/><rect x="195" y="557" width="1" height="8" fill="#00ff00"/><rect x="197" y="557" width="1" height="9" fill="#00ff00"/><rect x="199" y="557" width="1" height="9" fill="#00ff00"/><rect x="201" y="557" width="1" height="7" fill="#00ff00"/><rect x="203" y="557" width="1" height="6" fill="#00ff00"/><rect x="205" y="557" width="1" height="5" fill="#00ff00"/><rect x="207" y="557" width="1" height="2" fill="#00ff00"/><rect x="209" y="555" width="1" height="2" fill="#00ff00"/><rect x="211" y="554" width="1" height="3" fill="#00ff00"/><rect x="213" y="554" width="1" height="3" fill="#00ff00"/><rect x="215" y="554" width="1" height="3" fill="#00ff00"/><rect x="217" y="554" width="1" height="3" fill="#00ff00"/><rect x="219" y="554" width="1" height="3" fill="#00ff00"/><rect x="221" y="557" width="1" height="1" fill="#00ff00"/><rect x="223" y="557" width="1" height="2" fill="#00ff00"/><rect x="225" y="557" width="1" height="3" fill="#00ff00"/><rect x="227" y="557" width="1" height="5" fill="#00ff00"/><rect x="229" y="557" width="1" height="6" fill="#00ff00"/><rect x="231" y="557" width="1" height="6" fill="#00ff00"/><rect x="233" y="557" width="1" height="7" fill="#00ff00"/><rect x="235" y="557" width="1" height="7" fill="#00ff00"/><rect x="237" y="557" width="1" height="7" fill="#00ff00"/><rect x="239" y="557" width="1" height="7" fill="#00ff00"/><rect x="241" y="557" width="1" height="6" fill="#00ff00"/><rect x="243" y="557" width="1" height="5" fill="#00ff00"/><rect x="245" y="557" width="1" height="4" fill="#00ff00"/><rect x="247" y="557" width="1" height="3" fill="#00ff00"/><rect x="249" y="557" width="1" height="2" fill="#00ff00"/><rect x="251" y="556" width="1" height="1" fill="#00ff00"/><rect x="253" y="555" width="1" height="2" fill="#00ff00"/><rect x="255" y="555" width="1" height="2" fill="#00ff00"/><rect x="257" y="555" width="1" height="2" fill="#00ff00"/><rect x="259" y="555" width="1" height="2" fill="#00ff00"/><rect x="261" y="555" width="1" height="2" fill="#00ff00"/><rect x="263" y="557" width="1" height="1" fill="#00ff00"/><rect x="265" y="557" width="1" height="1" fill="#00ff00"/><rect x="267" y="557" width="1" height="1" fill="#00ff00"/><rect x="269" y="553" width="1" height="4" fill="#00ff00"/><rect x="271" y="551" width="1" height="6" fill="#00ff00"/><rect x="273" y="550" width="1" height="7" fill="#00ff00"/><rect x="275" y="549" width="1" height="8" fill="#00ff00"/><rect x="277" y="548" width="1" height="9" fill="#00ff00"/><rect x="279" y="545" width="1" height="12" fill="#00ff00"/><rect x="281" y="542" width="1" height="15" fill="#00ff00"/><rect x="283" y="540" width="1" height="17" fill="#00ff00"/><rect x="285" y="539" width="1" height="18" fill="#00ff00"/><rect x="287" y="540" width="1" height="17" fill="#00ff00"/><rect x="289" y="540" width="1" height="17" fill="#00ff00"/><rect x="291" y="540" width="1" height="17" fill="#00ff00"/><rect x="293" y="542" width="1" height="15" fill="#00ff00"/><rect x="295" y="544" width="1" height="13" fill="#00ff00"/><rect x="297" y="546" width="1" height="11" fill="#00ff00"/><rect x="299" y="548" width="1" height="9" fill="#00ff00"/><rect x="301" y="550" width="1" height="7" fill="#00ff00"/><rect x="303" y="552" width="1" height="5" fill="#00ff00"/><rect x="305" y="554" width="1" height="3" fill="#00ff00"/><rect x="307" y="556" width="1" height="1" fill="#00ff00"/><rect x="309" y="557" width="1" height="4" fill="#00ff00"/><rect x="311" y="557" width="1" height="6" fill="#00ff00"/><rect x="313" y="557" width="1" height="5" fill="#00ff00"/><rect x="315" y="557" width="1" height="4" fill="#00ff00"/><rect x="317" y="557" width="1" height="2" fill="#00ff00"/><rect x="319" y="557" width="1" height="1" fill="#00ff00"/><rect x="321" y="556" width="1" height="1" fill="#00ff00"/><rect x="323" y="556" width="1" height="1" fill="#00ff00"/><rect x="325" y="556" width="1" height="1" fill="#00ff00"/><rect x="327" y="556" width="1" height="1" fill="#00ff00"/><rect x="329" y="556" width="1" height="1" fill="#00ff00"/><rect x="331" y="556" width="1" height="1" fill="#00ff00"/><rect x="333" y="557" width="1" height="1" fill="#00ff00"/><rect x="335" y="557" width="1" height="1" fill="#00ff00"/><rect x="337" y="557" width="1" height="1" fill="#00ff00"/><rect x="339" y="557" width="1" height="3" fill="#00ff00"/><rect x="341" y="557" width="1" height="3" fill="#00ff00"/><rect x="343" y="557" width="1" height="4" fill="#00ff00"/><rect x="345" y="557" width="1" height="4" fill="#00ff00"/><rect x="347" y="557" width="1" height="5" fill="#00ff00"/><rect x="349" y="557" width="1" height="5" fill="#00ff00"/><rect x="351" y="557" width="1" height="5" fill="#00ff00"/><rect x="353" y="557" width="1" height="5" fill="#00ff00"/><rect x="355" y="557" width="1" height="5" fill="#00ff00"/><rect x="357" y="557" width="1" height="6" fill="#00ff00"/><rect x="359" y="557" width="1" height="7" fill="#00ff00"/><rect x="361" y="557" width="1" height="7" fill="#00ff00"/><rect x="363" y="557" width="1" height="9" fill="#00ff00"/><rect x="365" y="557" width="1" height="9" fill="#00ff00"/><rect x="367" y="557" width="1" height="11" fill="#00ff00"/><rect x="369" y="557" width="1" height="11" fill="#00ff00"/><rect x="371" y="557" width="1" height="11" fill="#00ff00"/><rect x="373" y="557" width="1" height="11" fill="#00ff00"/><rect x="375" y="557" width="1" height="9" fill="#00ff00"/><rect x="377" y="557" width="1" height="8" fill="#00ff00"/><rect x="379" y="557" width="1" height="7" fill="#00ff00"/><rect x="381" y="557" width="1" height="5" fill="#00ff00"/><rect x="383" y="557" width="1" height="4" fill="#00ff00"/><rect x="385" y="557" width="1" height="3" fill="#00ff00"/><rect x="387" y="557" width="1" height="1" fill="#00ff00"/><rect x="389" y="557" width="1" height="1" fill="#00ff00"/><rect x="391" y="557" width="1" height="1" fill="#00ff00"/><rect x="393" y="557" width="1" height="1" fill="#00ff00"/><rect x="395" y="557" width="1" height="1" fill="#00ff00"/><rect x="397" y="557" width="1" height="1" fill="#00ff00"/><rect x="399" y="557" width="1" height="1" fill="#00ff00"/><rect x="401" y="557" width="1" height="1" fill="#00ff00"/><rect x="403" y="557" width="1" height="1" fill="#00ff00"/><rect x="405" y="552" width="1" height="5" fill="#00ff00"/><rect x="407" y="549" width="1" height="8" fill="#00ff00"/><rect x="409" y="546" width="1" height="11" fill="#00ff00"/><rect x="411" y="545" width="1" height="12" fill="#00ff00"/><rect x="413" y="545" width="1" height="12" fill="#00ff00"/><rect x="415" y="548" width="1" height="9" fill="#00ff00"/><rect x="417" y="551" width="1" height="6" fill="#00ff00"/><rect x="419" y="554" width="1" height="3" fill="#00ff00"/><rect x="421" y="556" width="1" height="1" fill="#00ff00"/><rect x="423" y="557" width="1" height="2" fill="#00ff00"/><rect x="425" y="557" width="1" height="4" fill="#00ff00"/><rect x="427" y="557" width="1" height="5" fill="#00ff00"/><rect x="429" y="557" width="1" height="6" fill="#00ff00"/><rect x="431" y="557" width="1" height="7" fill="#00ff00"/><rect x="433" y="557" width="1" height="8" fill="#00ff00"/><rect x="435" y="557" width="1" height="9" fill="#00ff00"/><rect x="437" y="557" width="1" height="9" fill="#00ff00"/><rect x="439" y="557" width="1" height="9" fill="#00ff00"/><rect x="441" y="557" width="1" height="9" fill="#00ff00"/><rect x="443" y="557" width="1" height="1" fill="#00ff00"/><rect x="445" y="552" width="1" height="5" fill="#00ff00"/><rect x="447" y="551" width="1" height="6" fill="#00ff00"/><rect x="449" y="550" width="1" height="7" fill="#00ff00"/><rect x="451" y="549" width="1" height="8" fill="#00ff00"/><rect x="453" y="549" width="1" height="8" fill="#00ff00"/><rect x="455" y="548" width="1" height="9" fill="#00ff00"/><rect x="457" y="547" width="1" height="10" fill="#00ff00"/><rect x="459" y="548" width="1" height="9" fill="#00ff00"/><rect x="461" y="549" width="1" height="8" fill="#00ff00"/><rect x="463" y="549" width="1" height="8" fill="#00ff00"/><rect x="465" y="550" width="1" height="7" fill="#00ff00"/><rect x="467" y="551" width="1" height="6" fill="#00ff00"/><rect x="469" y="551" width="1" height="6" fill="#00ff00"/><rect x="471" y="552" width="1" height="5" fill="#00ff00"/><rect x="473" y="553" width="1" height="4" fill="#00ff00"/><rect x="475" y="553" width="1" height="4" fill="#00ff00"/><rect x="477" y="554" width="1" height="3" fill="#00ff00"/><rect x="479" y="554" width="1" height="3" fill="#00ff00"/><rect x="481" y="555" width="1" height="2" fill="#00ff00"/><rect x="483" y="555" width="1" height="2" fill="#00ff00"/><rect x="485" y="556" width="1" height="1" fill="#00ff00"/><rect x="487" y="556" width="1" height="1" fill="#00ff00"/><rect x="489" y="557" width="1" height="2" fill="#00ff00"/><rect x="491" y="557" width="1" height="2" fill="#00ff00"/><rect x="493" y="557" width="1" height="2" fill="#00ff00"/><rect x="495" y="557" width="1" height="3" fill="#00ff00"/><rect x="497" y="557" width="1" height="3" fill="#00ff00"/><rect x="499" y="557" width="1" height="3" fill="#00ff00"/><rect x="501" y="557" width="1" height="4" fill="#00ff00"/><rect x="503" y="557" width="1" height="4" fill="#00ff00"/><rect x="505" y="557" width="1" height="5" fill="#00ff00"/><rect x="507" y="557" width="1" height="5" fill="#00ff00"/><rect x="509" y="557" width="1" height="7" fill="#00ff00"/><rect x="511" y="557" width="1" height="7" fill="#00ff00"/><rect x="513" y="557" width="1" height="9" fill="#00ff00"/><rect x="515" y="557" width="1" height="10" fill="#00ff00"/><rect x="517" y="557" width="1" height="11" fill="#00ff00"/><rect x="519" y="557" width="1" height="13" fill="#00ff00"/><rect x="521" y="557" width="1" height="13" fill="#00ff00"/><rect x="523" y="557" width="1" height="11" fill="#00ff00"/><rect x="525" y="557" width="1" height="7" fill="#00ff00"/><rect x="527" y="557" width="1" height="1" fill="#00ff00"/><rect x="529" y="554" width="1" height="3" fill="#00ff00"/><rect x="531" y="554" width="1" height="3" fill="#00ff00"/><rect x="533" y="553" width="1" height="4" fill="#00ff00"/><rect x="535" y="552" width="1" height="5" fill="#00ff00"/><rect x="537" y="553" width="1" height="4" fill="#00ff00"/><rect x="539" y="554" width="1" height="3" fill="#00ff00"/><rect x="541" y="554" width="1" height="3" fill="#00ff00"/><rect x="543" y="556" width="1" height="1" fill="#00ff00"/><rect x="545" y="557" width="1" height="1" fill="#00ff00"/><rect x="547" y="557" width="1" height="1" fill="#00ff00"/><rect x="549" y="557" width="1" height="1" fill="#00ff00"/><rect x="551" y="557" width="1" height="1" fill="#00ff00"/><rect x="553" y="557" width="1" height="1" fill="#00ff00"/><rect x="555" y="557" width="1" height="1" fill="#00ff00"/><rect x="557" y="557" width="1" height="1" fill="#00ff00"/><rect x="559" y="557" width="1" height="1" fill="#00ff00"/><rect x="561" y="557" width="1" height="1" fill="#00ff00"/><rect x="563" y="557" width="1" height="1" fill="#00ff00"/><rect x="565" y="557" width="1" height="1" fill="#00ff00"/><rect x="567" y="557" width="1" height="1" fill="#00ff00"/><rect x="569" y="557" width="1" height="1" fill="#00ff00"/><rect x="571" y="557" width="1" height="1" fill="#00ff00"/><rect x="573" y="557" width="1" height="1" fill="#00ff00"/><rect x="575" y="557" width="1" height="1" fill="#00ff00"/><rect x="577" y="557" width="1" height="1" fill="#00ff00"/><rect x="579" y="556" width="1" height="1" fill="#00ff00"/><rect x="581" y="555" width="1" height="2" fill="#00ff00"/><rect x="583" y="555" width="1" height="2" fill="#00ff00"/><rect x="585" y="555" width="1" height="2" fill="#00ff00"/><rect x="587" y="555" width="1" height="2" fill="#00ff00"/><rect x="589" y="555" width="1" height="2" fill="#00ff00"/><rect x="591" y="555" width="1" height="2" fill="#00ff00"/><rect x="593" y="555" width="1" height="2" fill="#00ff00"/><rect x="595" y="555" width="1" height="2" fill="#00ff00"/><rect x="597" y="555" width="1" height="2" fill="#00ff00"/><rect x="599" y="555" width="1" height="2" fill="#00ff00"/><rect x="601" y="555" width="1" height="2" fill="#00ff00"/><rect x="603" y="557" width="1" height="3" fill="#00ff00"/><rect x="605" y="557" width="1" height="3" fill="#00ff00"/><rect x="607" y="557" width="1" height="4" fill="#00ff00"/><rect x="609" y="557" width="1" height="4" fill="#00ff00"/><rect x="611" y="557" width="1" height="4" fill="#00ff00"/><rect x="613" y="557" width="1" height="4" fill="#00ff00"/><rect x="615" y="557" width="1" height="4" fill="#00ff00"/><rect x="617" y="557" width="1" height="4" fill="#00ff00"/><rect x="619" y="557" width="1" height="4" fill="#00ff00"/><rect x="621" y="557" width="1" height="4" fill="#00ff00"/><rect x="623" y="557" width="1" height="4" fill="#00ff00"/><rect x="625" y="557" width="1" height="4" fill="#00ff00"/><rect x="627" y="557" width="1" height="4" fill="#00ff00"/><rect x="629" y="557" width="1" height="4" fill="#00ff00"/><rect x="631" y="557" width="1" height="4" fill="#00ff00"/><rect x="633" y="557" width="1" height="4" fill="#00ff00"/><rect x="635" y="557" width="1" height="3" fill="#00ff00"/><rect x="637" y="557" width="1" height="3" fill="#00ff00"/><rect x="639" y="557" width="1" height="3" fill="#00ff00"/><rect x="641" y="557" width="1" height="3" fill="#00ff00"/><rect x="643" y="557" width="1" height="3" fill="#00ff00"/><rect x="645" y="557" width="1" height="3" fill="#00ff00"/><rect x="647" y="557" width="1" height="3" fill="#00ff00"/><rect x="649" y="557" width="1" height="3" fill="#00ff00"/><rect x="651" y="556" width="1" height="1" fill="#00ff00"/><rect x="653" y="555" width="1" height="2" fill="#00ff00"/><rect x="655" y="555" width="1" height="2" fill="#00ff00"/><rect x="657" y="555" width="1" height="2" fill="#00ff00"/><rect x="659" y="554" width="1" height="3" fill="#00ff00"/><rect x="661" y="554" width="1" height="3" fill="#00ff00"/><rect x="663" y="554" width="1" height="3" fill="#00ff00"/><rect x="665" y="553" width="1" height="4" fill="#00ff00"/><rect x="667" y="553" width="1" height="4" fill="#00ff00"/><rect x="669" y="553" width="1" height="4" fill="#00ff00"/><rect x="671" y="552" width="1" height="5" fill="#00ff00"/><rect x="673" y="552" width="1" height="5" fill="#00ff00"/><rect x="675" y="552" width="1" height="5" fill="#00ff00"/><rect x="677" y="552" width="1" height="5" fill="#00ff00"/><rect x="679" y="551" width="1" height="6" fill="#00ff00"/><rect x="681" y="551" width="1" height="6" fill="#00ff00"/><rect x="683" y="551" width="1" height="6" fill="#00ff00"/><rect x="685" y="551" width="1" height="6" fill="#00ff00"/><rect x="687" y="551" width="1" height="6" fill="#00ff00"/><rect x="689" y="551" width="1" height="6" fill="#00ff00"/><rect x="691" y="551" width="1" height="6" fill="#00ff00"/><rect x="693" y="551" width="1" height="6" fill="#00ff00"/><rect x="695" y="551" width="1" height="6" fill="#00ff00"/><rect x="697" y="551" width="1" height="6" fill="#00ff00"/><rect x="699" y="550" width="1" height="7" fill="#00ff00"/><rect x="701" y="551" width="1" height="6" fill="#00ff00"/><rect x="703" y="552" width="1" height="5" fill="#00ff00"/><rect x="705" y="552" width="1" height="5" fill="#00ff00"/><rect x="707" y="553" width="1" height="4" fill="#00ff00"/></g>
<polyline points="41.5,550.0 43.5,550.9 45.5,550.7 47.5,550.4 49.5,553.0 51.5,554.3 53.5,559.2 55.5,564.2 57.5,564.8 59.5,564.6 61.5,563.2 63.5,565.3 65.5,566.3 67.5,566.8 69.5,568.2 71.5,566.8 73.5,566.2 75.5,564.8 77.5,565.3 79.5,565.0 81.5,567.6 83.5,567.5 85.5,559.1 87.5,556.9 89.5,553.5 91.5,552.6 93.5,552.2 95.5,551.2 97.5,552.8 99.5,553.3 101.5,555.0 103.5,556.0 105.5,557.1 107.5,559.9 109.5,560.1 111.5,561.5 113.5,563.0 115.5,564.2 117.5,564.8 119.5,565.9 121.5,567.1 123.5,568.1 125.5,567.7 127.5,565.1 129.5,565.3 131.5,564.5 133.5,566.2 135.5,567.6 137.5,569.9 139.5,569.7 141.5,568.1 143.5,566.9 145.5,564.7 147.5,566.4 149.5,565.5 151.5,566.3 153.5,564.4 155.5,562.9 157.5,562.2 159.5,559.1 161.5,554.4 163.5,554.2 165.5,554.2 167.5,553.2 169.5,553.1 171.5,553.7 173.5,555.9 175.5,558.6 177.5,561.2 179.5,561.7 181.5,563.1 183.5,562.8 185.5,564.7 187.5,565.6 189.5,566.6 191.5,565.7 193.5,565.8 195.5,567.1 197.5,565.8 199.5,567.5 201.5,567.4 203.5,565.0 205.5,564.2 207.5,564.0 209.5,562.0 211.5,560.6 213.5,560.9 215.5,560.6 217.5,562.3 219.5,562.0 221.5,563.9 223.5,566.0 225.5,566.2 227.5,568.4 229.5,571.4 231.5,573.8 233.5,573.2 235.5,569.9 237.5,569.1 239.5,568.0 241.5,567.9 243.5,568.7 245.5,568.1 247.5,567.6 249.5,565.7 251.5,563.6 253.5,565.1 255.5,565.5 257.5,566.1 259.5,567.1 261.5,569.0 263.5,570.8 265.5,564.5 267.5,560.4 269.5,559.3 271.5,556.3 273.5,554.2 275.5,554.0 277.5,551.0 279.5,549.6 281.5,549.1 283.5,550.4 285.5,550.8 287.5,550.3 289.5,550.2 291.5,548.6 293.5,550.3 295.5,551.0 297.5,550.1 299.5,551.2 301.5,552.5 303.5,553.7 305.5,555.1 307.5,556.9 309.5,557.7 311.5,555.1 313.5,555.3 315.5,553.5 317.5,552.2 319.5,551.6 321.5,550.8 323.5,550.7 325.5,551.4 327.5,551.5 329.5,552.1 331.5,551.2 333.5,549.6 335.5,550.3 337.5,552.3 339.5,554.6 341.5,555.1 343.5,554.1 345.5,555.0 347.5,554.8 349.5,553.3 351.5,552.4 353.5,556.3 355.5,559.9 357.5,560.9 359.5,560.0 361.5,561.0 363.5,562.8 365.5,564.5 367.5,567.3 369.5,568.4 371.5,568.9 373.5,567.5 375.5,564.9 377.5,560.3 379.5,560.2 381.5,561.3 383.5,561.6 385.5,558.9 387.5,555.9 389.5,558.0 391.5,559.3 393.5,560.3 395.5,560.3 397.5,560.6 399.5,558.5 401.5,557.8 403.5,555.7 405.5,552.3 407.5,550.2 409.5,547.9 411.5,549.0 413.5,550.2 415.5,551.4 417.5,556.8 419.5,558.3 421.5,556.3 423.5,557.0 425.5,561.0 427.5,562.7 429.5,564.0 431.5,563.7 433.5,564.5 435.5,563.5 437.5,565.0 439.5,565.7 441.5,560.2 443.5,553.4 445.5,551.6 447.5,552.0 449.5,551.1 451.5,551.3 453.5,550.6 455.5,548.5 457.5,550.0 459.5,551.1 461.5,553.5 463.5,552.8 465.5,551.5 467.5,550.6 469.5,552.6 471.5,553.8 473.5,551.3 475.5,550.2 477.5,550.3 479.5,550.8 481.5,551.9 483.5,551.3 485.5,551.4 487.5,552.4 489.5,551.4 491.5,553.4 493.5,554.4 495.5,554.3 497.5,555.8 499.5,554.8 501.5,552.8 503.5,555.1 505.5,554.7 507.5,555.3 509.5,557.9 511.5,558.5 513.5,562.0 515.5,566.9 517.5,567.1 519.5,567.3 521.5,566.6 523.5,563.8 525.5,560.8 527.5,558.1 529.5,557.6 531.5,555.8 533.5,554.5 535.5,553.7 537.5,554.2 539.5,554.7 541.5,557.4 543.5,559.8 545.5,558.8 547.5,556.9 549.5,556.0 551.5,555.5 553.5,556.5 555.5,556.2 557.5,557.4 559.5,557.6 561.5,557.4 563.5,557.2 565.5,558.0 567.5,560.5 569.5,560.0 571.5,558.8 573.5,557.5 575.5,556.5 577.5,556.6 579.5,555.5 581.5,554.8 583.5,554.1 585.5,553.8 587.5,552.4 589.5,552.3 591.5,553.5 593.5,555.6 595.5,557.3 597.5,553.6 599.5,553.9 601.5,557.3 603.5,560.6 605.5,560.7 607.5,558.4 609.5,557.3 611.5,553.7 613.5,555.5 615.5,558.4 617.5,561.1 619.5,564.6 621.5,564.4 623.5,562.0 625.5,559.5 627.5,560.1 629.5,561.2 631.5,561.8 633.5,560.6 635.5,560.2 637.5,561.0 639.5,559.9 641.5,559.5 643.5,557.7 645.5,557.1 647.5,555.8 649.5,557.1 651.5,560.2 653.5,558.4 655.5,555.6 657.5,554.5 659.5,555.1 661.5,555.7 663.5,556.3 665.5,556.4 667.5,557.6 669.5,555.7 671.5,553.3 673.5,548.8 675.5,549.5 677.5,551.1 679.5,548.8 681.5,547.0 683.5,544.0 685.5,544.4 687.5,542.4 689.5,542.0 691.5,543.7 693.5,543.4 695.5,542.8 697.5,542.0 699.5,540.4 701.5,540.8 703.5,542.7 705.5,543.0 707.5,543.5" fill="none" stroke="#ffff00" stroke-width="1" shape-rendering="crispEdges"/>
<text x="33" y="340.0" text-anchor="end">4000</text>
<rect x="36" y="336" width="3" height="1" fill="#000"/>
<rect x="761" y="336" width="3" height="1" fill="#000"/>
<text x="767" y="340.0">4000</text>
<text x="33" y="295.7" text-anchor="end">4200</text>
<rect x="36" y="291" width="3" height="1" fill="#000"/>
<rect x="761" y="291" width="3" height="1" fill="#000"/>
<text x="767" y="295.7">4200</text>
<text x="33" y="251.3" text-anchor="end">4400</text>
<rect x="36" y="247" width="3" height="1" fill="#000"/>
<rect x="761" y="247" width="3" height="1" fill="#000"/>
<text x="767" y="251.3">4400</text>
<text x="33" y="206.9" text-anchor="end">4600</text>
<rect x="36" y="202" width="3" height="1" fill="#000"/>
<rect x="761" y="202" width="3" height="1" fill="#000"/>
<text x="767" y="206.9">4600</text>
<text x="33" y="162.6" text-anchor="end">4800</text>
<rect x="36" y="158" width="3" height="1" fill="#000"/>
<rect x="761" y="158" width="3" height="1" fill="#000"/>
<text x="767" y="162.6">4800</text>
<text x="33" y="118.2" text-anchor="end">5000</text>
<rect x="36" y="114" width="3" height="1" fill="#000"/>
<rect x="761" y="114" width="3" height="1" fill="#000"/>
<text x="767" y="118.2">5000</text>
<text x="33" y="73.9" text-anchor="end">5200</text>
<rect x="36" y="69" width="3" height="1" fill="#000"/>
<rect x="761" y="69" width="3" height="1" fill="#000"/>
<text x="767" y="73.9">5200</text>
<text x="33" y="29.5" text-anchor="end">5400</text>
<rect x="36" y="25" width="3" height="1" fill="#000"/>
<rect x="761" y="25" width="3" height="1" fill="#000"/>
<text x="767" y="29.5">5400</text>
<text x="5" y="13">XXP</text><text x="763" y="13">XXP</text>
<text x="4" y="397.5">DSS</text>
<text x="4" y="445.5">SSTI</text>
<text x="1" y="495.7">MOM</text>
<text x="9" y="544">RSI</text>
<text x="763" y="397.5">DSS</text>
<text x="763" y="445.5">STO</text>
<text x="763" y="495.7">BBBI</text>
<text x="763" y="544">MAC</text>
<text x="33" y="428.5" text-anchor="end">0</text><rect x="36" y="424" width="3" height="1"/>
<text x="33" y="511.5" text-anchor="end">0 T</text><rect x="36" y="507" width="3" height="1"/>
<text x="33" y="561.5" text-anchor="end">50</text><rect x="36" y="557" width="3" height="1"/>
<rect x="761" y="424" width="3" height="1"/><text x="767" y="428">0</text>
<rect x="761" y="475" width="3" height="1"/><text x="767" y="479">0</text>
<rect x="761" y="557" width="3" height="1"/><text x="767" y="561">0</text>
<rect x="55" y="585" width="1" height="3" fill="#000"/>
<text x="57" y="596">6</text>
<rect x="74" y="585" width="1" height="3" fill="#000"/>
<text x="76" y="596">7</text>
<rect x="91" y="585" width="1" height="3" fill="#000"/>
<text x="93" y="596">10</text>
<rect x="109" y="585" width="1" height="3" fill="#000"/>
<text x="111" y="596">11</text>
<rect x="126" y="585" width="1" height="3" fill="#000"/>
<text x="128" y="596">12</text>
<rect x="144" y="585" width="1" height="3" fill="#000"/>
<text x="146" y="596">13</text>
<rect x="162" y="585" width="1" height="3" fill="#000"/>
<text x="164" y="596">14</text>
<rect x="179" y="585" width="1" height="3" fill="#000"/>
<text x="181" y="596">17</text>
<rect x="196" y="585" width="1" height="3" fill="#000"/>
<text x="198" y="596">18</text>
<rect x="214" y="585" width="1" height="3" fill="#000"/>
<text x="216" y="596">19</text>
<rect x="232" y="585" width="1" height="3" fill="#000"/>
<text x="234" y="596">20</text>
<rect x="249" y="585" width="1" height="3" fill="#000"/>
<text x="251" y="596">21</text>
<rect x="267" y="585" width="1" height="3" fill="#000"/>
<text x="269" y="596">24</text>
<rect x="284" y="585" width="1" height="3" fill="#000"/>
<text x="286" y="596">25</text>
<rect x="302" y="585" width="1" height="3" fill="#000"/>
<text x="304" y="596">26</text>
<rect x="320" y="585" width="1" height="3" fill="#000"/>
<text x="322" y="596">27</text>
<rect x="338" y="585" width="1" height="3" fill="#000"/>
<text x="340" y="596">28</text>
<rect x="355" y="585" width="1" height="3" fill="#000"/>
<text x="357" y="596">Dez</text>
<rect x="390" y="585" width="1" height="3" fill="#000"/>
<text x="392" y="596">3</text>
<rect x="408" y="585" width="1" height="3" fill="#000"/>
<text x="410" y="596">4</text>
<rect x="426" y="585" width="1" height="3" fill="#000"/>
<text x="428" y="596">5</text>
<rect x="444" y="585" width="1" height="3" fill="#000"/>
<text x="446" y="596">8</text>
<rect x="461" y="585" width="1" height="3" fill="#000"/>
<text x="463" y="596">9</text>
<rect x="479" y="585" width="1" height="3" fill="#000"/>
<text x="481" y="596">10</text>
<rect x="496" y="585" width="1" height="3" fill="#000"/>
<text x="498" y="596">11</text>
<rect x="514" y="585" width="1" height="3" fill="#000"/>
<text x="516" y="596">12</text>
<rect x="531" y="585" width="1" height="3" fill="#000"/>
<text x="533" y="596">15</text>
<rect x="549" y="585" width="1" height="3" fill="#000"/>
<text x="551" y="596">16</text>
<rect x="566" y="585" width="1" height="3" fill="#000"/>
<text x="568" y="596">17</text>
<rect x="584" y="585" width="1" height="3" fill="#000"/>
<text x="586" y="596">18</text>
<rect x="602" y="585" width="1" height="3" fill="#000"/>
<text x="604" y="596">19</text>
<rect x="619" y="585" width="1" height="3" fill="#000"/>
<text x="621" y="596">22</text>
<rect x="637" y="585" width="1" height="3" fill="#000"/>
<text x="639" y="596">23</text>
<rect x="654" y="585" width="1" height="3" fill="#000"/>
<text x="656" y="596">29</text>
<rect x="684" y="585" width="1" height="3" fill="#000"/>
<text x="686" y="596">2009</text>
<rect x="728" y="585" width="1" height="3" fill="#000"/>
<text x="730" y="596">6</text>
<rect x="49" y="4" width="2" height="12" fill="#fff"/><rect x="47" y="7" width="6" height="6" fill="#fff"/>
<text x="58" y="14" class="w" xml:space="preserve">DAX Perf. Index [.DAX  1 Stunde] 05.01.2009 13:00:00 - <tspan class="r">O:4995,44</tspan> H:5001,41 L:4981,92 <tspan class="c">C:4998,03</tspan></text>
<path d="M44.5,27 l2.5,-4.5 q1.5,-1.5 3,1 l3,4 q1,1 2,-0.5 l1.5,-3" fill="none" stroke="#fff" stroke-width="1.1"/>
<text x="58.5" y="28.5" class="w">Moving Average Index Dynamic [Close, 9, 12, 0,01] <tspan class="g">4912,33</tspan> {.DAX}</text>
<path d="M44.5,41.5 l2.5,-4.5 q1.5,-1.5 3,1 l3,4 q1,1 2,-0.5 l1.5,-3" fill="none" stroke="#fff" stroke-width="1.1"/>
<text x="58.5" y="43" class="w">Moving Average Simple [Close, 20, Nein] <tspan class="o">4882,69</tspan> {.DAX}</text>
</svg></body></html>
